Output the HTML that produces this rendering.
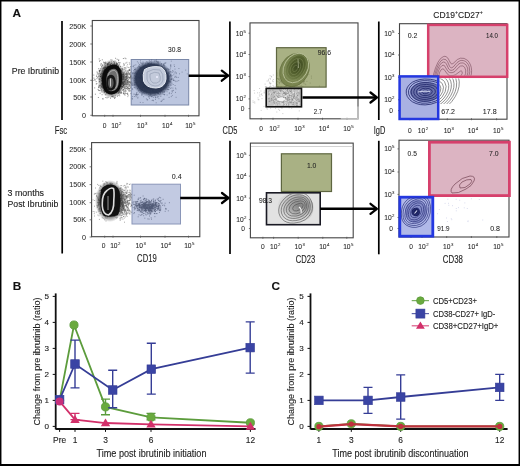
<!DOCTYPE html><html><head><meta charset="utf-8"><style>html,body{margin:0;padding:0;background:#fff;}svg{display:block;will-change:transform;}</style></head><body>
<svg width="520" height="466" viewBox="0 0 520 466" font-family='"Liberation Sans", sans-serif'>
<rect width="520" height="466" fill="#fff"/>
<text x="12.6" y="17.3" font-size="11.8" fill="#111" font-weight="bold" stroke="#222" stroke-width="0.12">A</text>
<text x="11.8" y="73.6" font-size="9.4" fill="#222" textLength="47.2" lengthAdjust="spacingAndGlyphs" stroke="#222" stroke-width="0.12">Pre Ibrutinib</text>
<text x="7.5" y="195.9" font-size="9.4" fill="#222" textLength="36.5" lengthAdjust="spacingAndGlyphs" stroke="#222" stroke-width="0.12">3 months</text>
<text x="7.5" y="206.6" font-size="9.4" fill="#222" textLength="50.9" lengthAdjust="spacingAndGlyphs" stroke="#222" stroke-width="0.12">Post Ibrutinib</text>
<line x1="62" y1="21" x2="62" y2="120" stroke="#000" stroke-width="1.7"/>
<line x1="229.9" y1="21.5" x2="229.9" y2="120" stroke="#000" stroke-width="1.7"/>
<line x1="378.8" y1="21.5" x2="378.8" y2="120" stroke="#000" stroke-width="1.7"/>
<line x1="62.2" y1="140.5" x2="62.2" y2="253.5" stroke="#000" stroke-width="1.7"/>
<line x1="230" y1="140.8" x2="230" y2="254" stroke="#000" stroke-width="1.7"/>
<line x1="378.8" y1="140.8" x2="378.8" y2="254.3" stroke="#000" stroke-width="1.7"/>
<text x="54.8" y="133.7" font-size="10.4" fill="#222" textLength="12.4" lengthAdjust="spacingAndGlyphs" stroke="#222" stroke-width="0.12">Fsc</text>
<text x="222.6" y="133.6" font-size="10.4" fill="#222" textLength="14.8" lengthAdjust="spacingAndGlyphs" stroke="#222" stroke-width="0.12">CD5</text>
<text x="373.7" y="133.8" font-size="10.4" fill="#222" textLength="11.6" lengthAdjust="spacingAndGlyphs" stroke="#222" stroke-width="0.12">IgD</text>
<text x="137.1" y="262.2" font-size="10.4" fill="#222" textLength="19.6" lengthAdjust="spacingAndGlyphs" stroke="#222" stroke-width="0.12">CD19</text>
<text x="295.7" y="262.8" font-size="10.4" fill="#222" textLength="19.5" lengthAdjust="spacingAndGlyphs" stroke="#222" stroke-width="0.12">CD23</text>
<text x="442.8" y="262.5" font-size="10.4" fill="#222" textLength="20.1" lengthAdjust="spacingAndGlyphs" stroke="#222" stroke-width="0.12">CD38</text>
<rect x="92.3" y="20.5" width="106.7" height="95.3" fill="none" stroke="#444" stroke-width="1.1"/>
<text x="86" y="28.6" font-size="7.2" fill="#2a2a2a" text-anchor="end" stroke="#222" stroke-width="0.05">250K</text>
<line x1="90.3" y1="26" x2="92.3" y2="26" stroke="#555" stroke-width="0.8"/>
<text x="86" y="46.6" font-size="7.2" fill="#2a2a2a" text-anchor="end" stroke="#222" stroke-width="0.05">200K</text>
<line x1="90.3" y1="44" x2="92.3" y2="44" stroke="#555" stroke-width="0.8"/>
<text x="86" y="64.6" font-size="7.2" fill="#2a2a2a" text-anchor="end" stroke="#222" stroke-width="0.05">150K</text>
<line x1="90.3" y1="62" x2="92.3" y2="62" stroke="#555" stroke-width="0.8"/>
<text x="86" y="82.89999999999999" font-size="7.2" fill="#2a2a2a" text-anchor="end" stroke="#222" stroke-width="0.05">100K</text>
<line x1="90.3" y1="80.3" x2="92.3" y2="80.3" stroke="#555" stroke-width="0.8"/>
<text x="86" y="99.6" font-size="7.2" fill="#2a2a2a" text-anchor="end" stroke="#222" stroke-width="0.05">50K</text>
<line x1="90.3" y1="97" x2="92.3" y2="97" stroke="#555" stroke-width="0.8"/>
<text x="86" y="117.89999999999999" font-size="7.2" fill="#2a2a2a" text-anchor="end" stroke="#222" stroke-width="0.05">0</text>
<line x1="90.3" y1="115.3" x2="92.3" y2="115.3" stroke="#555" stroke-width="0.8"/>
<text x="104.7" y="128.4" font-size="6.7" fill="#2a2a2a" text-anchor="middle" stroke="#222" stroke-width="0.05">0</text>
<text x="116.3" y="128.4" font-size="6.7" fill="#2a2a2a" stroke="#222" stroke-width="0.08" text-anchor="middle">10<tspan font-size="4.3" dx="0.5" dy="-2.9">2</tspan></text>
<text x="142.2" y="128.4" font-size="6.7" fill="#2a2a2a" stroke="#222" stroke-width="0.08" text-anchor="middle">10<tspan font-size="4.3" dx="0.5" dy="-2.9">3</tspan></text>
<text x="167.2" y="128.4" font-size="6.7" fill="#2a2a2a" stroke="#222" stroke-width="0.08" text-anchor="middle">10<tspan font-size="4.3" dx="0.5" dy="-2.9">4</tspan></text>
<text x="190.3" y="128.4" font-size="6.7" fill="#2a2a2a" stroke="#222" stroke-width="0.08" text-anchor="middle">10<tspan font-size="4.3" dx="0.5" dy="-2.9">5</tspan></text>
<line x1="104.7" y1="114.8" x2="104.7" y2="116.8" stroke="#555" stroke-width="0.8"/>
<line x1="113" y1="114.8" x2="113" y2="116.8" stroke="#555" stroke-width="0.8"/>
<line x1="140.5" y1="114.8" x2="140.5" y2="116.8" stroke="#555" stroke-width="0.8"/>
<line x1="165" y1="114.8" x2="165" y2="116.8" stroke="#555" stroke-width="0.8"/>
<line x1="188.5" y1="114.8" x2="188.5" y2="116.8" stroke="#555" stroke-width="0.8"/>
<defs><radialGradient id="hk"><stop offset="0" stop-color="#000" stop-opacity="1"/><stop offset="0.6" stop-color="#111" stop-opacity="0.95"/><stop offset="1" stop-color="#333" stop-opacity="0"/></radialGradient><radialGradient id="hb"><stop offset="0" stop-color="#253048" stop-opacity="1"/><stop offset="0.78" stop-color="#2b3650" stop-opacity="0.95"/><stop offset="0.9" stop-color="#3a4560" stop-opacity="0.4"/><stop offset="1" stop-color="#3a4560" stop-opacity="0"/></radialGradient></defs>
<rect x="131.2" y="59.5" width="57.5" height="45.5" fill="#bcc6df" stroke="#7a88a8" stroke-width="1"/>
<ellipse cx="111.5" cy="79" rx="14" ry="19.5" fill="url(#hk)"/>
<path d="M109.8 83.1h0M110.0 76.5h0M105.5 77.3h0M118.7 82.4h0M118.2 81.0h0M114.1 80.5h0M100.7 85.8h0M114.8 83.0h0M100.5 65.0h0M105.7 75.3h0M113.5 78.6h0M114.9 73.9h0M113.5 82.2h0M107.2 92.7h0M115.1 88.6h0M107.5 73.1h0M109.3 78.1h0M115.6 81.0h0M108.6 71.3h0M108.1 88.8h0M106.2 81.0h0M114.3 67.1h0M111.8 89.4h0M98.4 76.4h0M110.8 72.5h0M114.7 78.5h0M102.0 85.6h0M115.9 86.6h0M120.9 81.9h0M112.3 68.6h0M115.5 74.1h0M108.6 68.9h0M105.2 74.8h0M119.9 62.7h0M102.0 80.9h0M120.9 83.6h0M99.2 58.9h0M113.8 73.1h0M104.2 86.8h0M118.7 80.3h0M113.1 82.5h0M121.9 84.0h0M114.9 83.4h0M101.3 89.3h0M117.7 83.2h0M98.7 73.9h0M117.0 64.5h0M110.3 87.2h0M103.0 91.9h0M115.1 77.8h0M113.6 84.2h0M112.3 88.2h0M107.2 75.7h0M118.3 79.2h0M105.8 86.6h0M121.0 75.4h0M102.5 77.9h0M110.5 76.6h0M120.6 70.8h0M119.7 68.9h0M106.4 84.1h0M118.8 85.9h0M113.7 80.1h0M112.5 83.6h0M110.4 81.2h0M115.2 79.0h0M116.5 83.5h0M124.6 81.6h0M108.7 76.0h0M111.4 86.4h0M109.3 82.1h0M123.4 58.5h0M104.2 81.0h0M114.1 80.9h0M108.7 84.2h0M113.3 74.8h0M127.3 81.8h0M107.9 78.2h0M110.0 78.5h0M93.8 75.1h0M118.1 69.7h0M111.1 86.6h0M117.1 90.9h0M100.4 76.2h0M109.3 84.0h0M118.6 67.4h0M115.9 67.1h0M112.6 88.6h0M110.5 80.5h0M116.7 80.1h0M110.9 91.3h0M118.3 76.6h0M129.3 69.8h0M117.4 76.9h0M112.4 84.6h0M112.9 84.1h0M101.6 66.9h0M115.5 71.3h0M104.8 67.2h0M119.7 85.0h0M121.1 71.5h0M111.5 69.9h0M116.5 91.7h0M105.7 91.5h0M117.9 77.6h0M98.7 90.3h0M110.9 74.2h0M114.1 82.3h0M121.2 70.8h0M118.9 90.9h0M120.9 77.6h0M106.7 87.1h0M112.2 80.0h0M120.8 76.9h0M96.6 75.9h0M99.4 85.6h0M113.6 74.1h0M111.4 85.7h0M112.0 89.6h0M111.1 87.3h0M121.2 91.9h0M107.1 86.0h0M99.3 70.3h0M98.7 87.6h0M103.5 78.9h0M110.3 78.8h0M107.7 80.9h0M123.1 79.4h0M115.0 87.0h0M110.2 68.9h0M107.9 87.6h0M100.8 74.2h0M118.0 85.3h0M111.5 85.4h0M112.6 69.6h0M101.3 73.9h0M117.5 74.5h0M105.6 72.8h0M101.5 78.1h0M103.8 81.9h0M96.2 81.6h0M107.3 63.5h0M116.2 76.8h0M97.0 72.0h0M113.4 75.3h0M116.6 85.0h0M115.8 81.6h0M120.2 84.3h0M114.4 62.3h0M117.3 89.5h0M109.6 75.2h0M124.1 64.9h0M114.5 98.4h0M105.5 84.5h0M123.8 78.0h0M115.1 86.2h0M105.6 78.3h0M113.4 85.6h0M111.3 77.4h0M104.9 76.1h0M117.3 79.8h0M106.0 72.3h0M128.8 88.1h0M115.6 58.3h0M115.5 82.8h0M122.4 82.4h0M111.1 83.2h0M98.9 87.3h0M113.6 73.4h0M120.1 93.5h0M102.4 73.7h0M113.4 80.5h0M108.9 71.2h0M125.3 87.3h0M103.7 68.2h0M122.6 86.9h0M123.3 85.5h0M105.8 81.1h0M97.5 73.0h0M111.1 83.2h0M106.8 78.0h0M114.5 82.0h0M115.6 80.7h0M109.4 85.3h0M111.8 72.4h0M107.4 79.0h0M110.8 80.3h0M111.5 80.4h0M110.6 68.9h0M114.2 87.4h0M114.3 77.5h0M114.4 71.3h0M99.2 79.5h0M105.5 84.9h0M104.7 91.6h0M109.0 68.0h0M106.5 83.2h0M114.7 80.4h0M121.1 84.7h0M111.4 83.8h0M122.3 86.8h0M118.2 70.3h0M110.5 84.8h0M109.6 87.6h0M115.4 86.3h0M119.6 77.3h0M109.3 86.0h0M117.9 79.1h0M103.9 80.5h0M113.8 88.0h0M116.6 79.2h0M117.0 83.3h0M112.8 79.4h0M109.9 84.5h0M104.6 74.0h0M111.5 67.3h0M108.7 62.9h0M107.1 83.5h0M115.2 78.6h0M110.0 67.7h0M123.4 83.1h0M118.6 71.9h0M110.3 64.4h0M116.6 86.5h0M99.2 78.6h0M115.6 64.9h0M99.6 70.5h0M107.4 67.8h0M111.7 81.0h0M115.6 84.6h0M121.3 88.3h0M103.0 75.0h0M104.6 70.4h0M111.0 79.0h0M114.7 66.3h0M103.5 78.8h0M110.2 76.5h0M111.1 72.9h0M116.1 81.8h0M110.9 73.6h0M105.1 79.3h0M101.7 80.6h0M112.5 68.0h0M109.9 76.5h0M114.5 83.9h0M111.3 72.2h0M110.6 78.5h0M116.3 81.4h0M106.8 68.2h0M109.1 73.1h0M104.3 78.1h0M108.3 79.8h0M114.9 75.7h0M126.6 76.4h0M118.7 80.0h0M118.8 60.0h0M106.6 81.0h0M115.4 97.7h0M113.6 89.2h0M116.5 86.6h0M114.8 77.8h0M114.8 70.4h0M119.2 70.9h0M113.1 96.0h0M110.0 79.2h0M119.1 79.2h0M106.3 81.1h0M115.3 84.7h0M106.5 93.0h0M122.3 79.1h0M113.2 75.6h0M120.7 73.4h0M115.9 75.2h0M107.0 84.7h0M120.2 78.9h0M107.1 85.5h0M111.2 81.5h0M121.4 88.1h0M108.1 97.3h0M111.5 85.3h0M107.3 78.6h0M100.1 93.3h0M120.4 69.3h0M101.7 66.0h0M119.1 75.3h0M111.1 76.5h0M110.7 70.3h0M111.7 67.5h0M111.0 81.5h0M114.5 77.1h0M105.6 80.3h0M108.3 91.5h0M116.5 78.1h0M108.4 73.4h0M105.4 76.2h0M113.4 83.1h0M115.2 95.8h0M106.9 79.1h0M129.7 64.1h0M108.1 80.4h0M112.5 82.3h0M109.9 81.9h0M111.8 85.2h0M99.2 71.9h0M111.5 70.7h0M104.7 84.0h0M107.3 84.1h0M116.3 81.5h0M114.8 78.2h0M102.3 78.8h0M114.5 74.8h0M110.9 85.0h0M105.8 84.1h0M123.6 74.6h0M112.5 77.8h0M121.5 81.5h0M117.3 73.5h0M111.4 78.9h0M100.0 90.5h0M117.3 65.0h0M116.3 78.0h0M114.4 81.9h0M101.8 77.3h0M121.2 74.4h0M104.9 68.1h0M103.6 81.7h0M122.5 82.4h0M113.1 96.9h0M108.1 73.6h0M114.9 83.4h0M104.9 69.6h0M113.4 81.0h0M103.0 77.4h0M108.0 82.7h0M110.7 78.3h0M109.2 87.4h0M120.5 76.1h0M117.0 72.9h0M112.0 85.0h0M121.3 75.9h0M111.0 80.6h0M101.8 79.1h0M107.1 82.0h0M104.2 63.2h0M111.7 81.1h0M107.9 86.1h0M109.7 74.2h0M114.6 66.5h0M107.1 78.8h0M117.0 77.7h0M113.5 73.8h0M113.5 92.3h0M107.0 97.9h0M107.3 79.1h0M112.6 87.2h0M103.5 62.2h0M115.4 85.4h0M112.8 81.0h0M117.5 82.0h0M122.3 69.1h0M116.8 76.0h0M117.5 96.2h0M111.5 77.0h0M108.3 72.3h0M107.4 84.1h0M111.7 79.5h0M110.4 86.3h0M114.7 77.9h0M115.8 77.8h0M104.0 90.6h0M114.5 71.3h0M118.5 81.8h0M101.3 91.9h0M113.7 86.1h0M112.8 77.8h0M101.4 86.8h0M111.7 76.7h0M113.8 79.6h0M115.9 76.0h0M111.3 61.9h0M108.7 84.4h0M120.2 76.1h0M110.7 91.7h0M109.4 84.9h0M122.4 79.3h0M119.5 73.3h0M112.8 78.4h0M112.2 88.0h0M127.0 73.7h0M107.8 83.0h0M104.6 83.0h0M115.2 76.8h0M115.0 66.6h0M116.4 66.6h0M107.0 74.6h0M108.9 85.9h0M112.0 75.8h0M115.0 91.7h0M111.5 81.9h0M119.6 81.1h0M103.2 98.9h0M125.9 63.1h0M111.2 82.3h0M117.8 84.4h0M109.7 70.6h0M112.2 87.3h0M104.4 70.8h0M111.3 63.5h0M109.8 75.5h0M114.4 73.4h0M105.8 75.8h0M111.2 73.7h0M111.6 85.0h0M119.2 92.6h0M106.4 75.6h0M95.4 94.2h0M106.8 78.7h0M114.9 68.1h0M114.5 78.8h0M99.6 81.3h0M119.3 64.1h0M116.7 80.7h0M114.6 82.5h0M120.0 77.2h0M117.2 75.7h0M116.2 72.5h0M110.8 92.8h0M114.4 77.7h0M104.1 72.7h0M112.8 86.5h0M114.3 83.2h0M111.2 89.8h0M109.0 74.6h0M117.3 79.5h0M109.7 74.4h0M109.8 84.0h0M113.8 69.3h0M114.3 80.4h0M105.0 85.2h0M109.7 76.3h0M116.7 89.6h0M107.0 82.5h0M105.8 97.5h0M108.3 88.6h0M107.3 85.5h0M125.9 58.7h0M108.7 83.0h0M110.9 73.7h0M125.5 79.6h0M100.8 85.8h0M100.3 88.2h0M107.7 80.2h0M119.7 79.9h0M102.5 65.4h0M119.2 84.9h0M106.2 85.9h0M114.7 84.2h0M96.8 76.6h0M117.4 84.9h0M117.2 59.3h0M112.6 82.9h0M128.1 71.4h0M109.4 79.3h0M117.3 75.5h0M119.0 72.7h0M113.2 74.8h0M112.5 73.5h0M101.1 87.7h0M113.5 74.5h0M112.8 86.9h0M105.1 78.1h0M115.0 83.2h0M109.3 62.1h0M119.6 81.6h0M111.6 76.8h0M113.2 75.6h0M104.8 73.1h0M107.6 74.1h0M104.0 84.1h0M103.0 84.3h0M104.9 81.8h0M120.4 80.6h0M106.7 79.4h0M112.5 65.1h0M107.6 80.3h0M108.5 79.6h0M116.3 85.1h0M117.4 83.7h0M109.6 78.9h0M109.7 76.5h0M110.3 65.2h0M109.3 78.8h0M105.2 78.8h0M114.9 77.7h0M125.0 58.1h0M110.2 64.4h0M95.2 80.0h0M114.9 76.6h0M115.1 61.1h0M117.0 82.0h0M111.6 74.3h0M115.6 75.1h0M113.0 74.9h0M96.9 78.7h0M112.8 85.0h0M105.8 78.7h0M115.5 80.2h0M119.6 94.9h0M105.6 63.6h0M117.1 91.2h0M117.5 85.5h0M107.5 73.3h0M117.3 71.7h0M99.7 71.0h0M127.7 94.4h0M107.0 73.2h0M113.0 73.0h0M120.0 78.4h0M104.4 89.5h0M107.7 80.8h0M111.4 76.5h0M113.6 73.5h0M99.5 61.3h0M103.3 72.9h0M111.4 79.4h0M115.1 80.0h0M106.3 73.3h0M97.7 77.6h0M114.7 83.2h0M110.7 77.6h0M117.6 79.1h0M116.3 83.7h0M112.9 89.5h0M107.8 76.1h0M106.2 72.6h0M121.6 93.1h0M111.6 83.5h0M119.1 85.5h0M119.3 68.9h0M107.3 82.6h0M120.8 79.8h0M105.9 76.2h0M107.2 72.1h0M121.3 74.0h0M111.6 96.3h0M119.2 81.7h0M107.5 82.3h0M122.0 84.0h0M119.7 79.8h0M114.9 77.4h0M114.3 89.4h0M102.2 78.5h0M113.1 74.4h0M109.5 85.3h0M124.5 84.0h0M113.6 66.6h0M124.0 79.6h0M111.3 70.1h0M111.1 70.2h0M112.0 82.7h0M111.7 81.2h0M106.0 90.4h0M107.3 64.5h0M110.3 72.9h0M104.9 76.2h0M113.4 69.5h0M110.6 90.4h0M115.9 77.8h0M112.3 78.0h0M111.2 84.9h0M110.9 59.8h0M111.4 71.9h0M115.7 74.1h0M112.5 96.4h0M104.7 70.0h0M102.3 59.8h0M99.3 81.9h0M107.4 64.1h0M101.9 83.9h0M106.5 76.1h0M113.6 89.9h0M124.1 87.3h0M112.4 80.5h0M123.2 90.4h0M109.5 82.7h0M113.4 79.4h0M108.2 68.4h0M108.0 66.6h0M119.5 83.3h0M103.7 90.2h0M117.3 63.7h0M123.5 85.5h0M124.9 69.2h0M114.9 82.4h0M112.8 80.4h0M118.3 67.0h0M103.4 67.8h0M107.9 74.2h0M113.9 81.1h0M111.7 73.6h0M108.6 86.6h0M116.5 79.8h0M109.4 91.4h0M107.6 84.2h0M119.0 76.9h0M116.9 70.1h0M118.1 80.6h0M101.2 84.4h0M105.7 89.3h0M107.1 77.7h0M113.3 76.3h0M113.2 74.6h0M115.9 79.0h0M119.0 79.3h0M99.9 79.8h0M114.5 87.6h0M104.5 91.4h0M110.5 98.2h0M110.5 84.4h0M109.1 70.1h0M118.6 86.3h0M121.5 85.9h0M107.8 65.7h0M107.3 73.6h0M106.2 83.7h0M113.6 76.8h0M112.6 77.8h0M112.9 85.0h0M117.7 73.5h0M101.7 90.4h0M112.2 87.8h0M100.8 76.4h0M111.7 67.5h0M108.1 84.8h0M118.5 91.8h0M105.9 67.8h0M114.9 86.5h0M112.8 68.6h0M116.6 85.3h0M115.1 75.1h0M113.5 85.3h0M107.9 64.3h0M113.6 82.8h0M111.6 86.1h0M107.7 78.3h0M109.5 83.6h0M121.9 77.0h0M124.9 91.2h0M116.6 83.7h0M123.0 77.6h0M110.8 70.5h0M114.6 89.8h0M115.0 82.4h0M110.2 80.4h0M102.2 87.4h0M108.8 70.2h0M106.6 72.4h0M117.1 87.5h0M102.7 86.4h0M117.3 74.4h0M101.8 73.0h0M107.4 81.7h0M109.2 62.8h0M113.0 66.7h0M117.4 69.3h0M107.0 72.2h0M108.0 89.4h0M117.0 83.8h0M113.6 66.6h0M108.1 74.6h0M105.1 83.1h0M106.7 73.3h0M104.7 62.5h0M115.4 89.6h0M112.6 71.2h0M93.9 80.4h0M119.4 81.4h0M117.5 90.8h0M118.8 75.5h0M118.3 85.2h0M101.5 75.8h0M102.2 78.1h0M115.3 70.5h0M98.1 89.4h0M113.9 90.8h0M102.9 87.5h0M125.0 95.1h0M110.1 81.2h0M110.5 87.0h0M118.2 79.7h0M102.7 84.9h0M108.4 84.0h0M113.2 92.0h0M118.9 75.4h0M113.8 93.1h0M108.0 82.5h0M119.2 89.1h0M114.9 68.4h0M103.3 81.0h0M105.9 88.1h0M116.5 65.6h0M106.2 80.3h0M108.3 77.8h0M114.6 72.5h0M114.5 73.9h0M108.0 83.3h0M107.8 81.3h0M121.9 79.2h0M110.6 84.9h0M109.1 87.7h0M103.2 83.9h0M108.2 72.6h0M123.0 72.2h0M122.9 84.3h0M120.9 71.2h0M119.3 90.7h0M110.7 78.0h0M127.5 80.4h0M108.8 74.0h0M114.4 81.6h0M112.7 92.8h0M109.4 82.8h0M121.0 71.0h0M118.3 93.7h0M102.7 70.2h0M104.8 64.2h0M114.4 64.2h0M114.7 90.6h0M101.0 76.5h0M99.0 85.2h0M106.7 76.9h0M111.9 83.4h0M109.2 79.1h0M107.9 79.9h0M103.9 79.5h0M98.9 75.1h0M123.9 79.6h0M103.3 81.1h0M105.2 65.8h0M106.7 84.9h0M114.0 78.2h0M105.5 70.4h0M120.3 81.0h0M105.3 62.1h0M102.6 98.8h0M104.0 78.4h0M112.9 77.7h0M109.7 68.0h0M104.7 92.5h0M106.6 85.8h0M100.5 76.8h0M113.2 87.3h0M104.2 83.8h0M114.0 73.1h0M114.6 71.8h0M106.3 78.8h0M93.9 78.1h0M105.0 67.3h0M108.7 85.1h0M108.9 89.1h0M104.0 68.5h0M121.6 82.2h0M117.6 72.4h0M116.7 81.1h0M115.7 79.2h0M119.3 73.8h0M105.2 67.2h0M119.0 73.1h0M104.7 71.5h0M108.6 68.8h0M109.6 74.0h0M107.9 71.3h0M111.7 75.3h0M112.2 81.0h0M113.7 61.5h0M108.0 72.6h0M116.5 66.4h0M106.9 76.6h0M109.3 86.9h0M108.6 86.7h0M102.0 64.5h0M119.4 82.5h0M114.7 80.0h0M114.6 69.3h0M117.7 74.7h0M117.9 79.7h0M98.7 68.7h0M118.8 77.9h0M108.9 80.9h0M108.7 74.6h0M112.2 80.2h0M121.4 79.4h0M123.7 93.4h0M122.7 87.5h0M112.3 80.1h0M110.6 73.2h0M111.1 73.9h0M122.2 83.3h0M108.6 63.7h0M111.2 75.7h0M104.4 69.9h0M96.9 83.6h0M111.3 77.8h0M120.9 80.1h0M112.6 76.0h0M107.6 91.0h0M118.0 92.7h0M109.2 79.2h0M105.8 86.7h0M102.4 83.5h0M118.6 90.3h0M105.4 87.7h0M106.9 72.9h0M102.9 88.2h0M122.2 74.2h0M106.6 76.3h0M127.8 87.0h0M108.0 64.6h0M107.1 88.5h0M123.6 76.9h0M107.0 74.9h0M99.2 86.3h0M104.4 87.5h0M100.4 68.8h0M113.4 72.9h0M116.6 79.1h0M103.9 84.0h0M117.0 63.7h0M123.4 83.0h0M116.4 64.1h0M106.8 76.2h0M118.5 67.3h0M105.8 62.8h0M109.9 81.8h0M100.5 74.3h0M114.8 91.7h0M115.8 76.6h0M103.8 71.5h0M107.2 80.2h0M111.2 92.3h0M113.4 70.4h0M121.5 86.6h0M112.2 73.2h0M99.3 70.8h0M117.4 72.6h0M102.9 80.6h0M113.1 83.9h0M115.8 90.3h0M106.0 86.8h0M105.1 84.6h0M112.7 80.9h0M117.8 78.9h0M118.7 86.0h0M112.4 74.5h0M106.6 74.8h0M110.2 78.8h0M130.9 84.1h0M116.5 72.1h0M106.9 76.4h0M112.7 70.7h0M122.0 74.5h0M118.5 60.3h0M111.5 81.2h0M112.7 83.8h0M113.3 80.3h0M99.2 73.3h0M96.3 84.0h0M113.5 77.4h0M106.2 74.3h0M123.5 92.8h0M111.1 89.3h0M101.2 63.5h0M108.4 72.0h0M107.9 80.5h0M111.8 81.2h0M111.3 86.4h0M123.0 69.1h0M112.6 76.9h0M113.8 66.7h0M100.1 60.5h0M114.9 80.5h0M112.0 60.1h0M109.1 73.0h0M102.3 71.7h0M116.0 83.4h0M111.4 83.1h0M107.6 79.6h0M111.8 83.4h0M111.0 77.9h0M110.6 73.8h0M126.0 83.1h0M114.3 97.3h0M120.6 66.5h0M116.0 85.7h0M123.8 89.5h0M116.5 69.6h0M105.8 81.2h0M114.8 70.8h0M109.0 75.8h0M111.9 81.7h0M109.6 69.1h0M119.6 91.8h0M110.8 87.2h0M114.4 84.3h0M114.6 72.9h0M115.2 87.1h0M105.7 94.7h0M125.1 93.6h0M124.4 84.9h0M109.3 74.2h0M106.2 79.9h0M111.3 84.4h0M98.4 97.5h0M126.3 78.8h0M115.9 82.8h0M113.3 77.3h0M110.7 72.4h0M112.7 78.8h0M113.6 72.2h0M111.8 79.4h0M115.4 70.5h0M114.2 86.9h0M115.4 76.1h0M108.3 77.1h0M116.2 91.4h0M110.5 73.9h0M113.9 80.6h0M105.6 73.1h0M110.8 84.4h0M103.7 70.9h0M114.7 69.2h0M112.2 81.8h0M110.8 70.9h0M111.1 76.3h0M113.7 72.3h0M118.6 65.6h0M110.4 79.1h0M117.8 74.1h0M115.0 74.5h0M116.3 92.9h0M108.9 82.5h0M105.5 86.8h0M119.4 79.3h0M104.1 82.2h0M119.0 87.7h0M116.8 64.4h0M107.1 90.4h0M103.5 88.1h0M123.7 85.1h0M118.8 76.3h0M103.5 78.2h0M110.2 78.6h0M116.0 77.8h0M112.7 82.4h0M111.5 93.7h0M114.4 79.7h0M110.2 74.0h0M120.2 80.2h0M104.5 74.5h0M110.6 75.4h0M118.5 69.7h0M114.7 80.1h0M103.8 79.4h0M110.9 83.0h0M108.6 81.4h0M100.7 70.3h0M116.6 87.3h0M111.4 74.2h0M118.5 62.3h0M106.3 84.4h0M115.7 70.7h0M99.2 90.6h0M112.5 71.8h0M111.9 86.2h0M94.7 87.9h0M116.3 62.4h0M116.5 64.8h0M118.9 82.2h0M126.1 74.1h0M111.5 87.4h0M107.3 73.4h0M109.1 78.4h0M104.5 82.9h0M115.0 79.6h0M122.6 76.4h0M120.0 74.6h0M116.4 63.5h0M112.8 77.6h0M108.3 74.1h0M109.2 73.2h0M97.2 74.2h0M107.9 74.8h0M104.6 77.9h0M116.6 77.0h0M108.3 89.9h0M117.9 86.4h0M119.0 76.4h0M110.7 87.9h0M107.9 78.0h0M114.0 82.0h0M109.7 86.9h0M110.3 84.8h0M118.5 84.3h0M116.3 69.7h0M103.0 74.1h0M114.6 91.0h0M103.6 81.5h0M105.9 73.1h0M109.7 84.5h0M112.9 88.4h0M105.1 86.1h0M117.5 79.6h0M114.6 74.5h0M104.4 75.8h0M108.3 92.2h0M112.8 81.5h0M116.3 72.8h0M117.5 82.0h0M101.6 83.8h0M115.1 82.6h0M121.8 75.7h0M114.8 85.0h0M105.6 88.6h0M102.1 68.6h0M114.9 70.3h0M110.7 65.8h0M111.9 69.9h0M113.7 66.7h0M114.4 76.9h0M111.9 78.5h0M112.3 68.4h0M94.8 79.3h0M105.4 75.4h0M114.3 63.1h0M106.5 74.1h0M104.6 81.6h0M110.6 72.4h0M105.1 85.5h0M107.2 83.7h0M114.4 63.8h0M104.5 79.0h0M113.7 85.2h0M116.7 87.3h0M109.1 77.3h0M116.5 75.6h0M118.4 66.3h0M115.7 77.6h0M98.7 86.8h0M113.5 79.2h0M104.5 75.3h0M121.3 72.4h0M103.7 77.9h0M108.9 71.7h0M106.0 87.4h0M102.1 94.7h0M108.0 70.3h0M116.6 83.5h0M104.7 85.0h0M99.5 71.6h0M118.8 77.0h0M103.0 83.1h0M117.5 78.8h0M99.8 76.2h0M114.2 85.1h0M123.5 77.0h0M108.4 78.7h0M119.3 71.5h0M116.7 73.6h0M114.5 84.5h0M103.8 78.3h0M113.1 83.7h0M105.5 71.1h0M110.2 77.2h0M101.8 86.4h0M108.0 90.5h0M117.0 79.2h0M116.2 70.1h0M109.4 74.4h0M103.2 79.1h0M110.6 90.5h0M105.5 75.3h0M114.2 82.2h0M111.7 75.2h0" stroke="#111" stroke-width="0.6" stroke-linecap="square" opacity="0.75"/>
<path d="M127.5 82.3h0M115.8 78.3h0M118.1 72.3h0M125.7 80.4h0M125.6 74.3h0M124.0 74.1h0M126.9 84.5h0M121.0 77.0h0M120.3 82.0h0M114.0 71.8h0M118.5 83.3h0M125.0 81.9h0M120.8 92.8h0M126.7 74.9h0M114.9 70.1h0M112.8 80.4h0M125.2 86.5h0M124.3 75.5h0M121.3 92.4h0M116.2 81.1h0M125.1 84.0h0M123.0 83.2h0M129.1 79.0h0M122.7 78.8h0M120.2 78.6h0M123.5 81.4h0M122.8 83.9h0M126.5 85.0h0M125.1 81.7h0M122.7 74.9h0M129.4 88.4h0M128.3 82.8h0M126.3 77.1h0M116.1 84.3h0M126.0 76.4h0M120.2 88.3h0M116.0 91.5h0M128.2 95.4h0M121.4 79.9h0M122.5 81.0h0M124.0 75.1h0M130.4 74.9h0M122.5 83.6h0M122.3 77.2h0M126.8 77.6h0M118.8 79.3h0M123.9 91.1h0M119.5 86.3h0M121.1 77.7h0M123.4 81.8h0M129.3 91.4h0M121.8 88.6h0M130.0 85.3h0M121.2 85.9h0M124.5 82.3h0M123.7 84.3h0M130.6 87.4h0M124.0 86.5h0M127.7 83.9h0M122.6 74.8h0M118.7 85.0h0M123.8 75.3h0M127.7 75.0h0M122.8 77.0h0M124.2 69.8h0M126.4 80.5h0M126.7 83.7h0M123.4 86.0h0M129.2 81.4h0M123.0 76.9h0M128.5 72.9h0M124.2 75.1h0M118.0 83.9h0M124.9 80.2h0M129.4 70.3h0M124.7 81.9h0M129.2 72.9h0M128.6 81.4h0M127.7 94.0h0M125.0 77.2h0M123.3 73.9h0M124.9 67.8h0M124.6 82.8h0M130.0 77.7h0M124.3 67.8h0M121.2 74.9h0M119.6 83.4h0M127.4 78.5h0M125.1 78.1h0M122.4 68.7h0M124.6 88.2h0M121.4 78.7h0M129.4 82.2h0M122.2 82.3h0M124.0 83.3h0M123.0 70.7h0M125.3 84.8h0M119.6 79.3h0M129.3 77.6h0M121.8 92.9h0M129.0 86.5h0M120.4 90.3h0M116.9 76.7h0M128.6 88.4h0M120.5 75.8h0M126.0 67.8h0M128.1 83.5h0M122.8 83.4h0M128.8 82.0h0M127.5 89.6h0M122.7 81.0h0M122.5 86.5h0M123.0 83.0h0M125.7 80.4h0M129.5 84.8h0M122.0 81.7h0M124.4 79.8h0M116.9 69.1h0M122.8 76.0h0M125.1 83.6h0M127.2 75.4h0M127.8 88.5h0M129.3 89.9h0M129.0 70.6h0M123.5 83.7h0M127.0 74.9h0M120.7 86.0h0M118.6 89.0h0M125.1 81.9h0M118.6 76.3h0M128.3 70.8h0M119.1 80.3h0M127.3 84.6h0M123.2 78.7h0M123.9 76.4h0M112.6 86.0h0M126.2 81.0h0M122.0 81.6h0M124.9 79.5h0M130.3 69.2h0M126.2 73.3h0M123.5 89.4h0M119.8 79.4h0M122.2 85.9h0M120.3 69.5h0M127.5 77.8h0M123.5 86.7h0M120.7 77.7h0M125.7 82.6h0M122.5 86.5h0M125.7 77.9h0M121.9 72.0h0M123.1 88.1h0M130.5 77.8h0M122.5 75.6h0M119.2 91.3h0M128.2 80.7h0M122.6 73.6h0M120.4 86.2h0M119.7 84.0h0M120.4 77.4h0M127.4 82.7h0M129.9 74.8h0M125.0 82.9h0M121.3 79.0h0M118.7 80.6h0M126.0 88.4h0M129.5 85.1h0M123.3 78.6h0M123.4 81.4h0M115.7 84.8h0M117.5 76.8h0M125.1 76.8h0M122.6 82.5h0M125.4 76.5h0M125.3 77.8h0M125.4 86.3h0M126.0 85.3h0M123.6 73.4h0M130.3 74.2h0M129.5 74.0h0M129.1 89.4h0M120.4 89.3h0M121.0 69.0h0M128.5 84.4h0M124.0 64.2h0M124.7 78.1h0M123.2 78.2h0M116.4 76.5h0M123.3 75.6h0M126.9 86.6h0M128.5 72.7h0M125.8 80.9h0M127.5 87.6h0M123.1 89.6h0M123.0 82.5h0M129.4 74.3h0M121.6 69.0h0M125.8 79.7h0M123.4 83.1h0M114.8 79.9h0M125.4 78.3h0M128.8 90.9h0M122.9 74.1h0M122.1 80.6h0M127.8 74.6h0M129.8 73.6h0M129.0 82.7h0M127.2 93.5h0M123.7 79.0h0M127.3 85.4h0M118.6 81.7h0M121.4 83.9h0M124.5 81.1h0M110.8 84.8h0M127.7 81.0h0M123.1 75.4h0M124.1 87.6h0M124.5 88.4h0M112.7 77.1h0M126.3 79.9h0M117.0 75.9h0M131.0 71.9h0M120.2 73.2h0M122.4 84.0h0M127.9 67.3h0M122.2 90.4h0M124.6 72.3h0M121.9 75.5h0M120.2 77.9h0M129.2 82.2h0M120.2 80.7h0M125.2 84.8h0M123.4 82.8h0M119.8 82.0h0M121.1 77.7h0M125.9 82.1h0M123.6 85.3h0M124.1 71.9h0M129.2 77.7h0M130.8 75.9h0M127.7 82.0h0M112.1 70.7h0M119.6 88.8h0M115.9 85.7h0M130.2 83.1h0M128.2 76.9h0M124.9 81.4h0M127.0 84.4h0M124.0 75.6h0M122.3 82.6h0M117.0 72.2h0M123.0 76.5h0M123.7 63.4h0M123.4 78.4h0M128.7 67.6h0M123.5 83.0h0M127.3 87.5h0M130.1 73.4h0M128.1 77.9h0M121.1 89.6h0M122.0 74.7h0M123.0 74.7h0M129.8 82.4h0M122.0 86.5h0M121.9 77.1h0M124.2 80.2h0M130.7 76.2h0M126.7 79.8h0M118.9 73.2h0M123.9 82.5h0M126.5 83.0h0M125.2 77.2h0M127.1 73.7h0M118.5 77.9h0M118.1 76.8h0M121.4 76.5h0M124.8 75.0h0M123.0 69.3h0M125.7 74.5h0M126.9 62.3h0M121.1 81.5h0M113.2 77.7h0M125.5 80.6h0M117.8 81.4h0M125.7 73.9h0M128.6 79.7h0M125.1 77.2h0M127.6 80.6h0M130.5 82.8h0M122.0 78.6h0M129.4 77.7h0M126.8 83.3h0M124.1 65.4h0M125.6 81.3h0M125.7 75.2h0M130.8 79.2h0M122.0 75.5h0M126.7 73.1h0M120.2 92.6h0M116.9 87.5h0M131.0 83.1h0M115.5 87.8h0M125.6 84.9h0M124.6 86.9h0M125.4 84.4h0M125.4 70.7h0M126.4 88.3h0M130.5 90.8h0M127.7 76.2h0M125.1 67.9h0M124.1 85.7h0M114.5 81.2h0M129.0 88.4h0M120.5 75.9h0M115.9 73.6h0M127.6 93.1h0M119.4 88.7h0M127.1 76.9h0M124.7 81.4h0M129.8 88.6h0M127.5 82.3h0M124.1 77.4h0M119.0 92.3h0M122.8 66.9h0M126.3 79.8h0M125.9 91.5h0M124.5 78.3h0M121.4 79.9h0M122.9 81.3h0M120.8 92.2h0M129.2 85.2h0M128.5 85.2h0M128.3 88.9h0M129.9 88.5h0M122.6 80.0h0M121.5 86.1h0M129.0 77.1h0M127.8 96.6h0M124.6 84.0h0M124.8 82.4h0M130.7 82.1h0M119.7 84.5h0M124.5 80.7h0M122.2 71.2h0M118.9 77.8h0M119.8 62.8h0M130.6 72.6h0M121.5 83.4h0M113.3 88.5h0M121.3 84.2h0M122.7 81.9h0M125.5 80.0h0M116.1 70.7h0M124.8 88.9h0M122.3 83.4h0M125.8 83.1h0M129.8 70.5h0M126.3 78.9h0M123.5 74.6h0M121.2 73.5h0M119.7 95.9h0M128.6 73.8h0M111.4 68.5h0M125.7 89.1h0M124.8 73.7h0M123.8 73.7h0M118.2 78.5h0M123.1 74.9h0M120.7 74.1h0M126.2 88.8h0M124.0 94.2h0M117.1 81.7h0M119.4 79.0h0M125.5 83.5h0M130.5 76.5h0M118.9 78.8h0M126.4 75.6h0M129.4 90.7h0M118.1 82.3h0M130.0 67.8h0M126.0 78.6h0M118.1 88.3h0M126.1 77.0h0M127.2 84.1h0M128.7 83.7h0M127.0 72.5h0M122.9 80.8h0M111.5 93.5h0M123.2 73.3h0M116.1 81.6h0M125.2 76.3h0M123.0 74.4h0M121.3 79.4h0M121.9 84.3h0M124.3 80.8h0M127.0 88.1h0M127.9 81.4h0M124.2 74.9h0M123.3 84.3h0M126.1 77.5h0M118.5 70.3h0M126.6 86.5h0M126.8 71.3h0M124.0 81.4h0M120.5 82.2h0M124.0 74.7h0M118.9 85.1h0M126.7 74.4h0M120.1 85.6h0M127.9 78.1h0M119.9 86.9h0M124.1 82.2h0M125.2 73.7h0M119.2 78.8h0M119.6 81.7h0M127.8 74.3h0M114.6 82.3h0M119.6 82.8h0M115.7 79.1h0M121.1 70.6h0M123.8 81.1h0M122.3 72.5h0M126.0 68.9h0M127.6 83.1h0M126.7 81.7h0M125.1 71.6h0M123.6 72.8h0M119.2 84.2h0M126.9 77.4h0M121.9 86.8h0M124.4 85.0h0M123.5 84.6h0M129.0 73.6h0M119.8 79.5h0M129.0 81.7h0M127.4 76.1h0M125.5 82.0h0M120.3 78.6h0M119.4 81.7h0M120.9 76.9h0M126.1 75.9h0M130.6 76.0h0M129.1 81.8h0M120.0 78.6h0M120.9 77.7h0M123.7 91.5h0M123.0 89.9h0M127.2 71.8h0M113.8 84.3h0M115.4 84.5h0M130.0 82.5h0M124.0 78.4h0M126.3 78.1h0M122.4 77.7h0M130.7 76.1h0M126.8 72.8h0M121.5 71.3h0M124.0 84.3h0M126.5 76.9h0M128.0 77.8h0M126.8 81.7h0M127.6 64.4h0M118.7 84.9h0M124.5 94.1h0M123.9 76.5h0M124.0 84.6h0M121.2 77.2h0M122.3 78.6h0M128.8 77.0h0M126.6 76.9h0M129.3 62.7h0M124.0 81.1h0M119.8 86.4h0M126.0 88.1h0M129.6 84.0h0M124.3 73.2h0M123.9 77.1h0M126.2 77.1h0M130.7 77.0h0M123.8 85.8h0M125.0 72.4h0M127.0 78.8h0M115.1 81.2h0M119.9 75.3h0M127.3 81.9h0M123.6 93.6h0M127.0 76.1h0M126.1 79.2h0M114.4 70.1h0M118.3 93.0h0M124.1 78.3h0M122.3 86.2h0M125.1 90.7h0M128.8 90.3h0M124.4 82.4h0M122.9 78.9h0M116.7 76.4h0M120.4 75.9h0M130.9 81.6h0M130.9 85.4h0M129.4 86.3h0M122.1 85.0h0M123.4 76.7h0M130.8 93.6h0M120.3 90.9h0M129.0 74.7h0M126.3 82.3h0M126.8 77.8h0M118.8 80.2h0M129.2 84.9h0M128.2 86.9h0M120.2 79.7h0M126.6 86.3h0M125.8 83.2h0M125.6 93.1h0M114.5 79.8h0M116.2 80.8h0M118.1 75.7h0M126.1 90.7h0M127.2 84.2h0M129.9 81.3h0M120.9 79.4h0M126.6 78.3h0M121.8 77.8h0M117.8 73.6h0M124.6 77.7h0M125.2 88.8h0M126.4 79.8h0M119.4 73.3h0M126.8 74.5h0M127.1 73.3h0M125.6 79.5h0M129.8 77.5h0M123.2 81.5h0M125.3 90.6h0M123.8 76.6h0M123.5 83.0h0M126.1 84.3h0M118.3 95.5h0M119.2 81.0h0M127.0 66.0h0M125.1 70.8h0M127.2 88.6h0M130.0 70.6h0M123.3 83.1h0M124.9 76.5h0M130.6 66.5h0M129.5 69.8h0M120.5 76.3h0M129.0 69.9h0M127.9 76.0h0M131.0 78.1h0M127.3 78.9h0M124.9 92.4h0M125.4 84.3h0M121.5 81.2h0M114.1 80.7h0M121.9 70.6h0M118.2 87.1h0M127.1 70.5h0M123.2 81.5h0M119.5 69.9h0M121.4 87.4h0M129.6 70.1h0M130.8 80.2h0M127.4 80.3h0M127.0 73.7h0M120.6 75.6h0M123.2 83.9h0M119.1 90.0h0M122.0 76.3h0M128.4 82.7h0M123.4 73.3h0M120.2 70.0h0M130.5 86.8h0M126.6 84.7h0M129.6 78.4h0M126.7 93.5h0M116.8 71.2h0M120.4 84.7h0M130.7 77.9h0M128.2 79.7h0M126.4 76.6h0" stroke="#333" stroke-width="0.5" stroke-linecap="square" opacity="0.75"/>
<path d="M102 80C102 72 106 65.5 113 64.5C119 64 122 70 122 78C122 86 120 93 112 94.5C105 95 102 88 102 80Z" fill="#0c0c0c"/>
<path d="M106.3 80C106.3 73.5 109.5 68.8 114 68.8C117.5 69.2 119 73.5 119 80C119 87 116.5 91 111 91.3C107.5 91.3 106.3 87 106.3 80Z" fill="#6e6e6e"/>
<path d="M108 76C109 71.5 112 70.2 114.5 70.5C117 71.5 117.8 75 117.8 80C117.8 85.5 116 89.5 112 90" fill="none" stroke="#c8c8c8" stroke-width="0.7"/>
<path d="M106.3 83C106.3 78 108 74.7 111 74.7C114.5 74.7 115.8 79 115.8 83C115.8 88 114 90.5 110 90.5C107.3 90.5 106.3 87 106.3 83Z" fill="#161616"/>
<ellipse cx="110.8" cy="83" rx="2.8" ry="5.3" fill="#5a5a5a"/>
<path d="M110.5 78.5V86.5" stroke="#c8c8c8" stroke-width="1"/>
<ellipse cx="152" cy="78.8" rx="21" ry="18.5" fill="url(#hb)" clip-path="url(#cg1)"/>
<defs><clipPath id="cg1"><rect x="131.7" y="60" width="56.5" height="44.5"/></clipPath></defs>
<path d="M151.7 78.8h0M164.0 99.2h0M132.8 83.7h0M151.9 87.7h0M163.2 85.9h0M160.6 70.1h0M133.9 94.1h0M164.8 70.1h0M165.7 84.9h0M141.5 89.5h0M144.8 72.0h0M135.6 76.8h0M162.8 72.7h0M132.3 98.4h0M171.6 85.1h0M146.3 67.7h0M134.6 83.9h0M165.8 69.1h0M152.0 76.3h0M149.3 83.4h0M174.2 73.0h0M161.0 88.8h0M149.0 77.4h0M137.8 88.7h0M146.4 72.8h0M152.7 70.9h0M140.9 76.1h0M167.8 76.9h0M157.6 65.4h0M147.8 64.7h0M150.9 84.4h0M133.7 70.7h0M154.8 70.4h0M160.5 87.6h0M156.7 74.9h0M151.5 73.0h0M150.6 81.7h0M148.8 87.7h0M179.5 73.8h0M155.6 86.3h0M158.8 76.6h0M146.9 88.0h0M158.6 83.4h0M143.5 84.6h0M160.4 77.1h0M158.9 98.7h0M132.1 84.4h0M139.6 66.3h0M149.5 83.8h0M152.6 68.1h0M136.7 73.7h0M152.1 71.2h0M136.0 94.9h0M143.1 77.4h0M146.2 73.4h0M152.4 76.1h0M158.6 67.9h0M136.2 96.7h0M151.2 85.9h0M164.6 83.9h0M152.4 64.5h0M135.0 87.8h0M159.2 84.0h0M140.7 67.9h0M153.7 69.4h0M168.9 73.1h0M146.0 86.8h0M155.5 70.5h0M160.8 96.5h0M138.9 76.5h0M140.5 60.9h0M158.7 85.2h0M162.4 82.7h0M144.9 68.0h0M140.2 85.9h0M148.8 96.9h0M157.0 61.2h0M161.6 90.3h0M152.3 67.6h0M170.9 66.7h0M151.1 61.2h0M138.6 63.1h0M163.7 89.7h0M147.7 66.3h0M151.4 82.3h0M135.7 68.1h0M150.9 85.3h0M152.8 83.0h0M155.3 70.3h0M150.7 75.3h0M157.2 71.6h0M167.5 79.1h0M157.7 84.6h0M163.1 82.5h0M133.2 73.0h0M172.0 83.2h0M158.0 83.1h0M145.1 72.5h0M145.0 89.6h0M155.9 95.3h0M157.4 96.4h0M156.9 67.8h0M170.7 81.9h0M164.8 80.8h0M148.5 80.4h0M139.9 67.7h0M142.4 73.9h0M137.4 77.8h0M155.3 97.7h0M171.9 78.3h0M161.5 76.8h0M156.2 78.5h0M146.2 79.5h0M136.0 82.9h0M148.9 68.7h0M148.1 84.0h0M144.7 83.2h0M158.2 93.4h0M140.2 77.8h0M157.5 92.8h0M154.8 85.9h0M136.1 73.3h0M170.0 76.1h0M175.4 72.0h0M149.0 63.9h0M158.9 81.3h0M173.9 80.3h0M149.3 65.6h0M151.1 87.7h0M160.0 90.3h0M161.4 78.4h0M158.6 80.4h0M137.5 94.9h0M156.1 68.9h0M156.2 81.5h0M162.8 92.4h0M168.6 69.9h0M155.7 82.1h0M139.9 74.4h0M154.1 85.8h0M175.9 81.6h0M163.7 77.6h0M150.8 69.5h0M160.0 61.9h0M153.2 79.9h0M155.3 91.1h0M150.9 79.7h0M161.3 64.2h0M148.8 79.4h0M162.4 71.3h0M160.8 82.4h0M135.8 64.9h0M136.4 80.1h0M154.3 85.6h0M161.0 73.6h0M163.7 86.5h0M157.2 83.3h0M137.9 82.2h0M140.7 67.5h0M148.2 80.1h0M151.4 75.7h0M141.1 80.6h0M143.9 65.5h0M153.0 92.5h0M147.6 68.8h0M167.1 95.0h0M148.8 76.8h0M153.5 88.2h0M156.9 61.6h0M139.9 67.1h0M156.7 79.8h0M171.6 76.2h0M155.4 79.5h0M153.5 100.7h0M155.1 92.7h0M166.2 73.1h0M159.5 75.2h0M153.2 80.3h0M152.2 74.4h0M169.1 76.3h0M159.7 94.7h0M158.9 88.5h0M167.2 89.1h0M170.8 65.3h0M173.5 79.1h0M132.8 72.7h0M136.7 78.6h0M135.7 69.3h0M155.2 80.3h0M143.2 76.6h0M150.9 79.5h0M151.9 76.7h0M161.6 63.6h0M146.6 80.1h0M147.6 73.6h0M147.2 80.8h0M165.7 77.0h0M149.1 82.2h0M149.3 60.4h0M154.9 75.2h0M145.7 84.8h0M152.5 73.4h0M152.2 77.7h0M156.8 80.9h0M146.7 66.8h0M140.0 77.5h0M139.4 86.0h0M137.4 61.8h0M149.9 61.9h0M169.9 69.4h0M151.4 76.5h0M143.0 62.0h0M163.2 99.3h0M135.9 84.1h0M151.8 86.8h0M146.3 85.7h0M161.9 84.6h0M167.9 77.1h0M169.0 72.1h0M152.1 71.2h0M152.0 88.6h0M159.9 79.7h0M170.7 64.8h0M143.0 93.1h0M155.7 67.5h0M168.3 89.7h0M146.0 91.1h0M142.8 87.5h0M158.4 77.6h0M136.4 76.1h0M158.4 82.3h0M146.4 98.9h0M160.5 79.4h0M157.3 87.9h0M145.5 65.4h0M151.5 62.9h0M152.1 86.1h0M168.6 81.3h0M154.2 85.9h0M167.4 75.8h0M138.5 71.3h0M138.2 70.4h0M150.7 82.1h0M153.7 79.5h0M148.1 82.8h0M161.7 86.0h0M168.5 76.0h0M149.2 94.9h0M154.2 82.7h0M148.3 88.0h0M147.6 69.2h0M151.3 74.6h0M161.2 75.2h0M153.4 76.7h0M155.7 72.8h0M164.2 65.3h0M147.8 72.1h0M159.1 79.2h0M157.3 75.7h0M144.1 68.2h0M148.3 73.7h0M155.1 82.2h0M162.7 77.8h0M143.8 68.7h0M152.7 82.2h0M173.4 80.5h0M171.3 96.6h0M140.5 90.3h0M164.5 91.6h0M151.9 87.9h0M146.7 78.1h0M152.2 95.7h0M149.6 87.9h0M152.7 72.1h0M154.7 85.1h0M144.2 84.8h0M144.2 70.5h0M154.4 76.6h0M141.2 63.3h0M152.3 81.1h0M146.9 80.6h0M135.2 82.5h0M156.6 81.4h0M145.3 79.6h0M153.4 89.0h0M155.0 81.2h0M144.0 87.0h0M164.9 74.1h0M159.0 81.7h0M151.5 66.6h0M171.3 61.1h0M155.3 75.2h0M164.6 74.8h0M152.4 84.6h0M157.0 73.9h0M159.5 82.5h0M162.9 74.0h0M151.5 75.1h0M142.8 81.2h0M156.5 92.3h0M148.4 82.5h0M164.5 77.7h0M152.7 80.1h0M144.4 69.4h0M164.3 80.4h0M151.2 67.0h0M153.3 89.9h0M139.4 70.4h0M164.2 92.3h0M169.0 73.6h0M158.6 71.7h0M157.7 75.3h0M154.1 91.5h0M155.7 76.5h0M152.6 81.3h0M146.4 80.8h0M158.6 93.5h0M138.5 87.1h0M178.7 80.6h0M153.3 89.6h0M146.4 74.2h0M155.7 73.3h0M164.1 78.8h0M156.2 102.8h0M147.1 87.5h0M143.0 90.6h0M162.5 80.1h0M162.8 94.0h0M167.0 78.8h0M151.4 89.2h0M135.9 73.1h0M157.3 84.2h0M172.3 95.4h0M155.5 83.0h0M137.6 77.1h0M154.8 76.7h0M152.7 84.5h0M141.6 73.5h0M132.6 89.6h0M140.5 62.8h0M160.4 76.8h0M162.5 75.3h0M175.1 85.5h0M153.6 79.9h0M149.8 86.4h0M173.8 74.8h0M140.2 84.4h0M163.6 64.8h0M144.5 69.4h0M158.1 83.5h0M144.0 68.2h0M159.0 77.3h0M172.9 88.1h0M145.7 76.2h0M149.0 72.0h0M152.9 87.8h0M135.6 76.7h0M168.2 85.8h0M143.2 71.2h0M142.7 63.8h0M164.5 79.5h0M144.4 65.4h0M147.8 74.0h0M170.7 74.5h0M153.3 88.8h0M159.2 77.1h0M158.5 74.7h0M151.0 69.9h0M142.3 64.9h0M157.4 83.6h0M153.9 86.1h0M157.8 79.9h0M142.4 84.3h0M164.8 84.7h0M165.5 74.4h0M141.4 90.5h0M145.7 81.1h0M149.9 79.0h0M149.1 73.8h0M132.7 96.6h0M154.2 60.8h0M142.2 68.3h0M158.2 94.1h0M149.3 85.7h0M158.5 67.2h0M165.1 63.1h0M145.8 75.5h0M165.5 79.9h0M150.7 71.3h0M153.0 79.2h0M159.9 91.8h0M159.9 79.0h0M150.4 93.7h0M154.2 78.6h0M171.4 93.4h0M158.1 77.8h0M145.2 88.7h0M147.1 87.7h0M143.6 79.8h0M156.3 80.1h0M154.5 82.3h0M139.9 68.5h0M150.4 95.6h0M150.7 70.2h0M144.9 79.1h0M164.7 73.5h0M158.0 80.5h0M148.2 70.0h0M150.4 72.1h0M157.8 62.4h0M164.1 85.8h0M158.2 92.7h0M158.5 62.9h0M152.6 83.0h0M144.7 68.3h0M156.7 83.5h0M147.4 76.6h0M146.6 73.5h0M151.4 88.8h0M134.7 75.6h0M169.3 81.7h0M153.7 86.5h0M141.2 67.6h0M134.2 65.3h0M154.7 86.7h0M147.5 72.5h0M156.3 84.5h0M154.8 61.2h0M154.6 70.9h0M145.0 92.7h0M166.2 83.3h0M155.0 80.4h0M145.7 78.3h0M172.5 70.7h0M144.9 80.3h0M161.6 86.5h0M141.6 77.6h0M149.2 67.4h0M152.8 74.4h0M161.8 82.8h0M143.7 79.5h0M148.2 72.9h0M146.8 88.6h0M147.6 63.0h0M143.7 86.3h0M175.0 69.1h0M148.2 75.8h0M136.9 82.5h0M151.5 81.4h0M176.0 76.3h0M160.5 86.5h0M145.2 73.3h0M168.7 85.4h0M153.5 68.7h0M161.4 83.7h0M175.5 92.4h0M160.6 81.3h0M152.7 73.7h0M155.3 81.1h0M159.0 88.8h0M155.3 73.8h0M160.6 93.1h0M143.1 82.7h0M157.9 83.8h0M157.4 78.0h0M150.9 94.4h0M170.5 65.9h0M144.8 74.0h0M135.0 82.1h0M151.4 73.8h0M161.6 101.3h0M167.8 89.6h0M147.6 84.9h0M151.6 89.5h0M158.2 78.5h0M157.9 72.2h0M160.5 92.7h0M148.1 83.9h0M134.2 87.5h0M161.4 69.4h0M170.6 79.9h0M133.5 66.2h0M161.3 76.3h0M163.8 64.5h0M150.9 87.8h0M144.8 85.1h0M148.2 82.0h0M155.5 99.4h0M138.8 86.0h0M166.0 68.4h0M152.9 100.1h0M149.5 63.0h0M155.2 72.1h0M146.0 71.1h0M155.1 74.5h0M142.3 76.7h0M156.3 70.9h0M163.9 63.5h0M156.4 75.2h0M168.8 72.9h0M144.9 66.4h0M173.2 84.5h0M140.4 75.7h0M141.8 92.9h0M156.5 60.0h0M154.2 87.2h0M152.0 83.2h0M150.8 80.7h0M154.3 72.3h0M155.7 80.3h0M151.6 72.5h0M141.2 81.1h0M146.3 91.3h0M161.8 72.2h0M166.5 69.7h0M143.6 96.7h0M147.3 76.8h0M134.4 69.5h0M139.4 77.5h0M132.4 88.6h0M148.2 73.2h0M145.2 85.7h0M168.4 75.0h0M169.3 93.7h0M166.4 81.6h0M136.1 85.0h0M147.6 80.6h0M154.5 70.1h0M155.1 94.3h0M154.5 72.5h0M142.2 82.6h0M154.8 86.5h0M143.5 92.4h0M157.4 89.8h0M135.7 78.8h0M169.1 97.4h0M166.1 78.8h0M154.0 73.0h0M163.8 72.4h0M135.9 95.3h0M152.6 80.8h0M174.2 64.9h0M146.3 76.9h0M138.5 66.2h0M138.7 84.7h0M151.5 86.4h0M140.4 84.3h0M147.3 79.6h0M162.0 79.1h0M148.2 63.4h0M152.7 86.1h0M145.2 78.2h0M133.0 66.4h0M156.3 90.8h0M148.7 63.3h0M147.9 64.3h0M149.0 96.8h0M155.2 77.4h0M163.2 75.3h0M155.6 80.7h0M156.8 65.1h0M159.7 87.0h0M142.3 92.7h0M152.2 85.1h0M158.0 87.1h0M145.1 73.3h0M156.1 84.5h0M158.2 82.0h0M146.8 89.1h0M157.1 88.7h0M144.8 79.9h0M146.8 75.9h0M154.1 82.0h0M143.6 83.9h0M142.9 82.8h0M148.0 70.0h0M164.7 94.3h0M150.9 78.3h0M162.4 66.4h0M142.5 89.4h0M161.8 74.2h0M143.6 82.1h0M136.7 74.1h0M158.4 86.0h0M163.6 65.3h0M138.0 71.1h0M137.8 98.1h0M141.4 75.9h0M154.2 83.1h0M167.8 68.6h0M161.6 80.2h0M139.2 80.2h0M136.7 94.1h0M144.0 88.3h0M166.2 73.0h0M142.2 80.0h0M140.6 87.3h0M153.9 71.6h0M144.5 85.6h0M136.2 94.7h0M143.4 77.0h0M141.9 94.1h0M161.0 91.1h0M159.1 79.6h0M170.5 85.1h0M156.8 84.2h0M160.1 81.4h0M150.2 63.7h0M174.5 66.5h0M173.2 90.3h0M145.4 81.3h0M151.7 60.0h0M148.3 81.6h0M164.8 67.4h0M155.6 79.6h0M153.6 80.2h0M148.0 65.9h0M157.0 82.5h0M158.3 90.6h0M132.4 99.1h0M142.0 82.6h0M151.8 85.7h0M187.3 73.9h0M150.1 73.1h0M154.7 83.7h0M141.3 91.3h0M164.6 83.0h0M150.8 76.5h0M133.9 85.0h0M141.3 74.0h0M163.0 70.1h0M146.3 86.9h0M172.4 72.2h0M164.1 72.6h0M156.3 83.4h0M139.5 88.5h0M171.8 79.3h0M155.0 67.7h0M171.7 79.4h0M138.0 86.1h0M135.9 72.3h0M176.3 72.8h0M144.8 73.3h0M145.8 84.1h0M168.0 69.2h0M156.8 61.7h0M168.8 78.0h0M144.3 93.3h0M150.8 91.8h0M163.8 94.5h0M143.2 79.3h0M156.1 77.0h0M168.8 72.0h0M163.0 91.7h0M142.1 73.6h0M156.3 77.1h0M152.9 74.4h0M151.1 83.4h0M160.2 71.4h0M150.7 71.6h0M150.0 65.2h0M162.5 85.2h0M150.7 72.3h0M147.0 72.5h0M135.0 94.3h0M139.2 84.3h0M158.7 63.9h0M146.6 79.6h0M152.0 73.5h0M150.4 76.0h0M165.7 77.9h0M151.6 73.8h0M145.0 71.8h0M152.1 96.2h0M164.3 81.0h0M170.4 88.4h0M154.3 77.2h0M139.9 81.2h0M148.5 63.7h0M137.9 97.2h0M154.4 83.5h0M154.2 74.4h0M157.1 89.1h0M148.6 83.7h0M163.3 74.2h0M153.9 71.8h0M158.6 75.3h0M164.6 71.5h0M170.6 75.8h0M142.8 70.2h0M159.3 70.7h0M171.8 91.0h0M157.7 65.3h0M151.7 71.9h0M132.1 82.8h0M176.2 73.7h0M160.9 91.0h0M141.4 75.6h0M155.0 83.3h0M139.4 80.9h0M150.8 87.8h0M134.4 73.4h0M146.5 75.8h0M159.9 72.8h0M182.1 72.1h0M161.2 88.5h0M162.6 76.9h0M142.9 76.4h0M159.3 80.0h0M158.4 84.3h0M142.3 69.9h0M167.9 74.2h0M134.6 96.5h0M142.8 69.9h0M162.6 68.0h0M142.4 88.8h0M143.0 102.6h0M153.4 79.3h0M144.9 76.7h0M146.5 78.6h0M160.5 66.7h0M168.5 78.1h0M151.8 78.2h0M163.0 81.9h0M161.4 77.2h0M150.7 78.3h0M134.6 69.4h0M159.4 79.3h0M160.9 95.0h0M172.5 91.9h0M149.5 98.3h0M142.3 78.0h0M163.0 76.8h0M150.7 75.4h0M166.0 88.9h0M151.2 84.1h0M141.3 89.3h0M185.7 70.1h0M167.4 78.3h0M148.3 74.2h0M149.9 66.9h0M137.1 94.6h0M151.8 84.0h0M155.4 83.3h0M135.2 69.8h0M159.0 88.3h0M139.4 73.3h0M140.2 85.0h0M155.8 79.1h0M144.9 82.1h0M152.4 71.7h0M155.7 72.5h0M162.5 84.7h0M144.4 84.4h0M152.7 72.1h0M141.9 63.0h0M139.6 82.1h0M165.3 72.8h0M153.8 82.1h0M160.6 83.0h0M165.5 86.1h0M143.6 82.6h0M152.2 84.3h0M148.7 86.7h0M166.5 70.8h0M146.0 81.3h0M157.4 80.2h0M161.1 67.6h0M160.5 89.9h0M164.2 82.9h0M149.4 82.6h0M151.2 63.7h0M145.3 78.4h0M146.3 69.9h0M149.4 75.3h0M152.8 78.3h0M153.9 88.2h0M153.5 82.7h0M147.6 85.2h0M148.3 72.9h0M138.4 87.3h0M146.2 81.1h0M164.4 83.9h0M176.7 77.5h0M162.5 85.4h0M144.8 79.3h0M145.8 69.1h0M155.3 71.4h0M170.5 71.8h0M146.0 79.7h0M146.3 79.3h0M145.3 65.3h0M168.7 83.0h0M153.7 74.4h0M150.4 81.6h0M136.7 71.2h0M142.2 90.8h0M140.4 89.9h0M151.1 79.1h0M166.9 87.1h0M162.3 68.6h0M164.5 94.8h0M150.9 74.2h0M140.0 88.5h0M155.2 78.9h0M138.4 94.2h0M161.6 78.6h0M168.2 69.8h0M161.7 69.3h0M167.5 76.2h0M165.5 74.8h0M156.4 89.6h0M142.1 79.7h0M142.8 86.9h0M145.4 75.3h0M149.8 89.9h0M140.5 78.6h0M148.4 73.6h0M143.3 77.3h0M154.2 64.1h0M154.6 67.5h0M152.2 100.5h0M141.4 78.2h0M149.2 88.1h0M146.8 61.8h0M134.3 80.5h0M154.8 88.9h0M146.1 85.1h0M140.3 91.1h0M151.2 72.4h0M154.0 95.4h0M142.7 67.0h0M140.8 67.8h0M151.4 82.1h0M150.2 80.7h0M165.0 76.1h0M154.7 72.3h0M149.3 82.7h0M157.1 63.9h0M141.5 79.5h0M150.4 89.7h0M164.9 63.3h0M141.3 82.5h0M140.3 102.4h0M154.6 83.9h0M147.2 99.9h0M157.9 72.0h0M165.8 62.8h0M145.5 81.5h0M153.5 69.7h0M169.4 92.8h0M141.7 82.3h0M145.0 74.7h0M162.8 80.0h0M150.8 79.8h0M139.1 90.4h0M143.7 91.2h0M147.0 74.5h0M168.3 80.6h0M145.0 73.7h0M158.7 96.6h0M158.8 75.1h0M139.7 72.4h0M150.7 81.1h0M144.8 91.0h0M141.5 72.0h0M157.5 83.4h0M147.7 87.9h0M136.5 94.3h0M176.1 97.3h0M153.3 97.5h0M152.6 91.4h0M149.8 80.6h0M157.8 62.2h0M149.7 95.1h0M162.1 81.9h0M154.1 92.0h0M155.7 60.8h0M141.6 76.0h0M153.6 74.5h0M150.8 94.6h0M162.3 84.5h0M152.2 79.4h0M156.0 81.1h0M144.0 86.2h0M142.9 78.4h0M148.1 67.9h0M158.7 78.1h0M139.2 78.1h0M136.9 92.4h0M157.7 97.6h0M145.8 85.5h0M141.4 70.7h0M151.0 82.7h0M162.1 76.3h0M164.1 87.9h0M142.4 77.1h0M142.0 95.0h0M146.0 87.2h0M162.0 76.4h0M146.7 82.1h0M143.5 66.8h0M141.4 82.0h0M154.1 95.5h0M139.4 89.7h0M159.6 80.0h0M168.2 75.3h0M146.2 68.9h0M144.8 79.9h0M159.4 90.9h0M149.1 71.9h0M148.3 74.7h0M146.9 75.0h0M142.5 78.3h0M146.4 77.2h0M136.9 80.2h0M158.3 84.9h0M146.0 68.0h0M137.8 67.7h0M145.0 75.9h0M132.6 85.1h0M135.2 72.3h0M144.1 86.6h0M172.1 75.5h0M149.0 75.1h0M149.8 77.2h0M178.9 68.5h0M150.8 71.4h0M155.9 73.9h0M158.3 68.6h0M175.0 80.8h0M132.7 85.4h0M146.9 67.9h0M156.8 73.9h0M160.0 73.7h0M161.8 80.2h0M155.9 80.3h0M148.0 75.4h0M156.9 85.5h0M147.6 99.8h0M170.4 68.1h0M163.8 78.1h0M154.5 71.4h0M170.0 71.1h0M151.1 72.0h0M173.0 90.6h0M137.7 74.6h0M156.0 74.8h0M148.2 68.7h0M154.7 68.6h0M161.0 101.3h0M148.5 94.2h0M156.1 72.5h0M148.3 69.8h0M153.2 85.4h0M162.1 76.2h0M139.0 78.1h0M170.2 81.4h0M147.3 83.9h0M141.7 91.4h0M145.9 70.7h0M145.7 78.0h0M162.8 73.5h0M132.7 78.1h0M157.7 93.2h0M139.8 92.6h0M159.3 83.1h0M143.7 70.6h0M141.7 87.5h0M154.4 88.8h0M171.7 79.0h0M151.5 96.7h0M137.9 74.7h0M148.0 75.3h0M153.6 71.0h0M164.6 66.1h0M143.2 63.1h0M136.8 84.3h0M158.8 77.0h0M161.1 84.6h0M145.8 78.5h0M156.0 97.6h0M147.2 82.3h0M157.9 90.2h0M156.6 88.8h0M140.5 76.4h0M177.2 81.1h0M153.0 81.3h0M153.6 66.5h0M144.5 77.2h0M153.8 70.8h0M150.9 72.0h0M137.7 72.7h0M143.3 86.6h0M166.5 84.2h0M149.7 73.7h0M135.0 74.0h0M168.9 89.6h0M154.4 76.6h0M152.0 82.8h0M151.9 82.8h0M143.7 79.3h0M148.2 88.9h0M138.6 90.9h0M151.1 74.2h0M152.2 80.0h0M149.5 82.8h0M145.8 63.2h0M159.5 78.6h0M170.0 82.4h0M144.6 83.9h0M176.0 89.0h0M140.2 78.0h0M134.6 85.1h0M158.1 69.4h0M156.9 87.5h0M160.7 72.7h0M144.5 68.5h0M138.0 81.8h0M152.4 90.9h0M155.0 75.9h0M136.6 93.2h0M153.8 78.6h0M141.1 69.2h0M158.8 69.9h0M158.3 84.7h0M147.9 63.9h0M156.4 91.9h0M143.1 67.2h0M163.8 80.2h0M145.3 90.2h0M149.0 83.1h0M147.7 71.9h0M154.4 70.9h0M132.8 73.9h0M165.3 89.0h0M175.5 88.1h0M169.4 81.2h0M147.3 83.2h0M141.7 85.7h0M147.2 81.3h0M142.8 77.7h0M162.6 76.9h0M144.7 81.5h0M161.5 77.2h0M139.4 64.5h0M137.5 88.7h0M151.0 83.3h0M163.6 81.5h0M157.2 74.2h0M134.6 84.7h0M151.0 84.2h0M140.5 77.6h0M173.7 71.2h0M153.1 91.0h0M149.5 80.1h0M147.2 90.7h0M151.0 75.5h0M156.7 76.7h0M146.4 93.1h0M162.6 79.9h0M160.7 86.5h0M158.3 79.3h0M152.8 82.7h0M158.1 82.2h0M146.1 78.2h0M156.9 69.9h0M151.9 85.9h0M153.8 76.3h0M151.8 74.5h0M162.6 75.5h0M134.1 67.9h0M155.2 80.8h0M146.9 66.9h0M150.4 71.3h0M144.9 78.9h0M143.7 81.8h0M144.0 74.7h0M149.6 92.3h0M169.0 87.5h0M144.1 79.0h0M161.8 86.3h0M134.5 78.4h0M144.0 85.8h0M158.9 74.1h0M175.1 76.4h0M178.3 77.4h0M151.1 96.2h0M146.3 74.7h0M167.9 78.6h0M157.1 67.5h0M171.3 87.9h0M155.8 85.4h0M146.6 74.6h0M135.1 82.3h0M165.3 86.7h0M161.9 85.4h0M142.1 67.1h0M158.9 80.5h0M162.6 76.5h0M142.5 83.0h0M146.0 64.1h0M145.5 71.0h0M140.0 74.0h0M162.2 100.3h0M170.6 75.2h0M164.3 78.3h0M156.3 72.8h0M151.2 63.8h0M171.3 72.0h0M158.3 73.6h0M154.9 68.3h0M148.0 87.2h0M158.4 61.4h0M161.2 67.1h0M155.1 83.6h0M145.1 76.1h0M149.4 82.6h0M161.8 91.3h0M155.5 97.0h0M141.8 95.0h0M149.2 85.9h0M150.6 79.7h0M142.1 82.5h0M173.8 80.3h0M151.8 79.0h0M159.7 77.1h0M152.0 80.9h0M166.0 87.5h0M140.7 73.3h0M152.2 86.6h0M162.4 77.1h0M174.9 77.5h0M167.1 91.8h0M169.2 80.8h0M158.2 65.2h0M132.8 73.4h0" stroke="#2b3650" stroke-width="0.55" stroke-linecap="square" opacity="0.7"/>
<path d="M144.5 69.5Q151 65.5 160.5 67Q166.5 69.5 166 79Q165 87.5 156 88Q146 88 143.5 81Q142.5 74 144.5 69.5Z" fill="#c3cadb" stroke="#e8ecf4" stroke-width="1"/>
<path d="M147 72Q153 68 160 70Q164 74 163 80Q161 86 155 86Q148 85 147 79Z" fill="none" stroke="#8a94aa" stroke-width="0.55"/>
<path d="M150 74Q155 71 159 73Q161 77 160 81Q157 84 153 83Q150 81 150 77Z" fill="none" stroke="#8a94aa" stroke-width="0.55"/>
<circle cx="157" cy="77" r="1" fill="#eef"/>
<text x="168" y="52.2" font-size="6.8" fill="#222" textLength="13" lengthAdjust="spacingAndGlyphs" stroke="#222" stroke-width="0.05">30.8</text>
<line x1="188.7" y1="75.7" x2="228.3" y2="75.7" stroke="#000" stroke-width="2.4"/>
<path d="M221.8 70.7L228.20000000000002 75.7L221.8 80.7" fill="none" stroke="#000" stroke-width="2.3" stroke-linejoin="round" stroke-linecap="round"/>
<rect x="250" y="22.9" width="108" height="95.9" fill="none" stroke="#444" stroke-width="1.1"/>
<text x="246" y="35.6" font-size="6.7" fill="#2a2a2a" stroke="#222" stroke-width="0.08" text-anchor="end">10<tspan font-size="4.3" dx="0.5" dy="-2.9">5</tspan></text>
<line x1="248.5" y1="33.2" x2="250" y2="33.2" stroke="#555" stroke-width="0.8"/>
<text x="246" y="56.9" font-size="6.7" fill="#2a2a2a" stroke="#222" stroke-width="0.08" text-anchor="end">10<tspan font-size="4.3" dx="0.5" dy="-2.9">4</tspan></text>
<line x1="248.5" y1="54.5" x2="250" y2="54.5" stroke="#555" stroke-width="0.8"/>
<text x="246" y="79.0" font-size="6.7" fill="#2a2a2a" stroke="#222" stroke-width="0.08" text-anchor="end">10<tspan font-size="4.3" dx="0.5" dy="-2.9">3</tspan></text>
<line x1="248.5" y1="76.6" x2="250" y2="76.6" stroke="#555" stroke-width="0.8"/>
<text x="246" y="101.30000000000001" font-size="6.7" fill="#2a2a2a" stroke="#222" stroke-width="0.08" text-anchor="end">10<tspan font-size="4.3" dx="0.5" dy="-2.9">2</tspan></text>
<line x1="248.5" y1="98.9" x2="250" y2="98.9" stroke="#555" stroke-width="0.8"/>
<text x="244.5" y="111.0" font-size="6.7" fill="#2a2a2a" text-anchor="end" stroke="#222" stroke-width="0.05">0</text>
<line x1="248.5" y1="108.6" x2="250" y2="108.6" stroke="#555" stroke-width="0.8"/>
<text x="261.2" y="131.20000000000002" font-size="6.7" fill="#2a2a2a" text-anchor="middle" stroke="#222" stroke-width="0.05">0</text>
<line x1="261.2" y1="117.8" x2="261.2" y2="119.8" stroke="#555" stroke-width="0.8"/>
<text x="274.5" y="131.20000000000002" font-size="6.7" fill="#2a2a2a" stroke="#222" stroke-width="0.08" text-anchor="middle">10<tspan font-size="4.3" dx="0.5" dy="-2.9">2</tspan></text>
<line x1="273" y1="117.8" x2="273" y2="119.8" stroke="#555" stroke-width="0.8"/>
<text x="299.5" y="131.20000000000002" font-size="6.7" fill="#2a2a2a" stroke="#222" stroke-width="0.08" text-anchor="middle">10<tspan font-size="4.3" dx="0.5" dy="-2.9">3</tspan></text>
<line x1="298" y1="117.8" x2="298" y2="119.8" stroke="#555" stroke-width="0.8"/>
<text x="324.0" y="131.20000000000002" font-size="6.7" fill="#2a2a2a" stroke="#222" stroke-width="0.08" text-anchor="middle">10<tspan font-size="4.3" dx="0.5" dy="-2.9">4</tspan></text>
<line x1="322.5" y1="117.8" x2="322.5" y2="119.8" stroke="#555" stroke-width="0.8"/>
<text x="348.5" y="131.20000000000002" font-size="6.7" fill="#2a2a2a" stroke="#222" stroke-width="0.08" text-anchor="middle">10<tspan font-size="4.3" dx="0.5" dy="-2.9">5</tspan></text>
<line x1="347" y1="117.8" x2="347" y2="119.8" stroke="#555" stroke-width="0.8"/>
<defs><radialGradient id="gb" cx="0.52" cy="0.42" r="0.58"><stop offset="0" stop-color="#3a4620"/><stop offset="0.45" stop-color="#4e5b2a"/><stop offset="0.8" stop-color="#66733e"/><stop offset="1" stop-color="#7d8a55"/></radialGradient></defs>
<path d="M280.9 93.1h0M275.3 93.0h0M280.0 95.3h0M265.1 84.1h0M269.4 83.1h0M287.3 83.7h0M270.3 86.2h0M282.1 85.9h0M281.0 90.7h0M271.6 76.9h0M269.7 82.2h0M287.2 84.7h0M268.7 89.9h0M276.4 83.6h0M283.5 92.4h0M277.9 84.5h0M270.0 78.3h0M278.6 89.9h0M269.7 88.2h0M298.5 82.7h0M264.3 91.0h0M273.1 85.7h0M280.3 87.5h0M282.8 90.5h0M284.0 88.6h0M261.2 94.5h0M264.3 93.0h0M277.7 81.5h0M276.5 92.3h0M269.0 88.3h0M270.9 83.3h0M271.8 94.1h0M280.7 87.9h0M275.4 88.7h0M278.0 88.9h0M264.2 92.4h0M270.1 75.7h0M280.8 82.3h0M275.0 87.6h0M271.9 90.6h0M274.1 86.7h0M269.4 86.7h0M268.9 88.3h0M285.1 92.9h0M278.9 81.6h0M283.1 92.5h0M290.2 77.4h0M276.1 86.5h0M283.5 82.9h0M273.4 99.1h0M282.8 78.6h0M276.1 94.6h0M271.8 90.9h0M276.7 81.1h0M271.7 93.4h0M284.2 85.2h0M283.7 84.7h0M277.7 87.9h0M267.4 89.6h0M273.3 75.0h0M270.3 84.0h0M270.3 83.4h0M271.3 76.4h0M282.1 88.4h0M277.8 86.8h0M276.4 86.8h0M268.5 80.8h0M276.5 92.9h0M277.6 95.7h0M266.6 86.8h0M271.7 93.9h0M287.7 85.5h0M281.0 86.9h0M269.1 87.5h0M268.8 95.4h0M280.1 93.7h0M278.5 76.4h0M281.5 88.5h0M259.6 88.5h0M283.0 96.2h0M269.0 91.8h0M278.3 87.2h0M274.0 90.6h0M280.0 91.2h0M273.2 81.7h0M285.1 94.2h0M272.1 87.9h0M281.6 79.6h0M279.4 99.6h0M277.9 84.6h0M290.1 88.1h0M277.5 86.0h0M277.2 79.4h0M267.2 81.0h0M282.2 87.6h0M283.9 78.3h0M271.9 95.0h0M270.5 79.1h0M270.9 86.4h0M275.9 94.3h0M285.1 95.4h0M280.0 85.6h0M272.6 80.9h0M284.8 94.0h0M276.6 83.7h0M280.6 90.4h0M277.1 82.4h0M277.6 85.3h0M281.1 90.9h0M279.0 86.0h0M286.5 91.7h0M284.7 92.0h0M280.6 89.9h0M268.6 79.3h0M269.6 91.0h0M282.3 88.9h0M276.6 96.8h0M273.3 79.5h0M265.4 86.5h0M280.8 91.5h0" stroke="#666" stroke-width="0.5" stroke-linecap="square" opacity="0.7"/>
<rect x="276.5" y="47.7" width="49.6" height="39.4" fill="#a9b184" stroke="#5e6640" stroke-width="1.2"/>
<path d="M288.0 83.9h0M289.6 76.5h0M286.7 83.6h0M298.4 74.6h0M281.3 80.6h0M308.8 74.4h0M278.9 82.0h0M294.5 77.1h0M289.8 82.3h0M295.3 84.4h0M300.3 79.7h0M277.3 86.4h0M296.8 77.0h0M299.1 85.0h0M288.8 68.7h0M285.9 76.4h0M282.6 79.6h0M280.5 81.9h0M306.7 74.3h0M299.2 77.5h0M294.8 79.4h0M301.3 76.6h0M296.5 76.3h0M292.0 79.9h0M299.6 72.4h0M278.1 86.7h0M280.9 81.0h0M289.5 77.9h0M296.3 79.5h0M283.4 83.7h0M302.0 77.6h0M287.2 81.8h0M299.9 82.5h0M281.5 77.3h0M299.2 79.4h0M284.4 84.2h0M280.5 76.6h0M283.9 81.7h0M285.8 85.3h0M284.3 78.7h0M295.0 81.0h0M295.1 77.6h0M291.8 74.7h0M279.2 78.6h0M293.2 80.5h0M283.2 73.4h0M293.2 76.2h0M300.4 82.6h0M286.4 77.1h0M300.0 81.6h0M304.4 81.7h0M284.9 77.1h0M283.8 81.2h0M292.2 82.9h0M294.0 75.0h0M288.2 75.5h0M294.2 73.7h0M284.9 75.9h0M284.6 78.8h0M303.3 78.8h0M277.4 78.6h0M296.6 82.7h0M299.7 80.4h0M300.7 73.6h0M288.5 75.8h0M281.1 86.8h0M298.7 79.6h0M291.3 79.9h0M291.6 79.1h0M281.4 78.6h0M291.0 75.7h0M287.5 80.1h0M290.8 76.5h0M289.7 80.0h0M291.1 72.9h0M287.0 77.0h0M278.1 78.5h0M289.2 76.7h0M286.9 84.3h0M296.9 82.6h0M288.5 73.5h0M301.2 85.6h0M292.4 81.8h0M289.9 86.0h0M296.8 78.5h0M290.0 72.3h0M283.6 78.6h0M311.4 76.1h0M298.0 80.4h0M287.4 83.0h0M306.9 81.4h0M289.5 80.8h0M295.8 77.7h0M291.1 82.4h0M286.9 81.9h0M292.9 83.4h0M281.4 77.4h0M286.3 85.7h0M292.2 72.1h0M293.0 73.8h0M282.0 80.7h0M286.8 78.6h0M306.8 75.3h0M303.7 81.6h0M290.8 86.2h0M294.2 76.0h0M294.5 86.6h0M297.0 81.0h0M293.8 81.9h0M284.5 79.5h0M291.1 77.8h0M277.2 73.1h0M294.4 82.5h0M290.9 74.4h0M297.4 78.1h0M294.7 77.9h0M302.9 86.5h0M292.3 71.8h0M286.7 78.6h0M294.0 79.4h0M293.0 72.2h0M284.4 86.9h0M277.3 84.4h0M310.2 83.1h0M277.9 86.0h0M286.4 86.0h0M300.3 80.9h0M305.7 84.7h0M285.8 75.3h0M311.5 78.1h0M293.6 79.4h0M285.9 72.3h0M288.7 79.4h0M298.6 77.5h0M289.7 81.2h0M296.3 78.2h0M294.7 80.7h0M304.8 79.7h0M291.3 82.7h0M300.7 75.6h0M285.9 78.7h0M299.4 80.1h0M319.4 86.1h0M297.9 73.2h0M303.4 82.0h0M279.5 80.3h0M296.6 84.7h0M291.5 77.5h0M296.7 76.3h0M289.3 83.7h0M277.4 81.8h0M279.2 79.6h0M296.3 79.8h0M298.0 80.5h0M288.2 82.4h0M287.9 80.7h0M299.1 77.3h0M300.1 74.7h0M288.1 71.6h0M293.1 86.1h0M277.2 75.1h0M294.1 84.0h0M297.3 71.9h0M294.5 79.7h0M291.1 82.3h0M287.6 71.8h0M280.7 73.0h0M278.5 79.4h0M301.4 76.6h0M283.3 74.5h0M285.8 78.8h0M281.6 82.3h0M279.5 82.6h0M284.2 83.8h0M282.2 82.1h0M293.9 79.6h0M304.3 80.8h0M282.2 83.3h0M282.8 77.4h0M290.1 80.9h0M304.9 71.6h0M287.7 85.5h0M288.6 81.6h0M303.4 74.1h0M290.4 83.8h0M284.9 71.5h0M281.3 80.9h0M301.6 72.5h0M299.1 84.4h0M304.2 79.3h0M285.1 80.7h0M303.6 83.0h0M304.9 83.8h0M284.8 75.1h0M306.2 72.7h0M286.9 78.5h0M282.0 77.2h0M289.4 77.5h0M291.1 84.5h0M282.8 78.0h0M297.7 78.7h0M286.6 78.5h0M279.4 83.7h0M284.7 76.5h0M294.5 80.5h0M284.9 78.9h0M285.7 86.5h0M298.8 76.5h0M289.6 86.6h0M293.9 83.2h0" stroke="#5a6238" stroke-width="0.5" stroke-linecap="square" opacity="0.7"/>
<ellipse cx="294.5" cy="70" rx="14" ry="17.5" transform="rotate(30 294.5 70)" fill="#76824c" opacity="0.9" stroke="#5a6434" stroke-width="0.6"/>
<ellipse cx="295.8" cy="68" rx="11.8" ry="15.6" transform="rotate(30 295.8 68)" fill="none" stroke="#bcc49c" stroke-width="0.8"/>
<ellipse cx="296.3" cy="67.5" rx="10.5" ry="14" transform="rotate(30 296.3 67.5)" fill="url(#gb)"/>
<path d="M294.6 71.6L293.6 71.5L292.9 70.8L292.8 68.4L294.4 65.9L295.6 65.3L296.6 65.2L297.7 66.4L297.6 68.6L296.4 70.7L294.6 71.6M294.1 74.6L292.1 74.3L290.6 72.8L290.1 70.6L290.5 67.9L291.9 65.1L293.9 63.1L296.1 61.9L298.4 61.9L299.8 62.9L300.5 64.4L300.7 66.4L300.2 68.6L299.1 70.9L297.6 72.8L295.9 74.1L294.1 74.6M294.4 77.4L291.1 77.2L288.7 75.1L287.6 71.9L288.1 67.9L290.1 63.6L293.1 60.3L296.6 58.5L299.9 58.5L301.9 59.7L303.1 61.9L303.5 64.6L303.0 67.9L301.7 71.1L299.6 74.1L297.1 76.3L294.4 77.4M292.9 80.4L290.9 80.2L289.0 79.4L287.4 78.1L286.2 76.4L285.5 74.4L285.2 71.9L286.0 66.6L288.8 61.4L292.9 57.2L297.4 55.1L299.6 54.8L301.6 55.2L304.4 57.1L306.0 60.1L306.4 64.1L305.4 68.6L303.2 73.1L300.1 76.9L296.6 79.4L292.9 80.4" fill="none" stroke="#8e9a66" stroke-width="0.5" opacity="0.8"/>
<path d="M298 59L298.5 68" stroke="#cfd6b4" stroke-width="0.7" opacity="0.8"/>
<path d="M254.7 101.9h0M287.6 100.4h0M289.6 100.1h0M276.1 102.2h0M283.9 90.9h0M269.1 97.9h0M254.8 103.1h0M282.8 113.6h0M262.1 95.6h0M274.8 100.2h0M269.2 104.2h0M266.4 98.8h0M285.3 100.6h0M272.1 104.8h0M282.1 96.9h0M279.4 90.8h0M292.9 99.0h0M289.2 107.8h0M271.2 95.3h0M283.1 102.0h0M280.6 102.4h0M289.2 86.8h0M279.1 94.6h0M291.1 98.0h0M282.1 104.3h0M291.1 89.8h0M273.6 98.9h0M280.7 98.5h0M293.7 96.5h0M287.0 94.5h0M275.5 92.4h0M292.0 93.8h0M290.5 99.4h0M269.8 89.9h0M280.8 101.7h0M277.7 100.1h0M253.2 102.4h0M283.1 100.6h0M268.9 90.6h0M274.2 96.7h0M287.8 94.9h0M287.8 101.0h0M267.1 96.4h0M261.7 93.8h0M295.4 92.8h0M295.2 97.6h0M294.8 103.4h0M284.5 93.9h0M275.5 108.3h0M280.5 94.3h0M273.3 87.2h0M276.2 98.9h0M276.4 92.6h0M288.6 99.7h0M277.0 98.8h0M269.7 102.0h0M269.5 95.0h0M284.9 94.6h0M267.3 109.2h0M284.7 89.6h0M287.3 89.4h0M290.9 100.1h0M276.7 102.5h0M276.7 96.3h0M276.2 86.7h0M279.8 100.1h0M284.6 87.8h0M274.1 101.0h0M298.0 106.3h0M258.2 99.7h0M276.4 101.5h0M259.9 96.2h0M292.7 93.2h0M278.0 91.3h0M298.2 89.2h0M270.5 95.1h0M278.7 109.3h0M286.8 92.1h0M290.9 99.0h0M286.9 96.6h0M289.3 90.2h0M266.6 94.5h0M267.9 101.1h0M289.1 99.0h0M273.6 89.4h0M290.5 88.4h0M287.1 96.2h0M293.3 97.3h0M284.5 93.6h0M259.4 95.0h0M292.5 103.1h0M270.2 101.1h0M276.8 112.0h0M287.3 88.1h0M275.4 106.2h0M258.0 97.9h0M264.0 106.4h0M276.9 91.0h0M259.6 92.8h0M279.4 90.2h0M287.7 94.2h0M271.4 105.1h0M289.0 91.8h0M289.9 97.9h0M299.1 100.6h0M278.2 101.2h0M277.7 97.8h0M268.8 94.7h0M276.2 104.6h0M261.2 110.4h0M285.5 94.9h0M292.2 100.9h0M293.3 101.5h0M292.6 95.9h0M283.5 98.3h0M282.3 99.0h0M271.3 96.1h0M274.7 90.2h0M273.3 94.1h0M281.0 87.9h0M279.5 90.4h0M271.8 98.1h0M298.2 98.7h0M276.3 94.4h0M298.6 88.2h0M274.3 97.3h0M280.0 106.7h0M289.8 96.7h0M296.1 97.2h0M272.0 103.6h0M266.9 108.2h0M277.3 101.5h0M299.3 110.9h0M260.9 91.0h0M299.2 99.9h0M289.0 95.9h0M282.9 98.4h0M293.3 95.4h0M270.7 94.9h0M254.2 90.5h0M281.9 108.1h0M297.4 97.7h0M293.1 95.4h0M270.6 102.9h0M284.8 106.4h0M279.4 94.8h0M287.7 95.9h0M278.7 91.8h0M286.5 98.9h0M258.9 99.7h0M272.0 96.0h0M280.4 88.1h0M290.9 91.9h0M257.6 92.8h0M291.7 108.3h0M276.0 95.5h0M296.3 94.0h0M288.7 102.7h0M270.6 93.5h0M289.2 97.0h0M281.3 93.9h0M282.1 107.9h0M283.7 97.5h0M283.5 88.9h0M281.2 97.9h0M273.6 98.8h0M284.4 99.3h0M280.7 94.3h0M285.5 103.4h0M295.3 96.5h0M276.6 103.2h0M290.4 102.2h0M279.2 91.9h0M285.6 93.3h0M298.8 102.0h0M253.0 100.9h0M276.5 91.9h0M296.3 103.0h0M283.8 90.2h0M262.0 98.6h0M271.6 93.0h0M289.1 103.2h0M254.6 93.1h0M278.3 100.8h0M267.4 89.8h0M283.3 106.2h0M297.0 97.0h0M296.9 94.6h0M266.8 87.2h0M286.7 102.3h0M288.1 96.8h0M277.5 103.4h0M282.4 88.5h0M288.4 97.0h0M297.5 98.5h0M299.9 98.2h0M276.7 94.0h0M291.9 92.1h0M295.8 95.6h0M270.2 91.9h0M281.0 107.4h0M293.6 97.1h0M270.6 108.2h0M279.2 97.0h0M277.2 104.8h0M285.4 94.3h0M285.5 91.1h0M268.5 96.1h0M281.1 87.7h0M285.4 98.2h0M293.2 89.2h0M274.7 93.2h0M279.6 110.4h0M280.3 96.8h0" stroke="#777" stroke-width="0.5" stroke-linecap="square" opacity="0.7"/>
<rect x="266.2" y="88.4" width="35.3" height="18.4" fill="#c2c2c2" stroke="#111" stroke-width="1.6"/>
<path d="M279.0 101.4h0M299.1 92.2h0M294.4 97.6h0M296.3 102.7h0M285.3 95.0h0M288.4 97.7h0M294.3 89.6h0M276.7 97.1h0M287.2 95.5h0M283.7 97.8h0M294.3 96.9h0M288.0 97.0h0M284.0 93.9h0M279.9 101.6h0M287.5 97.4h0M279.2 98.5h0M295.7 97.4h0M280.4 91.7h0M285.0 93.0h0M269.9 101.8h0M283.0 91.0h0M273.2 101.0h0M288.0 98.5h0M282.1 99.9h0M299.1 99.9h0M282.4 90.6h0M288.4 105.2h0M290.4 91.3h0M285.8 103.9h0M277.8 99.9h0M295.9 105.5h0M287.7 101.0h0M280.5 97.4h0M280.0 103.4h0M271.4 94.2h0M268.9 93.0h0M283.8 97.6h0M287.4 99.2h0M286.5 104.7h0M285.4 98.2h0M282.9 97.5h0M283.5 102.4h0M284.2 97.8h0M283.5 101.2h0M279.3 102.1h0M278.4 100.9h0M283.1 91.7h0M291.3 97.6h0M293.0 94.3h0M288.0 95.9h0M271.2 97.5h0M290.5 100.4h0M273.0 92.4h0M274.4 92.5h0M281.3 98.8h0M299.2 101.4h0M288.3 101.6h0M283.2 104.0h0M280.6 94.3h0M280.6 99.1h0M285.8 94.4h0M289.3 100.5h0M274.9 92.0h0M284.1 94.1h0M278.1 96.8h0M284.3 100.3h0M292.2 99.7h0M295.0 92.7h0M290.0 99.3h0M273.7 94.2h0M288.4 97.9h0M271.6 94.8h0M299.1 101.7h0M284.8 104.2h0M275.0 96.7h0M293.5 95.8h0M273.0 100.4h0M285.5 91.3h0M281.1 90.5h0M284.4 94.0h0M274.2 95.3h0M286.8 105.2h0M273.5 97.9h0M279.7 89.8h0M286.4 93.8h0M278.3 92.4h0M294.1 95.5h0M282.6 98.4h0M271.9 98.6h0M282.3 99.7h0M280.2 97.7h0M289.1 102.3h0M277.2 102.3h0M274.3 96.6h0M285.3 98.2h0M282.2 102.1h0M277.0 105.0h0M289.3 97.6h0M286.6 102.1h0M276.0 100.4h0M294.5 96.3h0M275.6 92.3h0M288.3 93.5h0M271.1 96.1h0M299.1 100.9h0M273.9 102.6h0M278.5 100.4h0M289.6 95.3h0M282.5 103.2h0M288.9 97.2h0M293.2 99.9h0M287.3 89.8h0M285.3 95.1h0M291.2 94.5h0M288.4 92.3h0M292.8 93.9h0M283.7 100.4h0M280.8 97.5h0M290.7 102.1h0M279.3 98.0h0M282.0 91.6h0M268.7 91.2h0M296.9 95.6h0M287.8 100.7h0M291.8 102.0h0M274.4 94.7h0M278.6 98.0h0M281.5 91.4h0M287.8 97.3h0M275.6 101.0h0M283.3 105.7h0M288.5 96.0h0M292.4 94.0h0M292.7 100.9h0M287.2 101.2h0M285.5 97.4h0M280.6 96.1h0M284.0 92.3h0M290.3 95.9h0M289.2 95.0h0M288.1 98.1h0M292.8 99.8h0M293.2 96.7h0M283.5 96.2h0M271.6 96.9h0M294.8 101.3h0M275.6 99.0h0M291.4 90.8h0M287.4 99.1h0M291.4 98.8h0M296.6 103.7h0M284.9 91.9h0M297.5 97.3h0M289.1 99.9h0M293.4 102.5h0M270.0 90.6h0M285.4 97.5h0M291.7 96.8h0M297.6 103.2h0M294.2 93.6h0M283.2 97.2h0M273.2 93.2h0M285.6 91.5h0M289.4 99.8h0M281.7 95.8h0M290.0 99.9h0M287.6 91.5h0M277.6 95.7h0M276.8 101.4h0M279.9 95.1h0M276.3 95.3h0M268.4 98.8h0M295.8 98.3h0M278.7 103.7h0M288.8 92.4h0M278.3 94.5h0M283.6 103.5h0M277.0 96.8h0M285.1 91.6h0M279.3 100.5h0M291.0 96.1h0M296.7 100.6h0M280.1 93.4h0M269.9 100.2h0M289.1 101.5h0M287.5 90.1h0M280.0 96.3h0M285.6 101.3h0M298.0 98.9h0M272.2 98.7h0M281.8 103.0h0M294.7 95.3h0M293.3 97.6h0M288.5 104.1h0M272.7 97.2h0M299.2 93.8h0M286.1 98.2h0M279.9 91.1h0M277.2 92.7h0M294.7 98.7h0M290.9 91.7h0M289.0 98.2h0M294.4 94.0h0M292.0 104.2h0M272.9 90.3h0M293.5 100.4h0M287.4 93.3h0M296.4 105.4h0M283.7 96.9h0M295.8 100.0h0M297.3 95.5h0M287.4 95.8h0M278.4 96.0h0M281.2 100.0h0M281.0 97.8h0M276.0 91.5h0M298.1 92.7h0M279.9 97.6h0M282.2 94.5h0M296.4 96.9h0M293.5 94.1h0M277.2 104.0h0M281.2 92.1h0M282.3 102.7h0M282.4 94.0h0M290.3 102.3h0M282.0 95.9h0M282.5 99.5h0M284.5 96.0h0M280.0 90.8h0M269.3 98.3h0M277.7 97.1h0M282.2 95.0h0M273.1 95.0h0M281.1 91.9h0M274.5 101.7h0M293.2 98.1h0M296.2 93.5h0M294.7 105.7h0M276.1 92.0h0M283.6 93.6h0M290.3 92.1h0M283.7 102.6h0M281.4 99.0h0M294.8 92.1h0M271.5 97.9h0M286.8 96.2h0M274.5 103.4h0M272.5 96.2h0M283.6 101.0h0M279.6 93.5h0M291.9 96.8h0M279.3 97.3h0M281.5 99.0h0M284.7 92.8h0M286.3 96.0h0M297.7 95.3h0M275.9 100.9h0M274.5 93.6h0M298.3 89.7h0M283.4 98.1h0M286.6 90.4h0M281.8 95.9h0M276.6 101.8h0M290.5 97.0h0M281.6 96.2h0M268.8 94.4h0M293.3 104.6h0M281.4 91.3h0M292.2 89.4h0M273.8 92.1h0M288.0 101.6h0M285.6 93.4h0M287.5 97.4h0M292.3 99.2h0M277.7 101.3h0M291.6 92.6h0M276.7 93.6h0M281.9 103.5h0M278.5 97.9h0M291.2 102.2h0M287.2 92.4h0M297.5 105.4h0M297.9 99.5h0M288.7 100.6h0M269.2 101.5h0M274.4 99.6h0M274.1 101.0h0M286.0 100.0h0M275.1 96.1h0M283.5 96.1h0M279.8 93.2h0M291.6 95.6h0M276.0 99.3h0M276.1 96.7h0M279.0 93.0h0M281.8 93.5h0M271.7 99.2h0M281.1 90.4h0M280.2 98.4h0M288.3 99.3h0M286.6 100.4h0M279.2 93.6h0M290.1 95.5h0M284.2 100.7h0M293.3 103.5h0M277.3 95.7h0M289.6 90.5h0M271.7 100.5h0M278.0 93.0h0M292.0 100.1h0M293.1 95.9h0" stroke="#555" stroke-width="0.55" stroke-linecap="square" opacity="0.7"/>
<path d="M281.2 95.9h0M277.3 101.0h0M276.4 97.2h0M285.3 100.0h0M279.4 92.0h0M285.2 96.6h0M293.7 92.6h0M276.2 93.8h0M279.0 98.8h0M276.3 96.3h0M298.6 104.5h0M280.4 103.8h0M287.7 104.5h0M275.6 96.0h0M294.1 100.3h0M285.9 100.6h0M285.6 104.5h0M288.1 97.9h0M281.0 91.8h0M292.6 101.2h0M293.3 95.7h0M274.2 95.7h0M281.0 97.4h0M293.8 93.1h0M279.3 100.9h0M289.3 93.4h0M273.9 93.7h0M284.8 98.7h0M283.5 94.5h0M282.3 97.1h0M289.9 97.9h0M276.2 91.8h0M298.7 97.1h0M282.4 97.4h0M295.2 96.0h0M285.8 96.4h0M289.8 92.6h0M286.1 102.5h0M295.7 100.5h0M287.0 105.1h0M291.1 104.3h0M272.3 92.2h0M292.0 96.2h0M279.9 92.9h0M298.7 91.7h0M285.2 90.8h0M274.2 105.4h0M287.5 92.3h0M269.9 103.0h0M277.0 92.4h0M285.8 96.6h0M295.1 98.0h0M299.7 103.0h0M284.8 100.1h0M284.4 90.0h0M272.6 101.1h0M271.6 97.2h0M274.0 98.7h0M282.2 95.2h0M284.9 91.3h0M281.3 99.3h0M294.4 100.9h0M298.6 90.6h0M290.8 105.1h0M288.0 92.1h0M288.0 95.0h0M277.8 102.7h0M282.4 92.1h0M275.9 100.8h0M285.9 103.2h0M281.4 92.9h0M277.9 92.5h0M281.0 103.6h0M290.6 96.6h0M290.2 98.8h0M295.2 105.5h0M281.1 97.3h0M282.4 103.4h0M287.9 101.3h0M293.0 94.4h0M285.4 104.2h0M293.2 101.4h0M281.4 95.8h0M275.8 96.2h0M283.5 90.6h0M295.5 93.8h0M286.6 100.4h0M293.6 99.5h0M281.7 103.0h0M292.9 92.9h0M281.6 104.3h0M276.0 101.5h0M269.4 96.1h0M288.6 101.2h0M284.8 98.8h0M284.4 94.5h0M284.0 96.9h0M290.7 100.8h0M293.7 100.4h0M274.7 104.2h0M287.4 95.0h0M272.8 95.1h0M288.2 101.4h0M285.2 100.7h0M277.3 94.6h0M285.4 91.0h0M286.0 95.6h0M290.8 92.6h0M279.0 94.8h0M280.6 92.7h0M281.6 91.0h0M289.4 100.8h0M284.0 96.6h0M275.5 92.9h0M282.0 93.1h0M272.7 98.3h0M284.0 95.6h0M276.3 97.3h0M277.4 95.4h0M286.0 101.0h0M291.5 94.6h0M295.9 91.9h0M282.5 103.8h0M280.7 95.7h0M272.4 96.8h0M280.1 93.9h0M295.8 93.8h0M290.4 94.7h0M286.8 96.2h0M287.9 94.3h0M288.9 90.3h0M296.6 95.8h0M282.6 90.1h0M274.5 100.9h0M277.0 97.3h0M292.8 91.1h0M279.5 92.0h0M270.7 94.2h0M294.8 97.7h0M290.7 96.9h0M280.1 97.9h0M276.4 101.4h0M295.9 95.6h0M282.0 95.3h0M291.8 97.6h0M298.7 103.2h0M281.2 94.6h0M281.9 93.3h0M280.1 97.2h0M292.7 89.9h0M270.6 93.8h0M281.2 99.7h0M276.5 104.8h0M279.0 96.5h0M284.7 103.2h0M287.0 97.6h0M278.9 98.3h0M288.0 95.8h0M279.0 103.2h0M297.8 97.2h0M280.2 102.4h0M278.2 104.2h0M295.3 92.4h0M282.0 91.6h0M286.8 95.6h0M269.7 92.4h0M286.5 90.1h0M294.5 99.7h0M282.4 104.3h0M275.2 100.8h0M271.1 95.9h0M290.3 94.9h0M283.0 100.7h0M298.8 103.8h0M288.5 96.2h0M292.5 97.3h0M290.9 99.0h0M282.2 97.5h0M283.7 103.2h0M281.6 94.9h0M290.4 100.6h0M288.3 98.9h0M298.3 102.9h0M286.1 96.5h0M279.1 94.1h0M285.8 95.6h0M284.1 96.0h0M296.0 101.5h0M293.0 103.4h0M280.6 94.3h0M277.2 98.0h0M293.7 92.4h0M279.0 91.0h0M286.2 91.6h0M274.2 94.4h0M284.4 91.3h0M281.9 103.4h0M284.2 98.0h0M282.7 94.1h0M270.8 97.2h0M274.3 94.8h0M268.8 97.0h0M292.8 93.4h0" stroke="#f0f0f0" stroke-width="0.6" stroke-linecap="square" opacity="1"/>
<ellipse cx="281" cy="99.2" rx="4" ry="1.8" fill="#f4f4f4"/>
<text x="317.7" y="55" font-size="6.8" fill="#222" textLength="13.3" lengthAdjust="spacingAndGlyphs" stroke="#222" stroke-width="0.05">96.6</text>
<text x="313.7" y="114.1" font-size="6.8" fill="#222" textLength="8.6" lengthAdjust="spacingAndGlyphs" stroke="#222" stroke-width="0.05">2.7</text>
<line x1="302.5" y1="97.5" x2="377.0" y2="97.5" stroke="#000" stroke-width="2.4"/>
<path d="M370.5 92.5L376.9 97.5L370.5 102.5" fill="none" stroke="#000" stroke-width="2.3" stroke-linejoin="round" stroke-linecap="round"/>
<path d="M358 106.5V118.8H340.8" fill="none" stroke="#d0d0d0" stroke-width="1.3"/>
<rect x="399.5" y="23.7" width="107.5" height="95.5" fill="none" stroke="#444" stroke-width="1.1"/>
<text x="394.5" y="35.9" font-size="6.7" fill="#2a2a2a" stroke="#222" stroke-width="0.08" text-anchor="end">10<tspan font-size="4.3" dx="0.5" dy="-2.9">5</tspan></text>
<line x1="398.0" y1="33.5" x2="399.5" y2="33.5" stroke="#555" stroke-width="0.8"/>
<text x="394.5" y="57.4" font-size="6.7" fill="#2a2a2a" stroke="#222" stroke-width="0.08" text-anchor="end">10<tspan font-size="4.3" dx="0.5" dy="-2.9">4</tspan></text>
<line x1="398.0" y1="55" x2="399.5" y2="55" stroke="#555" stroke-width="0.8"/>
<text x="394.5" y="79.60000000000001" font-size="6.7" fill="#2a2a2a" stroke="#222" stroke-width="0.08" text-anchor="end">10<tspan font-size="4.3" dx="0.5" dy="-2.9">3</tspan></text>
<line x1="398.0" y1="77.2" x2="399.5" y2="77.2" stroke="#555" stroke-width="0.8"/>
<text x="394.5" y="102.2" font-size="6.7" fill="#2a2a2a" stroke="#222" stroke-width="0.08" text-anchor="end">10<tspan font-size="4.3" dx="0.5" dy="-2.9">2</tspan></text>
<line x1="398.0" y1="99.8" x2="399.5" y2="99.8" stroke="#555" stroke-width="0.8"/>
<text x="393.0" y="113.0" font-size="6.7" fill="#2a2a2a" text-anchor="end" stroke="#222" stroke-width="0.05">0</text>
<line x1="398.0" y1="110.6" x2="399.5" y2="110.6" stroke="#555" stroke-width="0.8"/>
<text x="409.8" y="132.9" font-size="6.7" fill="#2a2a2a" text-anchor="middle" stroke="#222" stroke-width="0.05">0</text>
<line x1="409.8" y1="118.2" x2="409.8" y2="120.2" stroke="#555" stroke-width="0.8"/>
<text x="423.0" y="132.9" font-size="6.7" fill="#2a2a2a" stroke="#222" stroke-width="0.08" text-anchor="middle">10<tspan font-size="4.3" dx="0.5" dy="-2.9">2</tspan></text>
<line x1="421.5" y1="118.2" x2="421.5" y2="120.2" stroke="#555" stroke-width="0.8"/>
<text x="448.8" y="132.9" font-size="6.7" fill="#2a2a2a" stroke="#222" stroke-width="0.08" text-anchor="middle">10<tspan font-size="4.3" dx="0.5" dy="-2.9">3</tspan></text>
<line x1="447.3" y1="118.2" x2="447.3" y2="120.2" stroke="#555" stroke-width="0.8"/>
<text x="473.0" y="132.9" font-size="6.7" fill="#2a2a2a" stroke="#222" stroke-width="0.08" text-anchor="middle">10<tspan font-size="4.3" dx="0.5" dy="-2.9">4</tspan></text>
<line x1="471.5" y1="118.2" x2="471.5" y2="120.2" stroke="#555" stroke-width="0.8"/>
<text x="498.1" y="132.9" font-size="6.7" fill="#2a2a2a" stroke="#222" stroke-width="0.08" text-anchor="middle">10<tspan font-size="4.3" dx="0.5" dy="-2.9">5</tspan></text>
<line x1="496.6" y1="118.2" x2="496.6" y2="120.2" stroke="#555" stroke-width="0.8"/>
<rect x="428.2" y="24.9" width="79" height="51.9" fill="#dcb4c2" stroke="#d6406c" stroke-width="2.5"/>
<rect x="399.6" y="76.4" width="38.6" height="42.6" fill="#a9b1e3" stroke="#2438e0" stroke-width="2.5"/>
<defs><clipPath id="c1b"><rect x="400.8" y="77.6" width="36.2" height="40.2"/></clipPath><clipPath id="c1p"><rect x="429.4" y="26" width="76.6" height="49.6"/></clipPath><clipPath id="c1g"><path d="M439.5 78.5H480V92L450 104H439.5Z"/></clipPath></defs>
<ellipse cx="425" cy="92" rx="15" ry="10" fill="#2a3070" opacity="0.5" clip-path="url(#c1b)"/>
<path d="M426.4 93.7L424.6 93.8L423.1 93.4L422.2 92.4L422.3 91.4L423.1 90.6L424.6 90.1L426.4 90.1L427.9 90.6L428.7 91.4L428.6 92.4L426.4 93.7M426.1 95.6L422.6 95.4L420.2 94.1L419.2 92.1L420.1 90.0L422.4 88.6L425.4 88.2L429.0 88.6L431.5 89.9L432.3 91.6L431.5 93.4L429.2 94.9L426.1 95.6M427.4 97.4L422.4 97.4L420.1 96.7L418.4 95.6L417.1 94.1L416.5 92.4L416.7 90.6L417.6 89.1L420.6 87.1L424.9 86.3L430.4 86.8L433.9 88.5L434.8 89.6L435.3 91.1L435.2 92.6L434.5 93.9L431.6 96.1L427.4 97.4M426.6 99.4L423.1 99.4L420.1 98.8L417.4 97.6L415.3 95.9L414.0 93.6L413.8 91.4L414.6 89.1L416.1 87.3L418.1 86.0L420.6 85.0L426.4 84.4L432.9 85.4L435.1 86.5L436.6 87.8L437.7 89.6L438.0 91.6L437.5 93.6L436.4 95.4L434.6 96.9L432.4 98.0L426.6 99.4M427.9 101.1L423.6 101.4L419.6 100.8L416.1 99.4L413.4 97.3L411.6 94.6L411.1 91.9L411.8 88.9L413.7 86.4L415.9 84.8L418.6 83.5L421.6 82.8L425.1 82.5L429.4 82.7L433.1 83.4L435.9 84.5L438.1 86.1L439.6 88.1L440.3 90.6L440.1 93.1L439.0 95.6L437.2 97.6L434.6 99.2L431.4 100.4L427.9 101.1M427.1 103.1L422.1 103.2L417.4 102.2L413.4 100.2L410.3 97.4L408.7 94.1L408.5 90.6L410.0 87.1L412.6 84.3L415.6 82.5L419.1 81.3L422.9 80.7L427.4 80.7L432.1 81.2L435.4 82.0L438.4 83.6L440.5 85.6L442.0 88.4L442.6 91.4L442.0 94.4L440.6 97.1L438.4 99.3L435.4 101.1L431.6 102.3L427.1 103.1M425.1 104.9L420.4 104.6L416.1 103.5L412.4 101.8L409.4 99.4L407.2 96.4L406.3 93.4L406.3 90.1L407.5 87.1L409.6 84.4L412.4 82.2L415.9 80.6L419.9 79.5L424.6 79.0L430.4 79.3L434.6 80.1L438.4 81.6L441.9 84.5L444.0 88.4L444.3 92.6L443.0 96.6L440.4 99.9L436.4 102.4L430.9 104.2L425.1 104.9" fill="none" stroke="#1e2468" stroke-width="0.8" clip-path="url(#c1b)"/>
<path d="M442.9 80.6L441.4 80.5L440.1 79.8L439.2 78.4L438.9 76.6L439.1 74.4L439.7 72.1L440.9 70.1L442.1 69.0L443.1 68.9L443.9 69.3L447.6 74.3L448.9 75.3L450.4 75.7L452.9 75.6L455.4 74.8L460.6 71.0L461.4 71.0L462.1 71.6L462.2 73.4L461.4 75.1L460.1 76.6L458.1 77.9L454.4 79.1L448.4 79.4L442.9 80.6M443.6 82.6L441.1 82.7L439.4 82.0L438.1 80.4L437.3 77.9L437.5 74.6L438.4 71.1L440.1 67.6L441.9 65.7L443.1 65.2L444.4 65.6L448.0 71.4L449.4 72.4L450.9 72.7L452.9 72.5L454.9 71.5L459.0 67.1L460.6 66.0L462.9 65.9L464.6 67.3L465.7 70.1L465.6 73.6L464.3 76.6L461.9 79.1L459.1 80.6L455.6 81.6L443.6 82.6M442.4 84.6L439.9 84.5L437.9 83.3L436.4 80.9L435.9 77.6L436.2 73.9L437.6 69.4L439.6 65.4L441.6 62.9L443.4 62.0L445.1 62.4L446.4 64.0L448.7 68.9L449.9 70.0L451.1 70.4L452.5 70.1L453.9 69.4L457.9 64.7L460.1 63.1L463.1 62.9L465.9 64.7L467.6 68.1L467.9 72.6L466.7 76.9L464.1 80.1L461.1 82.0L457.1 83.3L453.4 83.8L446.6 84.0L442.4 84.6M442.1 86.4L439.1 86.3L436.9 84.9L435.2 81.9L434.6 78.1L435.0 73.9L436.6 68.6L438.7 63.9L441.1 60.7L443.6 59.2L445.9 59.7L447.5 61.6L449.7 66.6L450.4 67.4L451.4 67.8L453.1 67.1L457.1 62.5L460.1 60.6L461.9 60.4L463.6 60.6L465.4 61.4L466.9 62.6L468.2 64.4L469.2 66.6L469.8 71.9L468.6 77.1L465.9 81.1L462.6 83.3L458.4 84.7L453.9 85.3L446.6 85.6L442.1 86.4M441.6 88.4L438.4 88.4L435.9 86.6L434.0 83.1L433.2 78.6L433.7 73.9L435.5 67.9L437.9 62.4L440.5 58.6L443.4 56.6L444.9 56.3L446.1 56.7L447.9 58.1L450.6 63.2L451.9 64.0L453.1 63.5L457.4 59.5L460.4 58.2L464.1 58.4L467.6 60.4L469.2 62.4L470.5 64.9L471.3 67.6L471.6 70.6L471.4 73.9L470.6 76.9L469.5 79.4L467.9 81.7L464.6 84.2L460.1 86.0L454.9 86.8L446.6 87.2L441.6 88.4" fill="none" stroke="#6e4050" stroke-width="0.55" clip-path="url(#c1p)"/>
<g fill="none" stroke="#5a5a5a" stroke-width="0.6" clip-path="url(#c1g)"><ellipse cx="430" cy="92" rx="12.0" ry="8.0" transform="rotate(-35 430 92)"/><ellipse cx="430" cy="92" rx="14.9" ry="10.0" transform="rotate(-35 430 92)"/><ellipse cx="430" cy="92" rx="17.8" ry="12.0" transform="rotate(-35 430 92)"/><ellipse cx="430" cy="92" rx="20.7" ry="14.0" transform="rotate(-35 430 92)"/><ellipse cx="430" cy="92" rx="23.6" ry="16.0" transform="rotate(-35 430 92)"/><ellipse cx="430" cy="92" rx="26.5" ry="18.0" transform="rotate(-35 430 92)"/><ellipse cx="430" cy="92" rx="29.4" ry="20.0" transform="rotate(-35 430 92)"/><ellipse cx="430" cy="92" rx="32.3" ry="22.0" transform="rotate(-35 430 92)"/></g>
<path d="M418 92Q424 90.5 430 91.5" stroke="#c8cce8" stroke-width="1.1" fill="none"/>
<text x="433.3" y="17.6" font-size="8.8" fill="#222" textLength="49.5" lengthAdjust="spacingAndGlyphs" stroke="#222" stroke-width="0.12">CD19<tspan font-size="5.5" dy="-3.3">+</tspan><tspan dy="3.3">CD27</tspan><tspan font-size="5.5" dy="-3.3">+</tspan></text>
<text x="407.7" y="37.5" font-size="6.8" fill="#222" textLength="9.8" lengthAdjust="spacingAndGlyphs" stroke="#222" stroke-width="0.05">0.2</text>
<text x="486" y="37.6" font-size="6.8" fill="#222" textLength="12" lengthAdjust="spacingAndGlyphs" stroke="#222" stroke-width="0.05">14.0</text>
<text x="441.2" y="113.9" font-size="6.8" fill="#222" textLength="13.8" lengthAdjust="spacingAndGlyphs" stroke="#222" stroke-width="0.05">67.2</text>
<text x="482.8" y="113.9" font-size="6.8" fill="#222" textLength="13.8" lengthAdjust="spacingAndGlyphs" stroke="#222" stroke-width="0.05">17.8</text>
<rect x="91.6" y="142.6" width="108.20000000000002" height="94.1" fill="none" stroke="#444" stroke-width="1.1"/>
<text x="86" y="151.6" font-size="7.2" fill="#2a2a2a" text-anchor="end" stroke="#222" stroke-width="0.05">250K</text>
<line x1="89.6" y1="149" x2="91.6" y2="149" stroke="#555" stroke-width="0.8"/>
<text x="86" y="169.4" font-size="7.2" fill="#2a2a2a" text-anchor="end" stroke="#222" stroke-width="0.05">200K</text>
<line x1="89.6" y1="166.8" x2="91.6" y2="166.8" stroke="#555" stroke-width="0.8"/>
<text x="86" y="187.2" font-size="7.2" fill="#2a2a2a" text-anchor="end" stroke="#222" stroke-width="0.05">150K</text>
<line x1="89.6" y1="184.6" x2="91.6" y2="184.6" stroke="#555" stroke-width="0.8"/>
<text x="86" y="205.29999999999998" font-size="7.2" fill="#2a2a2a" text-anchor="end" stroke="#222" stroke-width="0.05">100K</text>
<line x1="89.6" y1="202.7" x2="91.6" y2="202.7" stroke="#555" stroke-width="0.8"/>
<text x="86" y="222.4" font-size="7.2" fill="#2a2a2a" text-anchor="end" stroke="#222" stroke-width="0.05">50K</text>
<line x1="89.6" y1="219.8" x2="91.6" y2="219.8" stroke="#555" stroke-width="0.8"/>
<text x="86" y="239.6" font-size="7.2" fill="#2a2a2a" text-anchor="end" stroke="#222" stroke-width="0.05">0</text>
<line x1="89.6" y1="237" x2="91.6" y2="237" stroke="#555" stroke-width="0.8"/>
<text x="103.7" y="248.1" font-size="6.7" fill="#2a2a2a" text-anchor="middle" stroke="#222" stroke-width="0.05">0</text>
<text x="115.3" y="248.1" font-size="6.7" fill="#2a2a2a" stroke="#222" stroke-width="0.08" text-anchor="middle">10<tspan font-size="4.3" dx="0.5" dy="-2.9">2</tspan></text>
<text x="140.7" y="248.1" font-size="6.7" fill="#2a2a2a" stroke="#222" stroke-width="0.08" text-anchor="middle">10<tspan font-size="4.3" dx="0.5" dy="-2.9">3</tspan></text>
<text x="165.7" y="248.1" font-size="6.7" fill="#2a2a2a" stroke="#222" stroke-width="0.08" text-anchor="middle">10<tspan font-size="4.3" dx="0.5" dy="-2.9">4</tspan></text>
<text x="189.3" y="248.1" font-size="6.7" fill="#2a2a2a" stroke="#222" stroke-width="0.08" text-anchor="middle">10<tspan font-size="4.3" dx="0.5" dy="-2.9">5</tspan></text>
<line x1="104.7" y1="235.7" x2="104.7" y2="237.7" stroke="#555" stroke-width="0.8"/>
<line x1="113" y1="235.7" x2="113" y2="237.7" stroke="#555" stroke-width="0.8"/>
<line x1="140.5" y1="235.7" x2="140.5" y2="237.7" stroke="#555" stroke-width="0.8"/>
<line x1="165" y1="235.7" x2="165" y2="237.7" stroke="#555" stroke-width="0.8"/>
<line x1="188.5" y1="235.7" x2="188.5" y2="237.7" stroke="#555" stroke-width="0.8"/>
<rect x="132" y="184.2" width="48.5" height="39.8" fill="#c2cae2" stroke="#8a96b8" stroke-width="1"/>
<ellipse cx="110" cy="201" rx="15" ry="21" fill="url(#hk)"/>
<path d="M112.1 188.5h0M113.7 205.5h0M107.6 208.3h0M104.6 201.4h0M120.6 200.8h0M103.0 210.5h0M113.4 198.7h0M98.7 185.4h0M100.6 213.3h0M111.9 194.0h0M117.3 213.1h0M104.8 205.0h0M99.8 204.1h0M121.4 189.3h0M110.4 195.7h0M109.5 201.7h0M111.8 208.4h0M113.3 209.7h0M116.4 210.1h0M105.8 204.4h0M107.7 194.0h0M122.3 203.4h0M110.3 183.6h0M108.6 207.4h0M108.8 196.5h0M119.3 198.4h0M108.0 200.2h0M108.6 209.7h0M113.6 200.4h0M107.8 199.1h0M120.6 198.5h0M114.1 187.9h0M112.1 206.7h0M118.0 203.6h0M113.7 203.7h0M116.7 218.0h0M111.3 194.2h0M113.8 200.1h0M114.0 207.4h0M111.0 197.4h0M112.0 190.7h0M111.8 193.7h0M112.9 202.0h0M108.7 191.0h0M110.4 195.4h0M109.2 206.8h0M116.0 190.3h0M115.9 212.3h0M117.1 203.3h0M109.5 215.4h0M108.1 188.3h0M110.6 203.4h0M103.6 190.9h0M122.4 201.9h0M114.9 196.2h0M100.6 199.5h0M118.4 195.5h0M98.9 199.6h0M108.3 201.1h0M103.6 198.4h0M106.7 208.3h0M111.0 208.2h0M109.8 183.3h0M97.9 205.4h0M115.5 208.3h0M109.6 186.2h0M107.0 204.4h0M118.6 198.2h0M106.6 194.6h0M116.4 208.2h0M98.7 211.1h0M104.3 188.8h0M100.2 195.0h0M124.5 222.2h0M102.3 195.4h0M111.1 204.5h0M107.1 187.9h0M107.5 195.4h0M98.9 202.2h0M101.0 186.6h0M119.5 208.8h0M119.1 202.0h0M107.5 200.3h0M101.6 207.2h0M111.8 198.5h0M98.4 200.1h0M120.2 213.0h0M115.5 198.1h0M110.9 205.6h0M111.3 209.7h0M105.9 181.7h0M95.0 193.4h0M101.5 206.5h0M116.8 201.0h0M113.4 201.6h0M111.2 197.1h0M107.6 210.9h0M108.4 200.7h0M117.5 209.2h0M107.6 203.1h0M103.8 202.1h0M112.0 201.0h0M111.1 204.0h0M94.3 194.2h0M110.5 196.9h0M104.1 199.0h0M120.1 199.1h0M106.0 197.0h0M102.7 205.0h0M103.9 208.6h0M115.7 205.8h0M116.5 200.3h0M99.1 200.5h0M114.1 188.2h0M102.5 210.1h0M112.8 212.2h0M114.2 201.6h0M112.7 208.1h0M109.9 199.3h0M112.0 198.4h0M125.1 194.6h0M100.6 190.3h0M116.6 197.6h0M111.1 199.2h0M111.8 188.9h0M110.6 196.2h0M116.9 206.2h0M102.2 193.0h0M113.6 210.9h0M114.9 199.7h0M117.0 181.4h0M106.7 192.9h0M103.6 205.7h0M111.8 203.4h0M109.3 206.2h0M115.0 196.2h0M115.9 193.3h0M121.1 190.2h0M108.3 192.0h0M110.3 211.9h0M105.4 215.8h0M118.9 204.2h0M106.4 208.5h0M116.1 200.7h0M125.7 195.4h0M101.7 199.2h0M113.7 215.2h0M99.0 202.3h0M118.0 195.4h0M107.2 190.9h0M114.9 207.9h0M113.8 203.1h0M116.3 200.0h0M114.6 207.8h0M118.3 205.3h0M110.6 206.9h0M100.3 186.3h0M120.3 202.2h0M103.5 196.2h0M109.1 201.6h0M105.3 209.3h0M103.3 214.9h0M114.3 187.0h0M102.4 201.5h0M111.8 197.5h0M110.2 202.4h0M102.9 201.5h0M124.4 195.6h0M103.7 206.5h0M118.6 209.7h0M106.1 200.4h0M111.4 199.2h0M112.6 210.1h0M113.6 200.9h0M108.8 216.0h0M102.3 217.8h0M114.8 201.7h0M105.4 216.4h0M117.8 208.6h0M123.3 186.0h0M110.7 198.4h0M105.5 201.6h0M113.5 205.4h0M109.2 189.9h0M113.6 206.1h0M123.6 208.8h0M110.2 191.4h0M127.4 195.3h0M111.3 207.3h0M113.3 212.2h0M103.5 195.2h0M111.2 190.7h0M106.2 212.6h0M112.0 200.1h0M106.4 201.4h0M109.9 192.0h0M115.1 190.3h0M118.3 198.2h0M95.5 188.0h0M111.9 193.7h0M121.7 212.6h0M123.6 208.5h0M118.7 195.9h0M118.4 197.3h0M109.8 189.6h0M110.5 204.4h0M109.7 191.7h0M115.9 208.7h0M109.5 207.6h0M116.4 192.7h0M109.9 185.3h0M103.4 204.6h0M104.4 204.3h0M112.4 183.6h0M107.0 213.8h0M110.2 202.0h0M105.5 187.5h0M108.9 193.7h0M110.8 184.7h0M119.1 215.5h0M105.2 203.7h0M104.3 208.2h0M104.7 199.8h0M118.5 205.4h0M108.0 188.2h0M99.8 211.2h0M113.4 201.5h0M118.2 202.2h0M105.4 200.1h0M109.5 200.9h0M126.2 205.9h0M111.9 198.9h0M105.7 192.6h0M97.9 197.1h0M100.2 185.3h0M104.0 183.8h0M119.0 211.6h0M103.8 218.3h0M110.2 192.5h0M98.8 198.8h0M117.6 204.8h0M100.6 195.4h0M105.1 210.7h0M109.4 192.7h0M104.1 184.3h0M104.6 208.6h0M97.6 202.6h0M109.3 207.9h0M102.6 208.7h0M120.2 220.4h0M99.5 200.7h0M108.7 202.0h0M103.6 208.3h0M125.3 213.8h0M103.8 196.1h0M114.8 202.2h0M105.1 211.5h0M113.4 209.7h0M108.9 211.9h0M107.0 191.5h0M110.0 189.1h0M118.2 207.2h0M99.1 202.5h0M115.6 198.0h0M112.8 196.0h0M109.6 200.3h0M113.2 192.8h0M102.7 203.8h0M106.7 205.4h0M106.8 189.8h0M114.9 203.3h0M114.8 198.1h0M107.7 211.8h0M99.0 215.8h0M113.4 200.5h0M110.6 206.1h0M105.0 203.4h0M103.8 185.3h0M111.3 201.8h0M114.3 205.7h0M114.6 207.7h0M103.1 211.4h0M127.5 196.2h0M101.8 206.8h0M116.0 209.6h0M120.1 189.2h0M112.5 204.9h0M118.2 193.4h0M110.2 197.8h0M109.0 199.8h0M109.0 185.9h0M109.8 201.6h0M105.5 195.4h0M104.3 214.7h0M116.1 199.4h0M103.7 205.0h0M106.1 213.7h0M117.3 200.0h0M114.0 194.2h0M99.7 208.2h0M120.7 198.4h0M106.6 185.7h0M124.1 190.8h0M103.7 199.3h0M117.9 201.5h0M109.9 201.2h0M115.6 200.7h0M111.1 200.4h0M102.8 212.5h0M105.5 189.7h0M107.2 201.3h0M115.4 188.5h0M101.7 202.5h0M112.5 191.6h0M102.6 202.5h0M109.1 187.2h0M104.3 213.7h0M103.1 210.0h0M100.0 213.7h0M120.5 195.6h0M105.6 206.4h0M101.9 205.7h0M118.0 203.2h0M112.1 199.7h0M116.6 194.0h0M120.4 200.8h0M107.9 187.1h0M107.1 203.0h0M118.1 187.2h0M109.2 195.1h0M102.2 201.0h0M105.0 208.4h0M97.6 184.4h0M113.4 198.1h0M110.8 192.7h0M103.2 194.7h0M109.6 193.8h0M107.3 193.7h0M111.5 191.3h0M109.9 201.8h0M116.3 194.7h0M102.6 188.3h0M115.0 195.7h0M116.4 200.3h0M108.2 185.1h0M105.6 207.7h0M106.0 206.8h0M99.3 209.7h0M128.2 210.5h0M112.1 190.5h0M106.6 195.4h0M111.2 183.8h0M104.4 207.8h0M111.0 207.3h0M115.6 191.2h0M101.2 205.0h0M110.2 201.7h0M104.7 209.7h0M113.2 210.7h0M107.7 206.9h0M109.6 193.0h0M109.5 186.9h0M108.8 202.5h0M114.5 192.0h0M101.3 194.8h0M96.5 195.4h0M127.1 202.2h0M105.0 195.2h0M121.5 191.1h0M109.3 200.3h0M105.2 194.9h0M99.1 193.8h0M118.5 213.1h0M108.2 207.0h0M113.0 201.9h0M109.1 211.4h0M113.7 199.1h0M108.5 209.0h0M106.1 194.9h0M108.2 196.8h0M118.2 204.0h0M109.4 196.5h0M119.2 204.8h0M123.6 208.8h0M108.6 196.3h0M108.1 202.5h0M115.2 205.1h0M120.2 188.0h0M110.2 188.9h0M103.3 195.9h0M105.8 192.7h0M100.1 210.7h0M107.9 209.2h0M102.8 181.2h0M106.1 208.5h0M106.4 204.4h0M103.0 212.9h0M112.8 210.0h0M108.2 211.9h0M110.5 196.8h0M105.8 201.5h0M104.1 190.8h0M110.8 207.1h0M108.1 208.2h0M120.3 190.2h0M111.7 192.8h0M105.8 202.5h0M94.5 206.2h0M115.5 205.6h0M114.2 216.5h0M107.6 210.3h0M119.4 205.2h0M98.4 199.7h0M108.1 187.2h0M109.6 207.4h0M108.3 199.4h0M119.6 195.8h0M103.8 201.3h0M117.3 206.1h0M110.5 196.8h0M118.0 208.5h0M98.7 203.8h0M94.3 213.7h0M114.0 195.6h0M101.6 198.4h0M98.6 205.8h0M106.7 185.9h0M109.9 211.1h0M101.7 198.0h0M121.8 202.6h0M106.4 202.6h0M115.1 192.4h0M109.4 187.1h0M99.7 187.9h0M115.5 203.6h0M114.8 211.4h0M110.3 203.0h0M112.6 205.0h0M103.1 198.7h0M109.0 201.3h0M105.1 199.9h0M111.9 202.6h0M113.8 208.0h0M113.6 209.2h0M115.5 212.9h0M114.1 195.7h0M125.2 210.6h0M118.1 207.2h0M110.3 191.2h0M112.8 198.0h0M107.4 182.8h0M120.1 191.0h0M102.8 205.0h0M113.7 194.2h0M109.9 203.1h0M111.0 205.5h0M115.0 197.9h0M99.4 219.4h0M107.5 192.5h0M114.9 206.0h0M106.0 221.0h0M94.7 211.9h0M109.7 203.6h0M112.1 199.0h0M112.1 189.9h0M107.4 216.7h0M93.2 211.5h0M95.4 193.7h0M115.7 197.5h0M106.2 188.2h0M109.2 199.5h0M105.8 187.7h0M111.0 204.6h0M117.4 205.4h0M119.9 211.2h0M109.3 192.1h0M112.8 209.2h0M99.9 190.5h0M114.5 196.3h0M119.5 202.8h0M106.4 189.7h0M113.9 186.3h0M101.5 189.8h0M121.1 215.5h0M108.5 197.7h0M114.6 211.6h0M104.7 219.8h0M108.6 210.6h0M94.6 200.5h0M105.4 217.9h0M108.6 190.1h0M122.7 195.1h0M110.0 190.3h0M114.4 202.6h0M108.1 197.6h0M106.3 194.9h0M100.8 211.3h0M115.8 189.1h0M102.4 204.5h0M124.8 199.2h0M107.9 198.8h0M111.6 199.5h0M117.1 209.4h0M113.6 214.4h0M108.5 196.3h0M129.4 184.5h0M112.3 191.9h0M116.9 183.1h0M109.1 197.6h0M102.9 210.5h0M107.4 204.8h0M106.6 202.3h0M107.1 201.6h0M109.3 195.2h0M112.8 199.4h0M103.7 192.0h0M112.9 212.3h0M101.4 197.4h0M112.9 209.9h0M114.6 190.9h0M110.2 208.7h0M111.6 199.1h0M102.3 202.4h0M109.6 201.3h0M119.8 211.1h0M104.8 203.0h0M108.0 201.8h0M120.7 208.8h0M110.3 195.4h0M108.9 204.1h0M106.7 210.4h0M110.1 190.9h0M108.2 200.0h0M116.5 210.5h0M119.5 214.3h0M112.1 202.0h0M116.6 200.8h0M101.8 197.1h0M114.3 206.2h0M102.8 211.2h0M112.0 188.2h0M113.0 209.6h0M113.5 198.3h0M104.8 210.6h0M111.5 200.9h0M107.4 192.2h0M97.8 198.1h0M117.2 207.5h0M105.5 214.0h0M108.5 192.4h0M116.4 212.8h0M107.5 190.6h0M110.3 214.0h0M111.8 194.7h0M114.6 196.8h0M118.3 197.9h0M123.3 198.0h0M111.2 193.0h0M101.6 203.9h0M112.3 192.7h0M113.7 197.5h0M106.4 200.4h0M112.6 207.2h0M118.1 204.2h0M105.2 195.2h0M112.4 190.8h0M108.9 197.7h0M109.4 202.5h0M116.8 215.0h0M115.8 209.6h0M103.0 209.8h0M118.5 189.4h0M126.5 196.2h0M94.5 216.0h0M110.4 194.2h0M106.3 210.1h0M111.7 197.8h0M117.5 193.0h0M104.5 196.2h0M105.1 206.9h0M108.5 192.0h0M107.0 184.1h0M111.1 201.9h0M114.0 199.0h0M112.6 193.0h0M110.2 202.3h0M102.1 206.0h0M110.9 201.4h0M106.9 218.1h0M110.0 194.5h0M104.5 206.0h0M108.6 194.3h0M105.3 208.9h0M110.6 210.0h0M109.9 190.9h0M115.7 203.7h0M105.7 198.4h0M103.7 208.1h0M107.3 205.1h0M111.7 198.8h0M112.4 198.9h0M102.3 197.5h0M102.3 207.4h0M114.2 196.0h0M114.0 203.1h0M116.3 193.1h0M110.2 192.6h0M105.5 212.6h0M96.9 193.2h0M113.2 207.6h0M104.9 183.7h0M98.8 204.1h0M117.2 208.7h0M105.2 212.5h0M108.8 206.2h0M108.8 214.5h0M106.6 182.7h0M108.0 202.6h0M111.8 194.9h0M108.5 191.3h0M108.5 201.7h0M111.6 215.0h0M97.0 205.4h0M112.8 191.2h0M110.5 200.9h0M103.5 207.1h0M122.4 206.7h0M115.0 210.1h0M109.2 209.3h0M104.8 202.5h0M114.6 212.1h0M108.1 198.5h0M113.0 200.3h0M110.9 207.8h0M105.0 208.4h0M112.5 198.8h0M101.9 195.7h0M109.7 209.0h0M97.2 207.0h0M111.2 191.4h0M115.6 204.4h0M112.8 192.7h0M102.8 208.7h0M119.1 204.1h0M108.7 197.2h0M98.9 209.3h0M109.4 211.4h0M105.3 209.9h0M105.4 205.9h0M118.9 195.0h0M115.9 200.9h0M103.9 202.7h0M114.2 195.0h0M108.3 196.2h0M105.0 199.2h0M115.3 196.8h0M118.0 197.8h0M105.5 210.0h0M119.1 195.5h0M113.8 191.2h0M107.4 197.8h0M114.6 190.4h0M106.7 195.2h0M110.6 190.6h0M111.4 188.3h0M115.4 189.9h0M97.9 215.0h0M118.0 193.9h0M103.0 205.0h0M123.1 206.0h0M114.2 191.0h0M98.5 204.3h0M116.5 202.1h0M110.0 212.6h0M104.6 210.2h0M115.3 195.7h0M110.8 201.9h0M113.7 192.8h0M108.5 201.8h0M110.2 201.2h0M111.6 199.4h0M106.8 209.7h0M105.9 198.3h0M104.3 191.4h0M112.9 200.6h0M109.1 204.8h0M108.9 206.7h0M121.6 203.9h0M108.3 214.9h0M114.5 187.0h0M118.5 202.8h0M115.5 191.3h0M104.6 195.6h0M113.5 191.6h0M105.5 209.0h0M105.9 202.0h0M104.2 186.7h0M109.5 200.0h0M100.8 209.1h0M115.2 208.4h0M106.7 191.4h0M109.4 202.4h0M108.9 196.1h0M103.6 194.8h0M109.5 196.9h0M120.6 198.7h0M112.9 197.1h0M108.8 192.9h0M106.9 188.5h0M96.7 212.2h0M103.3 204.6h0M109.2 196.2h0M114.6 196.3h0M112.8 197.9h0M116.2 209.0h0M110.4 210.1h0M113.2 214.0h0M109.2 188.1h0M111.3 203.0h0M107.7 199.3h0M108.3 190.5h0M120.9 194.5h0M103.2 187.8h0M104.6 200.7h0M119.4 206.0h0M105.4 190.6h0M102.9 200.3h0M115.5 197.0h0M120.2 217.1h0M111.0 183.0h0M116.9 200.2h0M114.2 209.2h0M103.6 201.5h0M111.1 194.7h0M114.4 199.9h0M107.4 216.6h0M111.1 214.6h0M109.0 209.6h0M105.2 202.2h0M116.9 182.9h0M113.4 198.7h0M116.9 202.5h0M109.5 190.3h0M128.7 194.8h0M107.9 195.0h0M108.1 202.8h0M101.5 209.8h0M108.3 206.0h0M96.6 196.6h0M108.1 197.7h0M105.7 203.6h0M112.6 192.8h0M97.5 207.0h0M107.9 209.9h0M115.5 200.1h0M100.9 198.0h0M105.3 211.3h0M99.2 208.6h0M100.2 196.2h0M101.0 195.2h0M107.2 204.1h0M106.2 206.7h0M121.1 202.3h0M102.7 199.5h0M109.3 198.0h0M117.3 210.6h0M122.7 205.3h0M93.0 199.9h0M114.2 194.3h0M106.1 208.5h0M110.9 191.6h0M109.9 190.8h0M109.6 191.1h0M104.1 196.7h0M127.6 191.1h0M102.4 196.5h0M116.7 207.6h0M114.4 198.3h0M110.8 194.6h0M108.8 194.3h0M100.7 192.7h0M122.2 204.3h0M105.2 200.1h0M107.1 211.1h0M109.8 195.7h0M114.3 203.6h0" stroke="#222" stroke-width="0.55" stroke-linecap="square" opacity="0.7"/>
<path d="M119.6 196.3h0M123.7 190.0h0M118.5 209.4h0M127.2 210.2h0M120.8 197.6h0M121.6 198.5h0M129.2 200.3h0M129.6 196.8h0M124.8 213.9h0M119.3 197.2h0M120.0 190.1h0M121.5 197.2h0M112.5 208.9h0M127.6 201.7h0M124.4 207.2h0M120.2 202.3h0M123.6 214.1h0M129.8 203.2h0M116.4 208.5h0M122.7 210.5h0M123.2 203.3h0M126.1 196.6h0M119.7 218.8h0M118.7 208.8h0M126.3 208.0h0M129.6 192.1h0M127.6 186.9h0M123.2 204.4h0M128.0 209.9h0M118.4 200.0h0M122.2 196.9h0M119.0 197.1h0M128.5 212.0h0M126.6 214.3h0M123.4 194.0h0M119.8 203.5h0M127.9 210.9h0M118.6 209.0h0M120.3 206.4h0M127.4 212.9h0M120.4 203.8h0M125.0 198.9h0M123.4 206.3h0M114.9 197.2h0M120.2 188.5h0M118.3 205.8h0M126.2 205.3h0M125.8 197.5h0M130.7 193.7h0M125.4 200.0h0M114.6 208.6h0M121.6 207.2h0M129.1 203.2h0M119.7 200.4h0M122.6 212.6h0M127.1 213.6h0M126.6 196.4h0M127.4 209.1h0M122.3 205.4h0M121.4 192.7h0M122.5 207.6h0M121.2 185.5h0M119.0 210.0h0M124.0 210.2h0M119.3 198.9h0M118.1 196.3h0M125.4 203.0h0M120.6 204.2h0M116.6 199.1h0M115.6 191.0h0M116.3 193.9h0M130.6 212.1h0M129.0 197.7h0M126.0 193.6h0M120.3 203.8h0M115.2 203.4h0M125.9 186.7h0M111.0 199.9h0M122.3 203.0h0M117.4 206.2h0M123.5 196.6h0M130.9 203.9h0M126.5 215.7h0M120.5 200.4h0M114.5 200.3h0M125.7 203.5h0M116.8 195.7h0M113.9 191.8h0M123.5 204.2h0M118.5 200.4h0M119.0 206.6h0M126.0 197.9h0M120.7 192.9h0M120.6 218.2h0M122.9 208.3h0M125.7 212.9h0M121.3 195.3h0M128.0 208.8h0M119.7 210.1h0M122.9 201.7h0M131.9 205.9h0M124.4 199.6h0M123.9 209.8h0M125.1 196.4h0M125.1 201.1h0M124.4 200.6h0M112.3 190.0h0M121.0 185.7h0M115.6 217.0h0M126.3 198.6h0M124.5 185.4h0M124.1 209.3h0M123.8 192.3h0M127.6 198.0h0M120.1 203.5h0M121.4 217.1h0M122.2 217.9h0M125.1 192.8h0M122.9 202.4h0M129.9 211.5h0M120.8 219.3h0M118.5 204.6h0M130.8 194.5h0M121.2 196.5h0M125.5 205.0h0M122.7 206.9h0M119.1 199.2h0M125.2 217.0h0M122.7 202.4h0M129.3 202.6h0M129.3 203.8h0M128.6 203.4h0M118.4 195.7h0M125.0 216.0h0M118.8 208.9h0M115.5 208.8h0M124.8 206.7h0M117.0 204.8h0M127.5 201.6h0M128.0 202.2h0M124.6 199.6h0M116.3 200.8h0M125.4 196.3h0M113.4 190.4h0M129.4 200.3h0M119.2 211.2h0M122.1 190.8h0M120.8 195.4h0M122.0 195.2h0M123.3 205.4h0M120.1 200.5h0M122.2 208.2h0M119.4 207.6h0M129.0 200.5h0M118.2 199.7h0M114.2 197.9h0M117.1 200.7h0M121.1 205.9h0M123.5 205.2h0M122.7 204.1h0M117.4 206.9h0M129.3 210.3h0M116.3 205.1h0M114.9 207.7h0M121.9 198.6h0M119.3 200.2h0M122.9 194.8h0M123.2 203.9h0M125.5 201.7h0M122.9 219.3h0M127.9 204.4h0M116.1 206.6h0M122.1 204.9h0M123.1 202.7h0M122.2 212.4h0M124.8 199.9h0M121.8 217.6h0M118.7 198.1h0M124.5 203.1h0M124.4 212.2h0M128.5 205.2h0M123.1 201.5h0M121.8 209.5h0M116.7 194.2h0M120.7 194.8h0M119.3 211.0h0M111.9 206.3h0M116.5 200.2h0M120.1 194.6h0M115.6 202.5h0M108.4 186.1h0M121.0 210.2h0M119.0 199.9h0M125.2 209.0h0M118.2 205.6h0M122.8 210.6h0M120.9 200.4h0M118.7 192.1h0M124.3 207.3h0M128.5 204.0h0M120.7 195.1h0M117.2 196.6h0M124.6 202.7h0M111.6 201.2h0M121.5 194.2h0M122.8 206.0h0M117.8 191.9h0M121.3 204.0h0M121.7 213.6h0M123.7 194.5h0M126.8 197.1h0M126.3 202.7h0M129.0 194.5h0M126.5 205.2h0M118.5 207.3h0M119.2 200.9h0M129.4 203.9h0M130.3 197.1h0M129.4 190.2h0M122.1 199.8h0M120.5 211.2h0M120.0 204.6h0M120.9 196.5h0M113.0 204.8h0M127.3 210.3h0M124.2 218.2h0M126.8 184.7h0M118.6 208.0h0M121.0 208.3h0M115.7 202.7h0M127.4 197.6h0M130.8 195.5h0M122.0 208.9h0M121.9 197.8h0M122.9 206.9h0M131.6 212.2h0M114.7 201.7h0M120.9 194.5h0M120.4 201.5h0M123.2 208.9h0M118.4 210.6h0M123.2 207.5h0M129.2 192.7h0M130.9 196.6h0M125.0 210.2h0M127.6 190.3h0M123.8 210.5h0M122.4 201.4h0M123.3 214.3h0M120.3 194.9h0M117.5 198.0h0M121.8 204.6h0M122.6 189.1h0M115.1 207.1h0M126.6 191.8h0M127.6 183.7h0M114.7 205.8h0M122.8 198.6h0M121.2 200.3h0M122.5 195.2h0M120.2 206.2h0M125.6 192.0h0M120.5 213.8h0M126.6 214.4h0M116.2 194.2h0M112.2 187.4h0M121.1 194.1h0M117.6 196.8h0M122.1 208.3h0M125.8 188.8h0M130.4 199.5h0M118.0 201.8h0M121.0 191.6h0M130.8 197.7h0M120.0 206.0h0M131.4 205.6h0M118.5 205.3h0M128.5 204.9h0M126.2 198.4h0M122.6 189.4h0M119.4 193.5h0M123.0 213.2h0M111.7 192.1h0M118.3 201.3h0M128.8 196.2h0M119.1 211.1h0M124.9 206.0h0M127.2 196.4h0M124.1 197.1h0M119.4 203.0h0M125.2 192.4h0M119.1 206.6h0M123.8 207.0h0M121.4 196.0h0M126.9 206.5h0M108.8 208.5h0M119.2 207.0h0M130.9 199.9h0M118.1 203.9h0M123.4 206.3h0M116.0 203.9h0M127.5 207.3h0M126.1 211.0h0M118.9 211.2h0M124.0 194.5h0M121.5 204.0h0M124.7 212.2h0M124.0 198.2h0M118.9 209.0h0M120.9 196.1h0M117.7 210.9h0M117.7 202.8h0M120.7 200.6h0M118.9 203.2h0M126.0 209.9h0M121.2 193.2h0M115.6 202.1h0M110.5 212.0h0M123.1 202.9h0M116.0 197.2h0M119.3 207.1h0M120.9 206.7h0M125.6 187.5h0M121.8 211.5h0M120.4 203.0h0M122.4 192.8h0M126.2 198.7h0M130.0 210.7h0M128.9 209.2h0M126.5 212.5h0M125.0 203.1h0M127.1 195.3h0M110.3 208.1h0M123.8 196.8h0M121.7 194.9h0M118.8 203.5h0M123.6 208.3h0M122.5 206.8h0M126.4 196.8h0M114.5 196.9h0M121.7 198.1h0M125.4 196.3h0M126.5 192.6h0M127.8 203.4h0M121.0 193.1h0M131.4 197.7h0M130.2 184.0h0M117.0 215.7h0M132.0 202.2h0M128.0 206.6h0M121.2 203.0h0M117.2 192.0h0M123.6 207.5h0M123.8 192.9h0M127.3 202.7h0M126.8 199.9h0M121.7 210.0h0M129.9 193.1h0M117.4 209.3h0M124.8 202.5h0M118.1 209.7h0M123.9 203.7h0M124.9 198.2h0M125.0 203.1h0M126.6 204.9h0M116.6 196.8h0M121.7 210.8h0M119.7 210.6h0M128.4 208.6h0M124.6 211.2h0M125.0 209.5h0M122.3 212.7h0M124.8 187.8h0M128.4 200.7h0M118.6 199.9h0M121.6 210.7h0M124.7 201.6h0M122.9 195.4h0M119.8 198.6h0M121.9 193.4h0M121.0 209.6h0M125.3 202.1h0M124.7 200.3h0M117.0 208.7h0M116.9 206.0h0M121.3 200.0h0M114.7 201.5h0M125.0 190.2h0M121.9 198.4h0M118.0 206.8h0M131.2 205.2h0M128.2 207.8h0M122.7 206.4h0M129.7 198.9h0M122.3 191.8h0M113.7 196.0h0M127.5 204.8h0M124.3 211.9h0M114.1 212.4h0M123.4 207.9h0M129.9 196.0h0M118.6 205.1h0M122.7 197.8h0M122.4 196.7h0M123.7 199.2h0M131.5 194.3h0M125.9 202.7h0M130.9 194.9h0M120.7 215.0h0M119.7 199.3h0M121.0 194.8h0M129.1 213.4h0M122.2 196.5h0M116.2 207.0h0M120.3 206.2h0M110.9 199.0h0M126.1 205.2h0M108.6 204.3h0M123.6 202.0h0M121.3 198.8h0M123.7 205.9h0M107.1 202.0h0M127.7 200.5h0M129.1 195.2h0M130.2 213.9h0M117.0 201.3h0M125.4 209.9h0M123.4 192.5h0M129.1 200.9h0M125.2 199.7h0M122.4 191.9h0M126.4 197.4h0M114.1 205.2h0M122.8 209.2h0M127.1 193.1h0M122.1 202.1h0M123.4 194.3h0M123.4 209.4h0M129.2 212.9h0M126.8 183.4h0M121.6 198.0h0M108.4 213.5h0M127.6 202.0h0M124.8 205.7h0M121.9 212.3h0M120.2 204.0h0M127.9 207.4h0M119.6 209.2h0M126.6 206.4h0M120.9 201.9h0M113.4 201.9h0M120.8 199.9h0M121.6 199.7h0M123.4 202.8h0M119.9 201.1h0M122.5 205.7h0M125.2 199.4h0M118.9 189.9h0M116.7 205.1h0M118.4 214.0h0M122.2 199.2h0M122.2 198.0h0M119.8 202.6h0M115.7 203.1h0M122.5 195.4h0M128.2 204.8h0M128.4 197.1h0M116.8 193.3h0M115.1 188.1h0M130.9 198.5h0M124.0 198.1h0M122.3 213.8h0M114.3 194.8h0M123.7 195.3h0M126.5 211.7h0M127.5 207.6h0M122.2 209.5h0M119.0 193.2h0M121.7 200.2h0M129.1 194.8h0M128.7 196.3h0M116.7 189.5h0M122.8 191.4h0M124.1 202.4h0M121.0 187.8h0M120.4 205.4h0M114.1 207.2h0M123.1 198.0h0M124.0 206.9h0M122.9 196.3h0M126.9 197.0h0M124.8 209.3h0M129.6 213.9h0M128.1 203.1h0M122.0 203.4h0M126.3 195.9h0M130.6 190.3h0M128.0 192.6h0M117.5 198.3h0M121.6 192.1h0M126.1 201.2h0M129.7 194.5h0M113.9 207.1h0M121.9 209.3h0M111.3 192.8h0M123.5 216.5h0M116.8 187.9h0M120.7 212.5h0M130.9 192.0h0M119.9 188.4h0M118.8 194.9h0M125.1 210.5h0M127.1 203.7h0M123.6 216.4h0M126.5 213.6h0M124.5 208.4h0M125.5 201.3h0M119.5 199.0h0M123.1 199.2h0M121.3 196.8h0M127.3 200.2h0M122.4 200.4h0M129.6 198.1h0M130.1 195.7h0M130.7 206.6h0M120.5 205.4h0M128.7 195.0h0M121.9 204.4h0M122.0 199.9h0M123.1 204.4h0M126.9 213.0h0M121.4 215.2h0M122.4 191.3h0M120.8 199.5h0M128.4 187.1h0M119.8 201.1h0M126.3 205.0h0M127.3 200.9h0M121.8 211.0h0M131.6 204.9h0M123.8 195.7h0M126.1 190.1h0M122.2 200.5h0M130.7 200.6h0M127.2 216.4h0M117.2 195.9h0M126.4 202.9h0M123.2 200.8h0M123.7 204.7h0M120.6 200.0h0M124.2 194.0h0M125.2 185.8h0M126.2 201.1h0M117.1 212.0h0M117.2 217.4h0M119.4 211.0h0M122.7 214.0h0M121.9 209.7h0M121.4 188.1h0M125.0 205.6h0M125.0 214.4h0M119.3 191.4h0M124.3 196.9h0M122.5 202.0h0M118.9 210.1h0M122.4 215.3h0M124.3 209.9h0M121.6 197.1h0M120.4 195.5h0M125.3 203.1h0M117.6 190.6h0M118.7 188.5h0M118.6 190.8h0M126.5 193.4h0M120.1 201.1h0M123.2 205.2h0M126.8 206.8h0M121.3 211.3h0M124.9 196.8h0M130.5 193.2h0M125.4 211.4h0M123.6 204.6h0M123.6 207.0h0M124.1 202.1h0M126.5 187.9h0M124.3 199.8h0M119.8 206.9h0M121.1 193.2h0M121.6 205.8h0M128.9 209.8h0M124.2 200.8h0M124.0 211.0h0M122.4 210.6h0M119.1 201.9h0M126.9 207.2h0M124.0 198.2h0M114.1 198.8h0M118.8 199.0h0M130.8 196.3h0M127.2 201.9h0M117.6 202.8h0M126.7 193.2h0M117.3 199.2h0M126.6 197.6h0M125.1 205.4h0M123.1 205.4h0M129.3 200.6h0M124.6 194.1h0M119.5 201.3h0M127.0 197.0h0M116.2 208.9h0M117.8 202.9h0M125.4 195.0h0M124.7 210.2h0M121.7 207.4h0M123.7 195.1h0M120.0 197.5h0M129.6 210.6h0M124.2 190.4h0M120.6 199.0h0" stroke="#333" stroke-width="0.5" stroke-linecap="square" opacity="0.75"/>
<path d="M101 190Q104 184 112 184.5Q120 186 120 196Q120.5 210 118 215Q112 218 104 216Q100 212 100.5 200Z" fill="#111"/>
<path d="M102.3 203Q102.3 194 107 190.5Q111 187 113.5 188.5Q114.5 192 113.8 200Q114.2 212 108.5 215Q102.8 214.5 102.3 206Z" fill="none" stroke="#dcdcdc" stroke-width="1.6"/>
<path d="M108 196V210" stroke="#7a7a7a" stroke-width="1.3"/>
<path d="M134.8 206.4h0M150.0 201.8h0M145.1 204.9h0M160.7 208.9h0M153.3 206.8h0M139.2 209.8h0M143.4 199.7h0M153.0 205.3h0M148.0 208.3h0M146.4 208.0h0M156.9 205.4h0M145.6 206.6h0M152.5 205.1h0M148.6 204.1h0M147.5 208.4h0M142.4 205.9h0M138.0 204.0h0M148.6 208.4h0M141.0 206.1h0M141.7 207.6h0M149.8 208.1h0M146.6 201.4h0M144.2 201.8h0M143.4 206.3h0M155.4 204.2h0M142.7 207.2h0M133.9 213.6h0M137.5 210.1h0M154.7 209.9h0M147.3 209.1h0M145.7 209.9h0M143.6 203.6h0M150.6 204.9h0M152.6 203.5h0M149.9 203.0h0M147.3 214.1h0M140.7 202.1h0M137.1 205.7h0M159.1 204.9h0M154.4 205.9h0M143.7 213.6h0M155.4 200.0h0M141.4 208.0h0M152.5 205.7h0M150.2 208.4h0M145.6 210.0h0M142.2 209.2h0M154.2 207.2h0M145.7 206.4h0M138.3 199.4h0M153.2 203.3h0M150.4 206.7h0M136.1 203.3h0M146.2 208.2h0M148.5 202.0h0M144.4 206.9h0M139.4 204.9h0M144.3 199.0h0M159.7 209.6h0M144.9 209.9h0M140.9 211.9h0M145.5 207.0h0M144.1 206.8h0M150.3 206.6h0M142.4 209.2h0M151.8 206.5h0M155.2 203.9h0M156.7 205.9h0M158.3 204.9h0M146.3 207.3h0M155.4 211.6h0M144.9 203.9h0M153.2 210.9h0M152.8 205.3h0M156.7 206.4h0M149.2 208.7h0M144.2 198.5h0M149.5 209.0h0M151.0 208.4h0M149.1 210.2h0M148.8 211.8h0M148.4 209.3h0M144.3 207.6h0M150.9 207.0h0M158.5 206.7h0M155.6 207.8h0M155.4 203.3h0M145.5 209.9h0M142.5 207.9h0M151.9 207.2h0M151.0 208.4h0M146.4 208.0h0M144.5 204.9h0M137.3 206.1h0M136.5 206.6h0M149.4 202.6h0M148.5 207.5h0M145.6 203.3h0M147.3 208.0h0M154.3 213.4h0M134.6 207.7h0M151.0 204.2h0M150.2 213.9h0M148.8 211.3h0M155.2 204.9h0M158.4 200.3h0M146.7 204.0h0M149.4 206.7h0M155.8 204.4h0M161.1 200.4h0M149.5 216.0h0M147.3 208.7h0M144.8 218.2h0M154.1 205.3h0M135.0 207.3h0M153.0 199.3h0M144.7 208.5h0M137.2 201.7h0M150.8 210.5h0M155.9 204.2h0M151.5 200.2h0M138.0 208.4h0M145.3 202.9h0M135.3 205.7h0M163.1 199.3h0M140.9 210.5h0M135.0 204.3h0M148.5 210.5h0M147.5 213.0h0M147.8 206.1h0M151.0 207.8h0M137.8 203.1h0M146.4 207.7h0M139.7 204.0h0M143.0 207.7h0M145.1 208.6h0M150.6 203.2h0M146.0 202.1h0M148.7 209.4h0M141.3 200.2h0M151.5 205.5h0M147.8 208.1h0M150.6 209.8h0M144.9 198.6h0M144.7 205.4h0M145.2 207.9h0M146.3 211.1h0M143.7 206.5h0M145.6 214.1h0M141.5 202.9h0M145.4 209.2h0M148.1 205.9h0M138.1 199.1h0M146.5 205.7h0M160.0 207.8h0M150.9 210.0h0M141.9 202.1h0M145.5 211.8h0M154.7 204.4h0M139.5 209.8h0M155.5 202.6h0M159.0 203.7h0M153.1 205.8h0M145.8 204.3h0M152.7 208.7h0M153.5 205.5h0M142.2 214.2h0M159.7 205.8h0M140.2 211.9h0M148.9 206.7h0M153.8 207.8h0M148.8 213.6h0M135.1 208.8h0M141.3 206.8h0M146.8 207.5h0M164.0 205.0h0M154.2 208.7h0M150.0 204.7h0M152.4 207.5h0M157.9 209.5h0M143.1 196.0h0M158.4 208.3h0M149.2 204.3h0M165.2 211.3h0M148.7 205.2h0M152.0 211.4h0M151.6 209.9h0M149.8 207.8h0M139.3 206.9h0M148.4 206.2h0M146.3 207.6h0M144.0 205.8h0M139.0 214.8h0M141.9 202.2h0M144.3 205.0h0M140.6 197.7h0M159.3 210.2h0M145.4 208.5h0M140.3 200.7h0M150.3 208.6h0M143.3 206.5h0M155.3 207.1h0M149.3 208.6h0M133.6 201.9h0M139.2 207.4h0M143.7 199.7h0M154.2 205.8h0M154.9 213.7h0M136.6 201.9h0M155.5 211.6h0M150.7 207.8h0M152.8 208.9h0M139.2 209.2h0M154.9 205.0h0M141.7 204.7h0M143.9 208.4h0M153.4 206.6h0M145.9 200.1h0M145.0 202.9h0M144.2 207.7h0M149.1 219.1h0M141.9 204.6h0M140.0 205.6h0M146.0 210.1h0M134.4 209.8h0M152.5 204.6h0M143.2 207.2h0M151.6 205.9h0M146.9 206.6h0M140.5 207.5h0M152.0 206.7h0M140.1 206.5h0M147.2 207.6h0M145.1 209.5h0M155.5 209.5h0M149.6 210.9h0M147.7 205.9h0M138.0 206.6h0M156.4 203.1h0M153.4 202.0h0M150.1 213.0h0M148.3 202.3h0M150.0 206.0h0M153.5 204.6h0M135.9 204.8h0M152.1 210.2h0M149.9 206.6h0M152.7 205.8h0M144.8 207.3h0M155.6 204.7h0M151.4 204.2h0M142.9 207.1h0M138.7 203.5h0M139.7 204.4h0M141.6 214.8h0M152.2 206.8h0M138.7 198.1h0M151.0 204.3h0M155.2 205.1h0M138.9 204.3h0M137.3 201.5h0M152.9 204.6h0M152.8 204.5h0M146.3 204.6h0M144.2 204.2h0M158.3 206.3h0M134.4 212.5h0M156.7 210.5h0M147.2 206.0h0M144.6 206.9h0M151.2 206.5h0M142.2 203.1h0M159.5 212.4h0M139.3 204.3h0M147.7 208.6h0M147.1 207.4h0M150.5 210.5h0M138.9 210.4h0M151.0 208.4h0M137.4 205.7h0M146.1 208.8h0M152.7 208.9h0M138.9 210.9h0M148.4 209.8h0M147.9 204.0h0M166.2 208.8h0M153.2 204.9h0M146.4 210.4h0M151.0 212.6h0M156.3 202.7h0M137.2 210.6h0M152.1 205.6h0M145.9 204.6h0M160.4 205.9h0M138.3 209.7h0M147.3 207.8h0M145.2 206.4h0M134.8 208.4h0M143.1 205.2h0M150.1 211.0h0M151.7 210.1h0M141.6 207.6h0M150.7 209.8h0M143.6 205.9h0M144.3 210.5h0M155.5 205.0h0M146.9 207.3h0M141.6 206.1h0M153.9 209.2h0M143.1 204.3h0M147.1 201.4h0M150.1 206.9h0M138.6 205.7h0M143.3 205.6h0M141.8 211.2h0M141.2 209.2h0M149.3 211.5h0M147.5 206.5h0M148.4 200.0h0M164.7 205.8h0M145.7 202.6h0M146.9 212.1h0M142.6 208.1h0M155.1 209.8h0M145.1 200.5h0M150.7 208.5h0M145.6 205.1h0M160.1 201.1h0M144.3 204.4h0M137.0 204.2h0M142.3 210.8h0M135.7 201.8h0M149.7 201.2h0M133.9 204.4h0M139.4 203.2h0M146.8 208.1h0M143.4 205.6h0M152.9 206.0h0M153.0 204.5h0M151.3 210.9h0M138.2 216.8h0M145.6 205.4h0M146.7 208.1h0M139.4 206.7h0M143.8 211.4h0M135.8 208.8h0M145.7 204.0h0M148.8 205.7h0M148.2 207.4h0M156.3 205.2h0M159.5 197.3h0M160.6 210.7h0M158.8 207.2h0M149.8 203.1h0M157.2 202.6h0M142.3 206.5h0M149.5 207.7h0M139.7 205.4h0M151.3 210.6h0M153.2 208.0h0M146.0 204.7h0M144.3 206.2h0M151.6 204.8h0M162.2 203.1h0M153.6 205.9h0M146.9 205.3h0M158.6 205.5h0M151.7 207.0h0M153.1 208.5h0M159.4 204.1h0M142.1 212.3h0M156.8 206.8h0M145.9 207.4h0M157.0 203.9h0M158.0 206.4h0M145.4 205.2h0M133.2 207.6h0M138.7 204.6h0M141.6 207.3h0M152.9 206.7h0M149.2 208.0h0M159.1 208.5h0M158.8 206.3h0M150.3 204.3h0M152.0 203.6h0M151.2 204.4h0M145.4 210.7h0M148.9 209.2h0M146.2 200.2h0M158.1 205.9h0M143.3 209.8h0M140.0 204.0h0M155.9 204.2h0M155.7 205.5h0M146.4 206.8h0M144.4 210.2h0M155.5 206.8h0M152.1 208.4h0M159.6 201.2h0M155.0 209.7h0M145.7 206.6h0M145.5 210.8h0M139.9 208.6h0M156.8 208.5h0M144.5 205.0h0M133.1 203.1h0M155.5 203.3h0M136.4 205.7h0M137.5 208.1h0M141.8 209.8h0M147.1 201.7h0M142.5 204.4h0M142.0 210.7h0M140.9 207.8h0M143.8 208.6h0M137.9 201.2h0M151.4 211.4h0M138.2 205.5h0M144.3 203.4h0M154.6 206.7h0M138.2 205.8h0M157.2 204.2h0M144.3 203.8h0M149.0 204.7h0M154.1 203.7h0M137.7 208.1h0M149.8 207.4h0M143.9 205.1h0M151.5 219.2h0M142.3 206.0h0M144.7 208.4h0M148.0 208.4h0M159.3 205.6h0M145.9 207.8h0M162.5 205.3h0M159.7 210.6h0M141.0 207.9h0M157.2 206.7h0M149.0 213.9h0M150.4 213.9h0M141.6 212.1h0M144.4 198.3h0M142.1 205.0h0M147.6 209.1h0M152.7 208.3h0M142.7 212.6h0M156.3 206.7h0M143.9 206.4h0M146.3 204.2h0M147.8 204.3h0M152.4 204.3h0M151.3 207.6h0M149.1 208.3h0M140.7 215.3h0M143.1 209.1h0M148.1 205.1h0M160.1 210.3h0M146.0 208.5h0M152.7 211.9h0M155.0 206.0h0M146.1 202.6h0M149.7 209.5h0M145.2 208.8h0M148.8 205.0h0M139.4 210.3h0M165.6 208.4h0M140.4 203.0h0M149.7 208.8h0M158.5 198.3h0M160.8 207.1h0M148.9 207.9h0M145.4 205.6h0M155.3 200.7h0M147.1 208.5h0M136.4 206.0h0M158.6 207.8h0M152.9 209.0h0M149.5 207.8h0M142.2 205.8h0M160.8 202.4h0M146.8 202.2h0M144.2 203.9h0M139.3 207.4h0M141.3 208.4h0M160.6 197.8h0M146.8 199.4h0M147.1 207.8h0M149.4 210.7h0M149.0 200.7h0M158.5 203.3h0M147.3 207.7h0M141.8 206.9h0M158.4 200.8h0M136.3 205.0h0M146.8 202.2h0M150.7 202.0h0M152.0 206.3h0M149.1 202.0h0M146.4 208.2h0M135.7 203.0h0M154.7 213.4h0M152.6 206.3h0M140.4 205.2h0M146.2 208.1h0M146.2 215.0h0M157.2 199.0h0M139.8 206.5h0M154.8 207.9h0M157.4 208.6h0M165.9 209.3h0M151.2 211.8h0M144.8 204.7h0M140.9 207.4h0M151.0 209.8h0M158.1 208.7h0M156.6 205.7h0M141.2 209.1h0M155.1 211.1h0M146.8 204.9h0M145.4 207.8h0M147.6 205.9h0M149.8 205.5h0M150.3 204.5h0M137.1 205.5h0M161.2 203.7h0M154.4 211.2h0M144.2 207.4h0M158.8 207.2h0M134.0 204.5h0M142.8 206.9h0M150.0 205.1h0M145.8 203.7h0M152.0 207.2h0M150.4 204.8h0M151.4 205.5h0M150.1 206.0h0M143.3 202.8h0M134.9 201.8h0M151.2 217.8h0M136.5 203.7h0M147.9 218.9h0M146.5 202.5h0M150.9 213.7h0M156.7 202.5h0M147.3 204.4h0M153.3 201.5h0M150.2 207.3h0M152.0 208.0h0M149.1 200.4h0M145.7 203.3h0M151.7 205.7h0M149.1 210.3h0M147.2 212.4h0M153.9 201.4h0M143.9 210.7h0M144.5 210.7h0M144.0 206.1h0M155.2 201.1h0M148.5 204.9h0M149.2 212.5h0M151.4 201.8h0M154.7 204.9h0M149.2 210.5h0M145.8 209.8h0M149.2 203.4h0M145.8 201.8h0M156.3 207.1h0M154.8 202.6h0M153.9 202.4h0M150.0 206.5h0M143.9 207.6h0M148.2 203.5h0M142.8 202.0h0M157.6 207.0h0M145.5 208.9h0M142.0 202.5h0M150.5 212.0h0M150.1 207.1h0M160.2 201.1h0M169.4 202.7h0M147.5 201.8h0M139.5 205.7h0M165.1 203.2h0M143.7 207.4h0M140.9 205.6h0M153.7 198.9h0M145.9 205.5h0M144.4 206.1h0M135.4 205.0h0M144.3 202.9h0M156.8 213.5h0M153.6 203.5h0M158.0 208.2h0M142.3 208.6h0M143.9 208.5h0M154.4 210.5h0M140.6 206.1h0M148.0 202.2h0M150.9 208.9h0M138.3 204.6h0M140.3 202.1h0M140.5 211.3h0M143.3 205.1h0M154.9 210.1h0M157.9 199.3h0M153.3 200.4h0M143.6 205.1h0M144.0 213.4h0M146.8 210.6h0M146.7 206.3h0M151.6 208.0h0M151.5 200.4h0M151.6 207.6h0M152.2 206.3h0M150.9 201.9h0M155.9 202.3h0M157.8 210.0h0M147.6 205.5h0M153.4 205.4h0M139.7 207.5h0M139.4 204.9h0M160.6 209.3h0M144.8 206.3h0M143.5 206.5h0M137.9 208.9h0M148.1 204.4h0M143.7 215.7h0M144.9 204.8h0M143.9 204.8h0M157.2 208.9h0M150.9 207.8h0M140.0 198.1h0M158.6 209.0h0M149.5 207.5h0M149.4 206.6h0M146.2 198.7h0M152.0 206.7h0M154.8 207.6h0M146.0 208.6h0M149.3 204.9h0M145.4 205.0h0M145.9 204.9h0M154.9 216.7h0M147.2 210.4h0M134.2 195.2h0M144.7 206.0h0M142.8 201.7h0M142.0 204.7h0M149.1 205.3h0M139.6 205.2h0M158.6 203.4h0M148.5 210.0h0M142.4 204.5h0M168.3 210.8h0M144.3 207.1h0M148.7 207.0h0M151.3 205.5h0M149.1 201.7h0M145.7 211.8h0M149.7 204.2h0M149.0 210.2h0M136.0 202.1h0M143.4 205.0h0M147.4 204.5h0M148.8 206.8h0M139.8 204.3h0M139.3 207.5h0M149.8 208.8h0M141.9 204.6h0M136.7 207.7h0M155.5 208.1h0M152.4 207.3h0M150.6 209.8h0M156.8 213.6h0M146.1 209.4h0M154.1 208.0h0M149.9 202.1h0M155.6 203.4h0M143.4 203.5h0M151.9 203.1h0M151.2 208.5h0M148.7 205.3h0M152.2 211.1h0M144.8 202.8h0M143.8 203.4h0M146.3 206.0h0" stroke="#2a3450" stroke-width="0.6" stroke-linecap="square" opacity="0.75"/>
<text x="171.8" y="179" font-size="6.8" fill="#222" textLength="9.9" lengthAdjust="spacingAndGlyphs" stroke="#222" stroke-width="0.05">0.4</text>
<line x1="180.2" y1="198" x2="228.5" y2="198" stroke="#000" stroke-width="2.4"/>
<path d="M222 193L228.4 198L222 203" fill="none" stroke="#000" stroke-width="2.3" stroke-linejoin="round" stroke-linecap="round"/>
<rect x="250.4" y="143.1" width="102.79999999999998" height="94.70000000000002" fill="none" stroke="#444" stroke-width="1.1"/>
<text x="246.5" y="157.70000000000002" font-size="6.7" fill="#2a2a2a" stroke="#222" stroke-width="0.08" text-anchor="end">10<tspan font-size="4.3" dx="0.5" dy="-2.9">5</tspan></text>
<line x1="248.9" y1="155.3" x2="250.4" y2="155.3" stroke="#555" stroke-width="0.8"/>
<text x="246.5" y="178.5" font-size="6.7" fill="#2a2a2a" stroke="#222" stroke-width="0.08" text-anchor="end">10<tspan font-size="4.3" dx="0.5" dy="-2.9">4</tspan></text>
<line x1="248.9" y1="176.1" x2="250.4" y2="176.1" stroke="#555" stroke-width="0.8"/>
<text x="246.5" y="200.5" font-size="6.7" fill="#2a2a2a" stroke="#222" stroke-width="0.08" text-anchor="end">10<tspan font-size="4.3" dx="0.5" dy="-2.9">3</tspan></text>
<line x1="248.9" y1="198.1" x2="250.4" y2="198.1" stroke="#555" stroke-width="0.8"/>
<text x="246.5" y="222.0" font-size="6.7" fill="#2a2a2a" stroke="#222" stroke-width="0.08" text-anchor="end">10<tspan font-size="4.3" dx="0.5" dy="-2.9">2</tspan></text>
<line x1="248.9" y1="219.6" x2="250.4" y2="219.6" stroke="#555" stroke-width="0.8"/>
<text x="245.0" y="230.9" font-size="6.7" fill="#2a2a2a" text-anchor="end" stroke="#222" stroke-width="0.05">0</text>
<line x1="248.9" y1="228.5" x2="250.4" y2="228.5" stroke="#555" stroke-width="0.8"/>
<text x="262.9" y="248.9" font-size="6.7" fill="#2a2a2a" text-anchor="middle" stroke="#222" stroke-width="0.05">0</text>
<line x1="262.9" y1="236.8" x2="262.9" y2="238.8" stroke="#555" stroke-width="0.8"/>
<text x="275.1" y="248.9" font-size="6.7" fill="#2a2a2a" stroke="#222" stroke-width="0.08" text-anchor="middle">10<tspan font-size="4.3" dx="0.5" dy="-2.9">2</tspan></text>
<line x1="273.6" y1="236.8" x2="273.6" y2="238.8" stroke="#555" stroke-width="0.8"/>
<text x="299.7" y="248.9" font-size="6.7" fill="#2a2a2a" stroke="#222" stroke-width="0.08" text-anchor="middle">10<tspan font-size="4.3" dx="0.5" dy="-2.9">3</tspan></text>
<line x1="298.2" y1="236.8" x2="298.2" y2="238.8" stroke="#555" stroke-width="0.8"/>
<text x="324.3" y="248.9" font-size="6.7" fill="#2a2a2a" stroke="#222" stroke-width="0.08" text-anchor="middle">10<tspan font-size="4.3" dx="0.5" dy="-2.9">4</tspan></text>
<line x1="322.8" y1="236.8" x2="322.8" y2="238.8" stroke="#555" stroke-width="0.8"/>
<text x="348.3" y="248.9" font-size="6.7" fill="#2a2a2a" stroke="#222" stroke-width="0.08" text-anchor="middle">10<tspan font-size="4.3" dx="0.5" dy="-2.9">5</tspan></text>
<line x1="346.8" y1="236.8" x2="346.8" y2="238.8" stroke="#555" stroke-width="0.8"/>
<rect x="281.4" y="153.8" width="50.1" height="37.7" fill="#a9b184" stroke="#5e6640" stroke-width="1.2"/>
<defs><radialGradient id="gg" cx="0.6" cy="0.42" r="0.6"><stop offset="0" stop-color="#808080"/><stop offset="0.45" stop-color="#a8a8a8"/><stop offset="1" stop-color="#d4d4d4" stop-opacity="0.4"/></radialGradient><clipPath id="c2g"><rect x="267" y="193.6" width="52.4" height="30.4"/></clipPath></defs>
<rect x="266.5" y="192.8" width="53.7" height="31.9" fill="#e2e2e2" stroke="#1a1a24" stroke-width="1.6"/>
<path d="M280 198Q288 193 298 194Q309 195 313 203Q315 213 309 219Q300 223 290 221Q280 219 278 210Q277 203 280 198Z" fill="url(#gg)"/>
<path d="M296.6 210.9L294.6 210.8L293.1 209.9L292.7 208.4L293.4 206.6L295.1 205.1L298.0 203.9L300.6 203.2L302.3 203.6L302.9 204.4L303.1 205.6L302.1 207.9L299.6 209.8L296.6 210.9M295.9 213.9L292.4 213.6L289.9 211.9L289.0 209.4L289.9 206.4L292.1 203.7L295.1 202.0L300.4 200.8L303.1 201.3L304.4 202.5L305.1 204.4L305.1 206.6L304.3 208.6L302.9 210.5L300.9 212.1L298.4 213.3L295.9 213.9M295.9 216.1L291.3 215.9L289.4 215.1L287.9 213.9L286.9 212.4L286.4 210.6L286.4 208.6L287.0 206.6L289.8 202.9L293.6 200.3L299.4 198.9L301.6 198.9L303.4 199.4L305.2 200.9L306.5 203.4L306.7 206.4L305.9 209.4L304.3 211.9L301.9 213.9L299.1 215.3L295.9 216.1M295.4 218.4L292.4 218.4L289.9 218.0L287.6 217.0L285.9 215.6L284.5 213.6L283.9 211.4L283.8 209.1L284.5 206.6L285.8 204.1L287.6 201.9L289.9 200.0L292.4 198.5L295.1 197.5L298.1 197.0L301.1 197.0L303.4 197.5L306.1 199.4L307.8 202.4L308.4 206.1L307.7 209.9L305.9 213.1L303.1 215.6L299.4 217.5L295.4 218.4M295.9 220.6L292.4 220.8L289.4 220.4L286.6 219.3L284.4 217.8L282.6 215.6L281.5 213.1L281.2 210.4L281.5 207.6L282.7 204.6L284.6 201.9L287.1 199.3L290.1 197.1L293.1 195.7L296.1 195.0L299.6 194.8L302.6 195.2L306.4 197.2L309.0 200.6L310.2 205.1L309.9 209.9L308.0 213.9L305.1 217.0L301.1 219.3L295.9 220.6M293.9 223.1L290.1 223.0L286.9 222.2L284.1 220.8L281.7 218.6L280.0 216.1L278.9 213.1L278.7 209.9L279.3 206.6L280.7 203.4L283.0 200.1L286.1 197.1L289.6 194.7L292.9 193.3L296.4 192.6L299.9 192.5L303.4 193.2L305.6 194.2L307.9 195.9L309.6 197.9L311.1 200.4L312.0 203.1L312.5 205.9L312.4 208.6L311.8 211.4L309.3 216.1L305.4 219.7L300.1 222.0L293.9 223.1" fill="none" stroke="#4a4a4a" stroke-width="0.6" clip-path="url(#c2g)"/>
<path d="M299 207Q302 209 301 213" stroke="#f0f0f0" stroke-width="1.2" fill="none"/>
<text x="306.9" y="167.7" font-size="6.8" fill="#222" textLength="9.5" lengthAdjust="spacingAndGlyphs" stroke="#222" stroke-width="0.05">1.0</text>
<text x="259" y="202.5" font-size="6.8" fill="#222" textLength="13" lengthAdjust="spacingAndGlyphs" stroke="#222" stroke-width="0.05">98.3</text>
<line x1="320" y1="208.8" x2="377.0" y2="208.8" stroke="#000" stroke-width="2.4"/>
<path d="M370.5 203.8L376.9 208.8L370.5 213.8" fill="none" stroke="#000" stroke-width="2.3" stroke-linejoin="round" stroke-linecap="round"/>
<line x1="251" y1="146.5" x2="352.7" y2="146.5" stroke="#c8c8c8" stroke-width="0.8"/>
<rect x="399" y="140.2" width="110" height="96.80000000000001" fill="none" stroke="#444" stroke-width="1.1"/>
<text x="394.5" y="151.3" font-size="6.7" fill="#2a2a2a" stroke="#222" stroke-width="0.08" text-anchor="end">10<tspan font-size="4.3" dx="0.5" dy="-2.9">5</tspan></text>
<line x1="397.5" y1="148.9" x2="399" y2="148.9" stroke="#555" stroke-width="0.8"/>
<text x="394.5" y="174.4" font-size="6.7" fill="#2a2a2a" stroke="#222" stroke-width="0.08" text-anchor="end">10<tspan font-size="4.3" dx="0.5" dy="-2.9">4</tspan></text>
<line x1="397.5" y1="172" x2="399" y2="172" stroke="#555" stroke-width="0.8"/>
<text x="394.5" y="196.8" font-size="6.7" fill="#2a2a2a" stroke="#222" stroke-width="0.08" text-anchor="end">10<tspan font-size="4.3" dx="0.5" dy="-2.9">3</tspan></text>
<line x1="397.5" y1="194.4" x2="399" y2="194.4" stroke="#555" stroke-width="0.8"/>
<text x="394.5" y="219.9" font-size="6.7" fill="#2a2a2a" stroke="#222" stroke-width="0.08" text-anchor="end">10<tspan font-size="4.3" dx="0.5" dy="-2.9">2</tspan></text>
<line x1="397.5" y1="217.5" x2="399" y2="217.5" stroke="#555" stroke-width="0.8"/>
<text x="393.0" y="230.9" font-size="6.7" fill="#2a2a2a" text-anchor="end" stroke="#222" stroke-width="0.05">0</text>
<line x1="397.5" y1="228.5" x2="399" y2="228.5" stroke="#555" stroke-width="0.8"/>
<text x="411" y="248.9" font-size="6.7" fill="#2a2a2a" text-anchor="middle" stroke="#222" stroke-width="0.05">0</text>
<line x1="411" y1="236" x2="411" y2="238" stroke="#555" stroke-width="0.8"/>
<text x="423.5" y="248.9" font-size="6.7" fill="#2a2a2a" stroke="#222" stroke-width="0.08" text-anchor="middle">10<tspan font-size="4.3" dx="0.5" dy="-2.9">2</tspan></text>
<line x1="422" y1="236" x2="422" y2="238" stroke="#555" stroke-width="0.8"/>
<text x="448.2" y="248.9" font-size="6.7" fill="#2a2a2a" stroke="#222" stroke-width="0.08" text-anchor="middle">10<tspan font-size="4.3" dx="0.5" dy="-2.9">3</tspan></text>
<line x1="446.7" y1="236" x2="446.7" y2="238" stroke="#555" stroke-width="0.8"/>
<text x="472.9" y="248.9" font-size="6.7" fill="#2a2a2a" stroke="#222" stroke-width="0.08" text-anchor="middle">10<tspan font-size="4.3" dx="0.5" dy="-2.9">4</tspan></text>
<line x1="471.4" y1="236" x2="471.4" y2="238" stroke="#555" stroke-width="0.8"/>
<text x="498.3" y="248.9" font-size="6.7" fill="#2a2a2a" stroke="#222" stroke-width="0.08" text-anchor="middle">10<tspan font-size="4.3" dx="0.5" dy="-2.9">5</tspan></text>
<line x1="496.8" y1="236" x2="496.8" y2="238" stroke="#555" stroke-width="0.8"/>
<rect x="429.4" y="142.2" width="80" height="53.4" fill="#dcb4c2" stroke="#d6406c" stroke-width="2.8"/>
<rect x="399.8" y="197.2" width="33" height="39" fill="#b0b8e8" stroke="#2438e0" stroke-width="2.8"/>
<defs><clipPath id="c2b"><rect x="400.8" y="197.6" width="31.6" height="37.6"/></clipPath></defs>
<ellipse cx="416" cy="211.5" rx="11" ry="11.5" fill="#3a4090" opacity="0.35"/>
<circle cx="415.7" cy="212" r="4.3" fill="#1c2260"/>
<path d="M415.9 214.9L414.4 215.0L413.4 214.4L412.9 213.1L413.1 211.6L413.7 210.1L414.9 208.8L416.4 208.0L417.6 208.0L419.0 209.1L419.1 211.4L417.9 213.7L415.9 214.9M414.9 217.6L412.6 217.4L411.0 216.1L410.5 213.6L411.1 210.6L412.6 208.1L414.6 206.3L417.1 205.3L419.4 205.5L420.6 206.4L421.4 208.1L421.5 210.4L420.9 212.6L419.9 214.6L418.6 215.9L416.9 217.1L414.9 217.6M414.6 219.9L411.1 219.5L409.0 217.6L408.3 214.6L409.1 210.4L410.9 207.0L413.6 204.5L417.4 202.9L420.4 203.1L422.3 204.4L423.4 206.6L423.6 209.6L422.9 212.9L421.6 215.6L419.8 217.6L417.4 219.2L414.6 219.9M415.1 221.6L412.6 221.7L410.6 221.3L408.9 220.4L407.7 219.1L406.9 217.4L406.6 215.4L407.3 210.4L409.1 206.4L412.4 203.2L416.9 201.1L418.9 200.8L420.9 201.1L423.4 202.6L424.8 205.1L425.3 208.6L424.7 212.6L423.3 216.1L421.1 218.9L418.4 220.7L415.1 221.6M414.4 223.6L411.6 223.5L409.4 222.8L407.5 221.6L406.0 219.9L405.2 217.9L404.8 215.4L405.7 209.4L407.9 204.9L411.6 201.4L414.4 200.0L417.1 199.1L419.4 198.8L421.6 199.2L424.6 201.0L426.5 204.4L427.1 208.9L426.2 213.9L424.4 217.9L421.9 220.8L418.4 222.8L414.4 223.6M416.4 225.4L413.1 225.5L410.1 225.0L407.6 224.0L405.6 222.3L404.1 220.1L403.3 217.6L403.0 214.6L403.3 211.1L404.0 208.1L405.2 205.4L406.9 202.9L409.0 200.9L411.9 199.0L415.4 197.6L418.4 196.9L421.1 197.0L423.1 197.6L424.9 198.6L427.5 201.9L428.8 206.4L428.5 212.1L427.0 217.1L424.4 221.2L420.9 223.9L416.4 225.4M415.9 227.4L412.1 227.3L408.9 226.4L406.1 225.0L403.9 222.9L402.4 220.4L401.5 217.4L401.3 213.9L401.7 209.9L402.5 206.6L404.0 203.6L405.9 201.1L408.1 199.1L411.1 197.2L415.1 195.7L418.6 195.0L421.6 195.2L424.1 196.0L426.1 197.3L427.7 198.9L429.1 201.1L430.5 206.4L430.2 212.9L428.4 218.6L425.4 223.0L421.1 226.0L415.9 227.4" fill="none" stroke="#2c327c" stroke-width="0.7" clip-path="url(#c2b)"/>
<path d="M414.5 213.5L417 210.5" stroke="#d8dcf4" stroke-width="1.1"/>
<path d="M445.6 227.6h0M447.8 199.2h0M464.8 202.9h0M448.8 205.3h0M464.3 207.8h0M479.3 199.5h0M468.1 220.9h0M459.7 200.2h0M446.5 218.0h0M467.9 221.6h0M451.3 218.7h0M448.5 203.3h0M458.5 207.6h0M439.3 209.5h0M447.4 221.5h0M467.3 208.5h0M456.2 199.3h0M471.4 198.8h0M437.5 213.7h0M456.3 208.5h0M451.8 219.7h0M445.1 203.4h0M456.3 210.8h0M482.7 220.0h0M452.5 205.7h0" stroke="#9aa0d0" stroke-width="0.6" stroke-linecap="square" opacity="0.6"/>
<path d="M452 193Q449 190 455 184Q462 177 470 176Q476 176 474 181Q472 186 466 189Q458 194 452 193Z" fill="none" stroke="#6a3a4a" stroke-width="0.65"/>
<path d="M460 188Q458 185 462 182Q467 179 471 179.5Q473 181 470 184Q465 189 460 188Z" fill="none" stroke="#6a3a4a" stroke-width="0.65"/>
<text x="407.6" y="156.1" font-size="6.8" fill="#222" textLength="9.3" lengthAdjust="spacingAndGlyphs" stroke="#222" stroke-width="0.05">0.5</text>
<text x="489.1" y="156.1" font-size="6.8" fill="#222" textLength="9.6" lengthAdjust="spacingAndGlyphs" stroke="#222" stroke-width="0.05">7.0</text>
<text x="437.2" y="231.4" font-size="6.8" fill="#222" textLength="12.4" lengthAdjust="spacingAndGlyphs" stroke="#222" stroke-width="0.05">91.9</text>
<text x="490.2" y="231.4" font-size="6.8" fill="#222" textLength="9.8" lengthAdjust="spacingAndGlyphs" stroke="#222" stroke-width="0.05">0.8</text>
<text x="12.8" y="290.1" font-size="11.8" fill="#111" font-weight="bold" stroke="#222" stroke-width="0.12">B</text>
<text x="271.6" y="290.1" font-size="11.8" fill="#111" font-weight="bold" stroke="#222" stroke-width="0.12">C</text>
<line x1="55.7" y1="293.4" x2="55.7" y2="429.4" stroke="#111" stroke-width="1.8"/>
<line x1="55.7" y1="429.0" x2="255.5" y2="429.0" stroke="#111" stroke-width="2"/>
<line x1="52.7" y1="426.4" x2="55.7" y2="426.4" stroke="#111" stroke-width="1"/>
<text x="46.7" y="429.29999999999995" font-size="8.1" fill="#222" text-anchor="middle" stroke="#222" stroke-width="0.12">0</text>
<line x1="52.7" y1="400.4" x2="55.7" y2="400.4" stroke="#111" stroke-width="1"/>
<text x="46.7" y="403.29999999999995" font-size="8.1" fill="#222" text-anchor="middle" stroke="#222" stroke-width="0.12">1</text>
<line x1="52.7" y1="374.4" x2="55.7" y2="374.4" stroke="#111" stroke-width="1"/>
<text x="46.7" y="377.29999999999995" font-size="8.1" fill="#222" text-anchor="middle" stroke="#222" stroke-width="0.12">2</text>
<line x1="52.7" y1="348.4" x2="55.7" y2="348.4" stroke="#111" stroke-width="1"/>
<text x="46.7" y="351.29999999999995" font-size="8.1" fill="#222" text-anchor="middle" stroke="#222" stroke-width="0.12">3</text>
<line x1="52.7" y1="322.4" x2="55.7" y2="322.4" stroke="#111" stroke-width="1"/>
<text x="46.7" y="325.29999999999995" font-size="8.1" fill="#222" text-anchor="middle" stroke="#222" stroke-width="0.12">4</text>
<line x1="52.7" y1="296.4" x2="55.7" y2="296.4" stroke="#111" stroke-width="1"/>
<text x="46.7" y="299.29999999999995" font-size="8.1" fill="#222" text-anchor="middle" stroke="#222" stroke-width="0.12">5</text>
<line x1="59.6" y1="428.9" x2="59.6" y2="431.9" stroke="#111" stroke-width="1"/>
<text x="59.6" y="442.7" font-size="8.4" fill="#222" text-anchor="middle" stroke="#222" stroke-width="0.12">Pre</text>
<line x1="75" y1="428.9" x2="75" y2="431.9" stroke="#111" stroke-width="1"/>
<text x="75" y="442.7" font-size="8.4" fill="#222" text-anchor="middle" stroke="#222" stroke-width="0.12">1</text>
<line x1="105.5" y1="428.9" x2="105.5" y2="431.9" stroke="#111" stroke-width="1"/>
<text x="105.5" y="442.7" font-size="8.4" fill="#222" text-anchor="middle" stroke="#222" stroke-width="0.12">3</text>
<line x1="151" y1="428.9" x2="151" y2="431.9" stroke="#111" stroke-width="1"/>
<text x="151" y="442.7" font-size="8.4" fill="#222" text-anchor="middle" stroke="#222" stroke-width="0.12">6</text>
<line x1="250.4" y1="428.9" x2="250.4" y2="431.9" stroke="#111" stroke-width="1"/>
<text x="250.4" y="442.7" font-size="8.4" fill="#222" text-anchor="middle" stroke="#222" stroke-width="0.12">12</text>
<text x="96.5" y="457.0" font-size="10.8" fill="#222" textLength="110" lengthAdjust="spacingAndGlyphs" stroke="#222" stroke-width="0.12">Time post ibrutinib initiation</text>
<text transform="translate(39.6 361.5) rotate(-90)" font-size="9.9" fill="#222" stroke="#222" stroke-width="0.1" text-anchor="middle" textLength="128" lengthAdjust="spacingAndGlyphs">Change from pre ibrutinib (ratio)</text>
<path d="M59.6 400.4 L74 325.0 L105.5 406.9 L151 417.29999999999995 L250.4 422.76" fill="none" stroke="#5c9c3c" stroke-width="1.8"/>
<path d="M105.5 399.09999999999997V414.7M101.0 399.09999999999997H110.0M101.0 414.7H110.0" stroke="#5c9c3c" stroke-width="1.4" fill="none"/>
<path d="M151 413.4V419.9M146.5 413.4H155.5M146.5 419.9H155.5" stroke="#5c9c3c" stroke-width="1.4" fill="none"/>
<circle cx="59.6" cy="400.4" r="4.1" fill="#6aaa3e" stroke="#5c9c3c" stroke-width="0.8"/>
<circle cx="74" cy="325.0" r="4.1" fill="#6aaa3e" stroke="#5c9c3c" stroke-width="0.8"/>
<circle cx="105.5" cy="406.9" r="4.1" fill="#6aaa3e" stroke="#5c9c3c" stroke-width="0.8"/>
<circle cx="151" cy="417.29999999999995" r="4.1" fill="#6aaa3e" stroke="#5c9c3c" stroke-width="0.8"/>
<circle cx="250.4" cy="422.76" r="4.1" fill="#6aaa3e" stroke="#5c9c3c" stroke-width="0.8"/>
<path d="M59.6 399.62 L75 364.0 L112.7 390.0 L151.3 369.2 L250.2 347.62" fill="none" stroke="#353d96" stroke-width="1.8"/>
<path d="M75 340.08V387.91999999999996M70.5 340.08H79.5M70.5 387.91999999999996H79.5" stroke="#353d96" stroke-width="1.4" fill="none"/>
<path d="M112.7 370.23999999999995V407.67999999999995M108.2 370.23999999999995H117.2M108.2 407.67999999999995H117.2" stroke="#353d96" stroke-width="1.4" fill="none"/>
<path d="M151.3 343.2V394.15999999999997M146.8 343.2H155.8M146.8 394.15999999999997H155.8" stroke="#353d96" stroke-width="1.4" fill="none"/>
<path d="M250.2 321.88V373.09999999999997M245.7 321.88H254.7M245.7 373.09999999999997H254.7" stroke="#353d96" stroke-width="1.4" fill="none"/>
<rect x="55.300000000000004" y="395.32" width="8.6" height="8.6" fill="#3a44a4" stroke="#353d96" stroke-width="0.6"/>
<rect x="70.7" y="359.7" width="8.6" height="8.6" fill="#3a44a4" stroke="#353d96" stroke-width="0.6"/>
<rect x="108.4" y="385.7" width="8.6" height="8.6" fill="#3a44a4" stroke="#353d96" stroke-width="0.6"/>
<rect x="147.0" y="364.9" width="8.6" height="8.6" fill="#3a44a4" stroke="#353d96" stroke-width="0.6"/>
<rect x="245.89999999999998" y="343.32" width="8.6" height="8.6" fill="#3a44a4" stroke="#353d96" stroke-width="0.6"/>
<path d="M59.6 401.44 L75 419.64 L105.5 423.02 L151 424.32 L250.4 426.4" fill="none" stroke="#d2306a" stroke-width="1.8"/>
<path d="M75 413.4V419.64M70.5 413.4H79.5M70.5 419.64H79.5" stroke="#d2306a" stroke-width="1.4" fill="none"/>
<circle cx="59.6" cy="401.44" r="4" fill="#c8307a"/>
<path d="M75 415.03999999999996L79.7 422.94L70.3 422.94Z" fill="#d2306a"/>
<path d="M105.5 418.41999999999996L110.2 426.32L100.8 426.32Z" fill="#d2306a"/>
<path d="M151 419.71999999999997L155.7 427.62L146.3 427.62Z" fill="#d2306a"/>
<path d="M250.4 421.79999999999995L255.1 429.7L245.70000000000002 429.7Z" fill="#d2306a"/>
<line x1="310.5" y1="293.4" x2="310.5" y2="429.4" stroke="#111" stroke-width="1.8"/>
<line x1="310.5" y1="429.0" x2="507.6" y2="429.0" stroke="#111" stroke-width="2"/>
<line x1="307.5" y1="426.4" x2="310.5" y2="426.4" stroke="#111" stroke-width="1"/>
<text x="301.5" y="429.29999999999995" font-size="8.1" fill="#222" text-anchor="middle" stroke="#222" stroke-width="0.12">0</text>
<line x1="307.5" y1="400.4" x2="310.5" y2="400.4" stroke="#111" stroke-width="1"/>
<text x="301.5" y="403.29999999999995" font-size="8.1" fill="#222" text-anchor="middle" stroke="#222" stroke-width="0.12">1</text>
<line x1="307.5" y1="374.4" x2="310.5" y2="374.4" stroke="#111" stroke-width="1"/>
<text x="301.5" y="377.29999999999995" font-size="8.1" fill="#222" text-anchor="middle" stroke="#222" stroke-width="0.12">2</text>
<line x1="307.5" y1="348.4" x2="310.5" y2="348.4" stroke="#111" stroke-width="1"/>
<text x="301.5" y="351.29999999999995" font-size="8.1" fill="#222" text-anchor="middle" stroke="#222" stroke-width="0.12">3</text>
<line x1="307.5" y1="322.4" x2="310.5" y2="322.4" stroke="#111" stroke-width="1"/>
<text x="301.5" y="325.29999999999995" font-size="8.1" fill="#222" text-anchor="middle" stroke="#222" stroke-width="0.12">4</text>
<line x1="307.5" y1="296.4" x2="310.5" y2="296.4" stroke="#111" stroke-width="1"/>
<text x="301.5" y="299.29999999999995" font-size="8.1" fill="#222" text-anchor="middle" stroke="#222" stroke-width="0.12">5</text>
<line x1="318.9" y1="428.9" x2="318.9" y2="431.9" stroke="#111" stroke-width="1"/>
<text x="318.9" y="442.7" font-size="8.4" fill="#222" text-anchor="middle" stroke="#222" stroke-width="0.12">1</text>
<line x1="351.3" y1="428.9" x2="351.3" y2="431.9" stroke="#111" stroke-width="1"/>
<text x="351.3" y="442.7" font-size="8.4" fill="#222" text-anchor="middle" stroke="#222" stroke-width="0.12">3</text>
<line x1="400.7" y1="428.9" x2="400.7" y2="431.9" stroke="#111" stroke-width="1"/>
<text x="400.7" y="442.7" font-size="8.4" fill="#222" text-anchor="middle" stroke="#222" stroke-width="0.12">6</text>
<line x1="499.7" y1="428.9" x2="499.7" y2="431.9" stroke="#111" stroke-width="1"/>
<text x="499.7" y="442.7" font-size="8.4" fill="#222" text-anchor="middle" stroke="#222" stroke-width="0.12">12</text>
<text x="332.3" y="457.0" font-size="10.8" fill="#222" textLength="136.3" lengthAdjust="spacingAndGlyphs" stroke="#222" stroke-width="0.12">Time post ibrutinib discontinuation</text>
<text transform="translate(294.4 361.5) rotate(-90)" font-size="9.9" fill="#222" stroke="#222" stroke-width="0.1" text-anchor="middle" textLength="128" lengthAdjust="spacingAndGlyphs">Change from pre ibrutinib (ratio)</text>
<path d="M318.9 426.4 L351.3 423.79999999999995 L400.7 426.4 L499.7 426.4" fill="none" stroke="#5c9c3c" stroke-width="1.8"/>
<circle cx="318.9" cy="426.4" r="4.1" fill="#6aaa3e" stroke="#5c9c3c" stroke-width="0.8"/>
<circle cx="351.3" cy="423.79999999999995" r="4.1" fill="#6aaa3e" stroke="#5c9c3c" stroke-width="0.8"/>
<circle cx="400.7" cy="426.4" r="4.1" fill="#6aaa3e" stroke="#5c9c3c" stroke-width="0.8"/>
<circle cx="499.7" cy="426.4" r="4.1" fill="#6aaa3e" stroke="#5c9c3c" stroke-width="0.8"/>
<path d="M318.9 426.65999999999997 L351.3 424.06 L400.7 426.4 L499.7 426.4" fill="none" stroke="#c0303e" stroke-width="2.3"/>
<circle cx="318.9" cy="426.65999999999997" r="2.6" fill="#c0303e"/>
<circle cx="351.3" cy="424.06" r="2.6" fill="#c0303e"/>
<circle cx="400.7" cy="426.4" r="2.6" fill="#c0303e"/>
<circle cx="499.7" cy="426.4" r="2.6" fill="#c0303e"/>
<path d="M318.9 400.4 L368 400.4 L400.7 397.02 L499.7 387.4" fill="none" stroke="#353d96" stroke-width="1.8"/>
<path d="M368 387.4V413.4M363.5 387.4H372.5M363.5 413.4H372.5" stroke="#353d96" stroke-width="1.4" fill="none"/>
<path d="M400.7 374.91999999999996V419.12M396.2 374.91999999999996H405.2M396.2 419.12H405.2" stroke="#353d96" stroke-width="1.4" fill="none"/>
<path d="M499.7 374.4V400.4M495.2 374.4H504.2M495.2 400.4H504.2" stroke="#353d96" stroke-width="1.4" fill="none"/>
<rect x="314.59999999999997" y="396.09999999999997" width="8.6" height="8.6" fill="#3a44a4" stroke="#353d96" stroke-width="0.6"/>
<rect x="363.7" y="396.09999999999997" width="8.6" height="8.6" fill="#3a44a4" stroke="#353d96" stroke-width="0.6"/>
<rect x="396.4" y="392.71999999999997" width="8.6" height="8.6" fill="#3a44a4" stroke="#353d96" stroke-width="0.6"/>
<rect x="495.4" y="383.09999999999997" width="8.6" height="8.6" fill="#3a44a4" stroke="#353d96" stroke-width="0.6"/>
<line x1="411.7" y1="300.6" x2="429" y2="300.6" stroke="#5c9c3c" stroke-width="1.2" opacity="0.8"/>
<circle cx="420.4" cy="300.6" r="3.8" fill="#6aaa3e" stroke="#5c9c3c" stroke-width="0.8"/>
<text x="432.9" y="303.90000000000003" font-size="8.6" fill="#222" textLength="44" lengthAdjust="spacingAndGlyphs" stroke="#222" stroke-width="0.12">CD5+CD23+</text>
<line x1="411.7" y1="313.6" x2="429" y2="313.6" stroke="#353d96" stroke-width="1.2" opacity="0.8"/>
<rect x="415.9" y="309.1" width="9" height="9" fill="#3a44a4" stroke="#353d96" stroke-width="0.6"/>
<text x="432.9" y="316.90000000000003" font-size="8.6" fill="#222" textLength="62.5" lengthAdjust="spacingAndGlyphs" stroke="#222" stroke-width="0.12">CD38-CD27+ IgD-</text>
<line x1="411.7" y1="325.8" x2="429" y2="325.8" stroke="#d2306a" stroke-width="1.2" opacity="0.8"/>
<path d="M420.4 321.6L424.8 328.7L416 328.7Z" fill="#d2306a"/>
<text x="432.9" y="329.1" font-size="8.6" fill="#222" textLength="65.5" lengthAdjust="spacingAndGlyphs" stroke="#222" stroke-width="0.12">CD38+CD27+IgD+</text>
<path d="M0.7 0.7H519.3V464.9H0.7Z" fill="none" stroke="#000" stroke-width="1.5"/>
<line x1="0" y1="465" x2="520" y2="465" stroke="#000" stroke-width="2"/>
</svg></body></html>
